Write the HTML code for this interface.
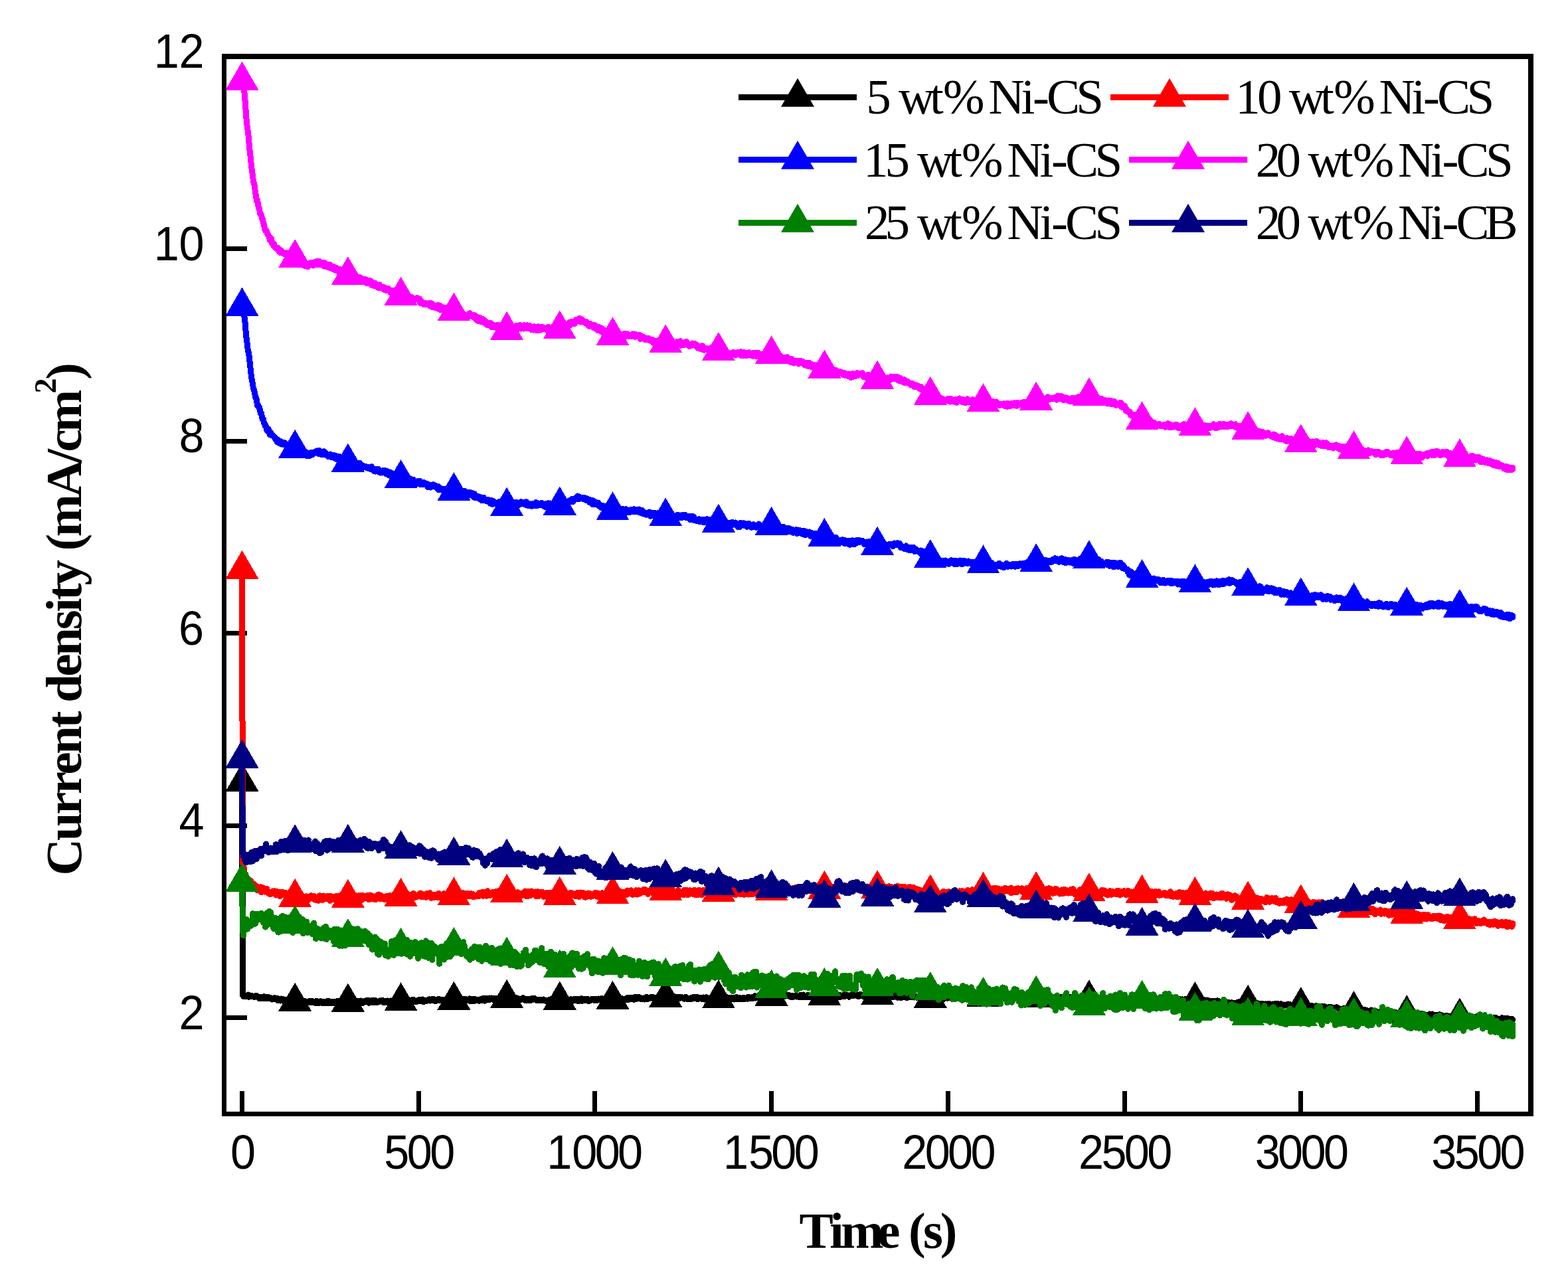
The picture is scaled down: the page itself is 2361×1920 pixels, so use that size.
<!DOCTYPE html>
<html><head><meta charset="utf-8"><title>Current density vs time</title>
<style>
html,body{margin:0;padding:0;background:#fff;overflow:hidden;width:2361px;height:1920px;}
svg{display:block;}
.tl{font-family:'Liberation Sans', Arial, sans-serif;font-size:72px;fill:#000;}
.lg{font-family:'Liberation Serif', 'Times New Roman', serif;font-size:75px;fill:#000;}
.ti{font-family:'Liberation Serif', 'Times New Roman', serif;font-size:77px;font-weight:bold;fill:#000;}
</style></head>
<body>
<svg width="2361" height="1920" viewBox="0 0 2361 1920">
<rect width="2361" height="1920" fill="#fff"/>
<g id="axes" shape-rendering="crispEdges">
<path fill="#000" d="M334 81H2309V1681H334ZM341 89V1674H2301V89Z" fill-rule="evenodd"/>
<path fill="none" stroke="#000" stroke-width="7" d="M364.5 1643V1674M630.2 1643V1674M895.9 1643V1674M1161.6 1643V1674M1427.4 1643V1674M1693.1 1643V1674M1958.8 1643V1674M2224.5 1643V1674M341 1532.5H372M341 1243.0H372M341 953.5H372M341 664.0H372M341 374.5H372"/>
</g>
<g id="data" shape-rendering="crispEdges">
<path fill="none" stroke="#000000" stroke-width="9" stroke-linejoin="round" stroke-linecap="round" d="M364.5 1177.6 365.5 1499 366.5 1500.3 367.5 1500.7 368.5 1500.2 369.5 1500.5 370.5 1499.4 371.5 1499.7 372.5 1499.3 373.5 1498 374.5 1501.3 375.5 1500.3 376.5 1498.9 377.5 1500.3 378.5 1500.3 379.5 1499.9 380.5 1500 381.5 1500.9 382.5 1501.3 383.5 1501.4 384.5 1500.9 385.5 1499.3 386.5 1500.3 387.5 1500.2 388.5 1501.9 389.5 1503.2 390.5 1503 391.5 1503.2 392.5 1503.4 393.5 1501.2 394.5 1503.7 395.5 1503.2 396.5 1500.9 397.5 1500.8 398.5 1500.9 399.5 1504 400.5 1502.1 401.5 1501.7 402.5 1503.8 403.5 1502.8 404.5 1501.9 405.5 1502.4 406.5 1504 407.5 1502.6 408.5 1503.2 409.5 1505.1 410.5 1504.2 411.5 1503.8 412.5 1504.5 413.5 1502.8 414.5 1504.4 415.5 1504.6 416.5 1503.8 417.5 1503.6 418.5 1506.9 419.5 1505.5 420.5 1504.4 421.5 1506.1 422.5 1507.1 423.5 1504 424.5 1504.1 425.5 1504.7 426.5 1507.2 427.5 1505 428.5 1507.3 429.5 1507.4 430.5 1506.9 431.5 1505.8 432.5 1508.9 433.5 1508.3 434.5 1507.3 435.5 1506.2 436.5 1508.1 437.5 1507.2 438.5 1508 439.5 1507.1 440.5 1508.5 441.5 1506.3 442.5 1507.4 443.5 1510.2 444.5 1509.9 445.5 1507.7 446.5 1509.9 447.5 1507.7 448.5 1510.3 449.5 1509.5 450.5 1508.2 451.5 1507.6 452.5 1506.6 453.5 1510.1 454.5 1506.8 455.5 1509.9 456.5 1510.5 457.5 1509 458.5 1507.4 459.5 1510.2 460.5 1510.7 461.5 1509.6 462.5 1508.8 463.5 1508.3 464.5 1508.2 465.5 1507.7 466.5 1509.6 467.5 1508.7 468.5 1507.7 469.5 1507.4 470.5 1509.7 471.5 1508.2 472.5 1509 473.5 1508.3 474.5 1510.5 475.5 1510.6 476.5 1507.1 477.5 1507.8 478.5 1508.3 479.5 1511 480.5 1510.2 481.5 1508.4 482.5 1507.9 483.5 1509.7 484.5 1510.4 485.5 1510.8 486.5 1508.4 487.5 1510.6 488.5 1509.8 489.5 1509 490.5 1511 491.5 1508 492.5 1510 493.5 1507.4 494.5 1507.8 495.5 1510.7 496.5 1507.9 497.5 1510.1 498.5 1509.5 499.5 1510.5 500.5 1508.6 501.5 1508.5 502.5 1508.3 503.5 1510.6 504.5 1509.5 505.5 1510.9 506.5 1510.7 507.5 1507.7 508.5 1509.3 509.5 1507.6 510.5 1507.3 511.5 1507.4 512.5 1510.6 513.5 1510.3 514.5 1510.5 515.5 1508.5 516.5 1509.6 517.5 1510.3 518.5 1508.7 519.5 1509.5 520.5 1508.1 521.5 1507.5 522.5 1508.3 523.5 1510.8 524.5 1509.4 525.5 1510.9 526.5 1509 527.5 1508.2 528.5 1510.2 529.5 1510.3 530.5 1507.1 531.5 1509.7 532.5 1507.3 533.5 1507.4 534.5 1510.4 535.5 1507 536.5 1507.8 537.5 1510.8 538.5 1508.5 539.5 1507.2 540.5 1507.4 541.5 1507.6 542.5 1509.6 543.5 1507 544.5 1510.2 545.5 1508.1 546.5 1510.4 547.5 1510.1 548.5 1507.7 549.5 1507.5 550.5 1508.3 551.5 1506.8 552.5 1509 553.5 1506.5 554.5 1506.3 555.5 1510.2 556.5 1507.4 557.5 1508.6 558.5 1508 559.5 1507.4 560.5 1506.4 561.5 1509.8 562.5 1509.9 563.5 1509.9 564.5 1506.5 565.5 1506.9 566.5 1508.5 567.5 1509.9 568.5 1508.1 569.5 1508.7 570.5 1508.6 571.5 1507 572.5 1508.1 573.5 1507.1 574.5 1506.9 575.5 1506.2 576.5 1507 577.5 1509.8 578.5 1507.7 579.5 1508.5 580.5 1508.4 581.5 1509.6 582.5 1507.4 583.5 1507 584.5 1507.1 585.5 1507.1 586.5 1509.2 587.5 1509.3 588.5 1507 589.5 1507.1 590.5 1507.9 591.5 1508 592.5 1508.1 593.5 1506.7 594.5 1505.8 595.5 1506.7 596.5 1506 597.5 1507.9 598.5 1505.9 599.5 1505.9 600.5 1508.2 601.5 1506.8 602.5 1508.8 603.5 1507.6 604.5 1509 605.5 1506.2 606.5 1507.5 607.5 1508.7 608.5 1505.8 609.5 1509.2 610.5 1506.1 611.5 1508.5 612.5 1509.3 613.5 1508.6 614.5 1506.6 615.5 1505.7 616.5 1507.3 617.5 1508.9 618.5 1506.4 619.5 1508.8 620.5 1505.7 621.5 1508.8 622.5 1505.2 623.5 1506.4 624.5 1508.7 625.5 1508.3 626.5 1508.6 627.5 1508.4 628.5 1507.9 629.5 1507.7 630.5 1505.6 631.5 1506.6 632.5 1505.5 633.5 1507.7 634.5 1507.5 635.5 1505.8 636.5 1505 637.5 1508.6 638.5 1507.9 639.5 1506.9 640.5 1506.8 641.5 1508 642.5 1506.4 643.5 1506.2 644.5 1505.9 645.5 1505.6 646.5 1504.6 647.5 1507.1 648.5 1506.1 649.5 1506.7 650.5 1504.7 651.5 1505.8 652.5 1504.9 653.5 1504.8 654.5 1505.3 655.5 1507.6 656.5 1505.8 657.5 1505.8 658.5 1506.6 659.5 1505.1 660.5 1504.2 661.5 1506.3 662.5 1506.2 663.5 1506.8 664.5 1506 665.5 1507 666.5 1507.2 667.5 1505.2 668.5 1506.2 669.5 1506.2 670.5 1505.1 671.5 1505.9 672.5 1506.5 673.5 1507.9 674.5 1507.9 675.5 1505.4 676.5 1506.9 677.5 1504.5 678.5 1504.6 679.5 1506.3 680.5 1507.8 681.5 1504.9 682.5 1507.4 683.5 1507.8 684.5 1505.5 685.5 1507 686.5 1507.6 687.5 1505.7 688.5 1507 689.5 1507.1 690.5 1506.5 691.5 1507.5 692.5 1507.7 693.5 1507.9 694.5 1506.3 695.5 1504.7 696.5 1505 697.5 1504.9 698.5 1506.2 699.5 1507 700.5 1504.1 701.5 1506.6 702.5 1506.7 703.5 1505.2 704.5 1505.9 705.5 1504.5 706.5 1506.7 707.5 1503.9 708.5 1507.7 709.5 1507 710.5 1506.2 711.5 1504.8 712.5 1507.3 713.5 1507.5 714.5 1504.2 715.5 1506.7 716.5 1506.9 717.5 1506.2 718.5 1506.3 719.5 1505.3 720.5 1507.2 721.5 1507.3 722.5 1505 723.5 1506.6 724.5 1505.1 725.5 1504 726.5 1504.7 727.5 1503.8 728.5 1506.9 729.5 1507.1 730.5 1503.7 731.5 1505.6 732.5 1504.9 733.5 1503.7 734.5 1504.3 735.5 1504.1 736.5 1506 737.5 1503 738.5 1503.7 739.5 1504.6 740.5 1502.9 741.5 1505.2 742.5 1505.1 743.5 1506 744.5 1503.4 745.5 1503.6 746.5 1504.6 747.5 1503.5 748.5 1504.7 749.5 1503.3 750.5 1505 751.5 1505.3 752.5 1505.3 753.5 1505.9 754.5 1504.2 755.5 1503.9 756.5 1505.3 757.5 1504.9 758.5 1504 759.5 1503.2 760.5 1502.8 761.5 1502 762.5 1504.8 763.5 1502 764.5 1504.6 765.5 1503.8 766.5 1505.5 767.5 1504.8 768.5 1505.7 769.5 1502.4 770.5 1503.9 771.5 1504.2 772.5 1503.2 773.5 1504 774.5 1503.5 775.5 1504.2 776.5 1502.1 777.5 1504 778.5 1504 779.5 1503.5 780.5 1503.9 781.5 1505.5 782.5 1505.2 783.5 1504.4 784.5 1505.1 785.5 1504.1 786.5 1503.4 787.5 1502.7 788.5 1503.8 789.5 1505.1 790.5 1506.3 791.5 1506.1 792.5 1504.8 793.5 1506.8 794.5 1504.7 795.5 1506.2 796.5 1504.5 797.5 1505.9 798.5 1506.9 799.5 1504.2 800.5 1503.7 801.5 1505.5 802.5 1505.2 803.5 1504.5 804.5 1503.1 805.5 1504.7 806.5 1504.9 807.5 1504.8 808.5 1506.7 809.5 1505.6 810.5 1506.2 811.5 1506.9 812.5 1506.3 813.5 1505.3 814.5 1506.4 815.5 1506 816.5 1506.1 817.5 1506 818.5 1505.1 819.5 1506.1 820.5 1506.1 821.5 1507.3 822.5 1506.8 823.5 1507 824.5 1506.8 825.5 1507 826.5 1506.2 827.5 1505.2 828.5 1504.9 829.5 1506.7 830.5 1507.3 831.5 1506.1 832.5 1504.5 833.5 1507.3 834.5 1505.9 835.5 1505.9 836.5 1504.2 837.5 1506.1 838.5 1507.1 839.5 1505.8 840.5 1505.6 841.5 1506.8 842.5 1504.3 843.5 1506.2 844.5 1508 845.5 1506.9 846.5 1505.7 847.5 1506.9 848.5 1506.5 849.5 1504.9 850.5 1504.9 851.5 1507.6 852.5 1505.1 853.5 1504.3 854.5 1507.3 855.5 1506.1 856.5 1505.4 857.5 1506 858.5 1506.9 859.5 1504.6 860.5 1506.5 861.5 1506.7 862.5 1507.1 863.5 1504.9 864.5 1506.2 865.5 1504.7 866.5 1506 867.5 1504.4 868.5 1506.9 869.5 1507.2 870.5 1505 871.5 1504.5 872.5 1507.5 873.5 1506.4 874.5 1507 875.5 1503.7 876.5 1507.2 877.5 1506 878.5 1504.8 879.5 1505.2 880.5 1506.5 881.5 1506.6 882.5 1504.3 883.5 1506 884.5 1504.2 885.5 1507.4 886.5 1505.3 887.5 1507.2 888.5 1506.4 889.5 1505.9 890.5 1504.5 891.5 1505.6 892.5 1504.1 893.5 1504.1 894.5 1506.4 895.5 1504.9 896.5 1506.5 897.5 1504.5 898.5 1506.4 899.5 1506.4 900.5 1504.7 901.5 1503.9 902.5 1505.1 903.5 1505.5 904.5 1503.9 905.5 1504.2 906.5 1503.7 907.5 1505.9 908.5 1507.1 909.5 1504.4 910.5 1503.6 911.5 1506.3 912.5 1506.8 913.5 1507.4 914.5 1506 915.5 1504.9 916.5 1506.9 917.5 1504 918.5 1506.3 919.5 1503.9 920.5 1505.1 921.5 1505.5 922.5 1505 923.5 1504.1 924.5 1504.3 925.5 1506.6 926.5 1505.1 927.5 1505.5 928.5 1504 929.5 1506 930.5 1504.4 931.5 1505.4 932.5 1506.6 933.5 1506.9 934.5 1503 935.5 1506 936.5 1506.2 937.5 1503.9 938.5 1504.1 939.5 1504.9 940.5 1506.2 941.5 1504 942.5 1505.9 943.5 1505.4 944.5 1502.9 945.5 1505.9 946.5 1502.2 947.5 1502.7 948.5 1504.7 949.5 1502.2 950.5 1503.5 951.5 1502.4 952.5 1503.7 953.5 1505.1 954.5 1505.3 955.5 1501.8 956.5 1501.9 957.5 1505 958.5 1501.8 959.5 1502.7 960.5 1502 961.5 1501.9 962.5 1501.6 963.5 1504 964.5 1504.4 965.5 1504.1 966.5 1504.7 967.5 1504 968.5 1502.9 969.5 1503.8 970.5 1505.1 971.5 1503.8 972.5 1502.1 973.5 1501.4 974.5 1504.9 975.5 1503.5 976.5 1502.5 977.5 1503.5 978.5 1503.2 979.5 1503.1 980.5 1501.2 981.5 1502.3 982.5 1502.5 983.5 1501.6 984.5 1504.3 985.5 1502.5 986.5 1503.4 987.5 1503.6 988.5 1503.7 989.5 1503.6 990.5 1503.7 991.5 1501.6 992.5 1504.5 993.5 1501.2 994.5 1504.2 995.5 1503.9 996.5 1503.9 997.5 1500.7 998.5 1500.8 999.5 1503.6 1000.5 1502.2 1001.5 1501.8 1002.5 1504.2 1003.5 1500.5 1004.5 1502.5 1005.5 1502.1 1006.5 1500.9 1007.5 1502 1008.5 1503.2 1009.5 1503.9 1010.5 1500.5 1011.5 1502.5 1012.5 1500.8 1013.5 1503.7 1014.5 1500.8 1015.5 1500.6 1016.5 1502 1017.5 1503.5 1018.5 1501.8 1019.5 1501.1 1020.5 1503.7 1021.5 1503.8 1022.5 1504 1023.5 1501.8 1024.5 1502.3 1025.5 1501.6 1026.5 1502.9 1027.5 1502 1028.5 1502 1029.5 1503.8 1030.5 1504.5 1031.5 1503.1 1032.5 1501.2 1033.5 1503.4 1034.5 1502.6 1035.5 1504.8 1036.5 1503.7 1037.5 1504.2 1038.5 1503.7 1039.5 1503.1 1040.5 1504.6 1041.5 1504.3 1042.5 1502.2 1043.5 1501.7 1044.5 1502.5 1045.5 1503.2 1046.5 1501.5 1047.5 1502.5 1048.5 1503.5 1049.5 1501.4 1050.5 1504.5 1051.5 1503.8 1052.5 1502.5 1053.5 1502.5 1054.5 1502.7 1055.5 1502.6 1056.5 1504.4 1057.5 1503.4 1058.5 1503.5 1059.5 1502 1060.5 1505.1 1061.5 1502.8 1062.5 1502.8 1063.5 1501.8 1064.5 1505.5 1065.5 1503.5 1066.5 1505.3 1067.5 1505.4 1068.5 1505.5 1069.5 1505 1070.5 1505.4 1071.5 1505.4 1072.5 1505 1073.5 1502.3 1074.5 1503.9 1075.5 1504.1 1076.5 1505.8 1077.5 1505 1078.5 1504.7 1079.5 1504.9 1080.5 1503.4 1081.5 1505.8 1082.5 1504.6 1083.5 1503.6 1084.5 1503.8 1085.5 1505.9 1086.5 1504.1 1087.5 1502.6 1088.5 1502.5 1089.5 1504.6 1090.5 1504.1 1091.5 1505.5 1092.5 1502.6 1093.5 1503.5 1094.5 1504.7 1095.5 1502 1096.5 1502.2 1097.5 1504 1098.5 1502.8 1099.5 1502.2 1100.5 1502.8 1101.5 1504.3 1102.5 1503.8 1103.5 1502 1104.5 1502 1105.5 1505.1 1106.5 1504.2 1107.5 1502.2 1108.5 1504.9 1109.5 1501.5 1110.5 1502.8 1111.5 1504.7 1112.5 1504.1 1113.5 1502.3 1114.5 1504.7 1115.5 1503.4 1116.5 1504.4 1117.5 1504.5 1118.5 1502.6 1119.5 1503.5 1120.5 1502.9 1121.5 1504.4 1122.5 1503.8 1123.5 1503.4 1124.5 1503.7 1125.5 1504.4 1126.5 1501.4 1127.5 1501.1 1128.5 1503.2 1129.5 1503.3 1130.5 1502.2 1131.5 1502 1132.5 1501.6 1133.5 1503.5 1134.5 1503.1 1135.5 1502.1 1136.5 1499.9 1137.5 1503.1 1138.5 1501.5 1139.5 1500.3 1140.5 1500.7 1141.5 1502.2 1142.5 1499.4 1143.5 1499.8 1144.5 1500.5 1145.5 1502.7 1146.5 1502.1 1147.5 1503 1148.5 1501.2 1149.5 1501.2 1150.5 1501.1 1151.5 1500.9 1152.5 1500.9 1153.5 1502 1154.5 1502.5 1155.5 1500.2 1156.5 1501 1157.5 1499.7 1158.5 1499.6 1159.5 1500.4 1160.5 1500.6 1161.5 1500.4 1162.5 1502.1 1163.5 1498.8 1164.5 1500.7 1165.5 1502.2 1166.5 1501.1 1167.5 1500.4 1168.5 1499.6 1169.5 1499.8 1170.5 1501.9 1171.5 1501.7 1172.5 1500.8 1173.5 1501.7 1174.5 1501.8 1175.5 1501.5 1176.5 1499.7 1177.5 1500 1178.5 1501.3 1179.5 1499.6 1180.5 1501.1 1181.5 1500 1182.5 1499.4 1183.5 1499.9 1184.5 1498.6 1185.5 1499.5 1186.5 1499.7 1187.5 1498.1 1188.5 1498.8 1189.5 1499.1 1190.5 1501.5 1191.5 1500.4 1192.5 1499.2 1193.5 1502 1194.5 1499.1 1195.5 1500.1 1196.5 1501 1197.5 1500.8 1198.5 1499.7 1199.5 1501.1 1200.5 1499.9 1201.5 1500.9 1202.5 1500 1203.5 1501.9 1204.5 1500.8 1205.5 1498.3 1206.5 1498.5 1207.5 1501.8 1208.5 1498.9 1209.5 1498.1 1210.5 1499 1211.5 1499.9 1212.5 1501.8 1213.5 1499.5 1214.5 1500.8 1215.5 1501.3 1216.5 1498.3 1217.5 1500.4 1218.5 1501.9 1219.5 1500.1 1220.5 1500 1221.5 1499.3 1222.5 1501.7 1223.5 1501.8 1224.5 1498.3 1225.5 1500.1 1226.5 1499.6 1227.5 1500.6 1228.5 1498.3 1229.5 1498.9 1230.5 1499 1231.5 1499.8 1232.5 1501 1233.5 1501.3 1234.5 1501 1235.5 1500.5 1236.5 1498.2 1237.5 1499.4 1238.5 1500.5 1239.5 1499 1240.5 1499.8 1241.5 1501.4 1242.5 1498.3 1243.5 1501.2 1244.5 1498.2 1245.5 1499.3 1246.5 1501.4 1247.5 1498.5 1248.5 1499.8 1249.5 1499.4 1250.5 1501.2 1251.5 1501.6 1252.5 1498.8 1253.5 1499.6 1254.5 1501.2 1255.5 1499.8 1256.5 1498.5 1257.5 1500.6 1258.5 1498.9 1259.5 1499.5 1260.5 1497.6 1261.5 1501.5 1262.5 1500.2 1263.5 1501.2 1264.5 1501.4 1265.5 1498.6 1266.5 1499.6 1267.5 1499.2 1268.5 1500.5 1269.5 1500.8 1270.5 1498.3 1271.5 1498.5 1272.5 1500.2 1273.5 1499 1274.5 1497.9 1275.5 1498.2 1276.5 1499.6 1277.5 1499.7 1278.5 1501.2 1279.5 1499.5 1280.5 1499.7 1281.5 1497.9 1282.5 1498.9 1283.5 1498.4 1284.5 1500 1285.5 1498.3 1286.5 1498.1 1287.5 1498.7 1288.5 1499.1 1289.5 1498.6 1290.5 1499.6 1291.5 1497.9 1292.5 1500.7 1293.5 1499.9 1294.5 1499.3 1295.5 1497.4 1296.5 1498.4 1297.5 1499.9 1298.5 1499.7 1299.5 1500.3 1300.5 1500.6 1301.5 1498.3 1302.5 1499 1303.5 1498.3 1304.5 1497.5 1305.5 1497.6 1306.5 1498 1307.5 1497.3 1308.5 1499.1 1309.5 1499.8 1310.5 1499.2 1311.5 1499.7 1312.5 1497.8 1313.5 1497.7 1314.5 1499.2 1315.5 1500.4 1316.5 1498.5 1317.5 1496.9 1318.5 1496.9 1319.5 1498 1320.5 1499.3 1321.5 1497.2 1322.5 1497.8 1323.5 1499.7 1324.5 1500.9 1325.5 1498.4 1326.5 1499.5 1327.5 1499.2 1328.5 1497.3 1329.5 1498.6 1330.5 1497.9 1331.5 1498.4 1332.5 1500.5 1333.5 1500.2 1334.5 1497.7 1335.5 1497.9 1336.5 1500.5 1337.5 1498.1 1338.5 1499 1339.5 1498.9 1340.5 1498.1 1341.5 1498.1 1342.5 1498.5 1343.5 1499.6 1344.5 1501.8 1345.5 1500.7 1346.5 1499.2 1347.5 1501 1348.5 1499.4 1349.5 1500.4 1350.5 1499.7 1351.5 1502.3 1352.5 1499.9 1353.5 1501.8 1354.5 1501.2 1355.5 1502.1 1356.5 1501.2 1357.5 1502.3 1358.5 1500.5 1359.5 1501.6 1360.5 1501.5 1361.5 1501.1 1362.5 1501.3 1363.5 1501.3 1364.5 1500.8 1365.5 1502.8 1366.5 1501.8 1367.5 1501.6 1368.5 1499.6 1369.5 1501.5 1370.5 1500.2 1371.5 1500.4 1372.5 1501.4 1373.5 1501.9 1374.5 1500.7 1375.5 1500.9 1376.5 1502 1377.5 1501.8 1378.5 1501.6 1379.5 1500.4 1380.5 1501.6 1381.5 1502.8 1382.5 1502.4 1383.5 1502.4 1384.5 1503.7 1385.5 1503.2 1386.5 1503.1 1387.5 1500.6 1388.5 1501.8 1389.5 1503.3 1390.5 1501.3 1391.5 1504.3 1392.5 1501.3 1393.5 1504.3 1394.5 1501.7 1395.5 1504.3 1396.5 1504.4 1397.5 1502.4 1398.5 1504.6 1399.5 1501.8 1400.5 1504.6 1401.5 1502.7 1402.5 1502.9 1403.5 1501.6 1404.5 1503.5 1405.5 1502.2 1406.5 1503.8 1407.5 1504.3 1408.5 1503.5 1409.5 1501.1 1410.5 1504.8 1411.5 1504.7 1412.5 1503.6 1413.5 1502.5 1414.5 1503.2 1415.5 1504.5 1416.5 1502.7 1417.5 1504 1418.5 1503.3 1419.5 1502.5 1420.5 1504.6 1421.5 1502.4 1422.5 1503.2 1423.5 1501 1424.5 1502.6 1425.5 1500.9 1426.5 1503.5 1427.5 1500.7 1428.5 1500.8 1429.5 1501.1 1430.5 1501.2 1431.5 1502.7 1432.5 1502 1433.5 1501.7 1434.5 1504.5 1435.5 1504.2 1436.5 1503.1 1437.5 1503.7 1438.5 1503.8 1439.5 1501.5 1440.5 1503.7 1441.5 1501.4 1442.5 1502.7 1443.5 1501.8 1444.5 1501 1445.5 1503.5 1446.5 1504 1447.5 1501.6 1448.5 1503.8 1449.5 1501.7 1450.5 1502.9 1451.5 1504.2 1452.5 1503.3 1453.5 1500.4 1454.5 1501.9 1455.5 1501.7 1456.5 1501.3 1457.5 1503.4 1458.5 1501.9 1459.5 1502.9 1460.5 1502.6 1461.5 1502.1 1462.5 1500.3 1463.5 1502.7 1464.5 1503.6 1465.5 1500.7 1466.5 1502.5 1467.5 1501.9 1468.5 1501.3 1469.5 1502.7 1470.5 1503.8 1471.5 1500 1472.5 1503.4 1473.5 1501.4 1474.5 1503.1 1475.5 1500.5 1476.5 1502.6 1477.5 1500.2 1478.5 1501.1 1479.5 1503.6 1480.5 1502.3 1481.5 1502.8 1482.5 1501.6 1483.5 1501.6 1484.5 1501.7 1485.5 1502.8 1486.5 1502.7 1487.5 1500.5 1488.5 1501.5 1489.5 1502 1490.5 1502.1 1491.5 1503.5 1492.5 1503.2 1493.5 1500.4 1494.5 1501.3 1495.5 1500.3 1496.5 1500 1497.5 1500.2 1498.5 1500.6 1499.5 1503 1500.5 1502.6 1501.5 1503.1 1502.5 1501.1 1503.5 1500.6 1504.5 1503.8 1505.5 1503.3 1506.5 1503.7 1507.5 1500 1508.5 1501.6 1509.5 1502.5 1510.5 1502.9 1511.5 1503.7 1512.5 1502.2 1513.5 1501.6 1514.5 1500.1 1515.5 1503.3 1516.5 1504 1517.5 1503.7 1518.5 1502.7 1519.5 1501.5 1520.5 1501.1 1521.5 1503.2 1522.5 1503.9 1523.5 1504 1524.5 1500.8 1525.5 1502.5 1526.5 1502.2 1527.5 1501.9 1528.5 1503.4 1529.5 1503.9 1530.5 1503.1 1531.5 1503 1532.5 1503 1533.5 1502.8 1534.5 1502.4 1535.5 1501.2 1536.5 1503.4 1537.5 1500.7 1538.5 1502.9 1539.5 1501.8 1540.5 1502.5 1541.5 1502.9 1542.5 1502.2 1543.5 1504.2 1544.5 1501.3 1545.5 1500.4 1546.5 1504.2 1547.5 1501.6 1548.5 1501.5 1549.5 1502.1 1550.5 1502.8 1551.5 1504.4 1552.5 1503.3 1553.5 1501.7 1554.5 1502.6 1555.5 1502.2 1556.5 1502.5 1557.5 1502.1 1558.5 1501.2 1559.5 1502.1 1560.5 1502.1 1561.5 1501.3 1562.5 1503.8 1563.5 1502 1564.5 1501.2 1565.5 1502.9 1566.5 1504 1567.5 1503.8 1568.5 1503.1 1569.5 1503.6 1570.5 1502 1571.5 1501.3 1572.5 1501.8 1573.5 1502.1 1574.5 1501.9 1575.5 1502.7 1576.5 1501.4 1577.5 1501.3 1578.5 1501.9 1579.5 1501.6 1580.5 1504.1 1581.5 1503.1 1582.5 1501.7 1583.5 1502.7 1584.5 1504.4 1585.5 1503.3 1586.5 1503.2 1587.5 1502.6 1588.5 1501.8 1589.5 1503.6 1590.5 1501.4 1591.5 1504.2 1592.5 1501.3 1593.5 1504.1 1594.5 1502.7 1595.5 1503.9 1596.5 1503.5 1597.5 1501.7 1598.5 1503.4 1599.5 1501.5 1600.5 1502.2 1601.5 1502.8 1602.5 1502.4 1603.5 1504 1604.5 1505.3 1605.5 1502.8 1606.5 1504.7 1607.5 1502.3 1608.5 1504.2 1609.5 1502.8 1610.5 1503.6 1611.5 1501.8 1612.5 1504.8 1613.5 1502.3 1614.5 1503.4 1615.5 1502.7 1616.5 1504.8 1617.5 1503.9 1618.5 1504.1 1619.5 1504.6 1620.5 1502.7 1621.5 1501.9 1622.5 1505 1623.5 1503 1624.5 1505 1625.5 1505.6 1626.5 1504.3 1627.5 1502.2 1628.5 1505.2 1629.5 1504.3 1630.5 1502.8 1631.5 1502.7 1632.5 1503.9 1633.5 1502.4 1634.5 1505.5 1635.5 1504.7 1636.5 1505.2 1637.5 1503.5 1638.5 1505.7 1639.5 1502.5 1640.5 1504.9 1641.5 1503 1642.5 1502 1643.5 1502.5 1644.5 1502.9 1645.5 1505.1 1646.5 1503.6 1647.5 1504 1648.5 1504.6 1649.5 1503.2 1650.5 1504.7 1651.5 1504.8 1652.5 1505.8 1653.5 1504.2 1654.5 1505.6 1655.5 1506.1 1656.5 1505.3 1657.5 1503.9 1658.5 1503.3 1659.5 1502.6 1660.5 1505.6 1661.5 1502.8 1662.5 1504.5 1663.5 1504.1 1664.5 1502.5 1665.5 1503.2 1666.5 1505.6 1667.5 1504.5 1668.5 1506.1 1669.5 1506 1670.5 1502.8 1671.5 1505.1 1672.5 1502.6 1673.5 1504.1 1674.5 1504.2 1675.5 1506.3 1676.5 1504.8 1677.5 1503.2 1678.5 1504.5 1679.5 1504.6 1680.5 1503.3 1681.5 1504 1682.5 1506 1683.5 1506.5 1684.5 1505.7 1685.5 1502.8 1686.5 1506.2 1687.5 1504.4 1688.5 1505.9 1689.5 1503.3 1690.5 1503.2 1691.5 1506.3 1692.5 1503.8 1693.5 1502.8 1694.5 1504.7 1695.5 1506.7 1696.5 1506.1 1697.5 1504.3 1698.5 1506.7 1699.5 1505.9 1700.5 1506.1 1701.5 1505.4 1702.5 1504.4 1703.5 1506.4 1704.5 1504.7 1705.5 1506.6 1706.5 1505 1707.5 1506.5 1708.5 1504.8 1709.5 1504.6 1710.5 1505.2 1711.5 1504.2 1712.5 1503.5 1713.5 1505.3 1714.5 1506.3 1715.5 1504.1 1716.5 1506.4 1717.5 1506.1 1718.5 1506.1 1719.5 1504.7 1720.5 1507 1721.5 1506.2 1722.5 1505.4 1723.5 1503.5 1724.5 1505.4 1725.5 1503.2 1726.5 1506.8 1727.5 1504.5 1728.5 1504.7 1729.5 1505.4 1730.5 1505.8 1731.5 1505.6 1732.5 1505.2 1733.5 1505.9 1734.5 1506.7 1735.5 1505.1 1736.5 1505.4 1737.5 1506.6 1738.5 1503.4 1739.5 1504.1 1740.5 1504.8 1741.5 1504.3 1742.5 1507.1 1743.5 1504.1 1744.5 1504 1745.5 1504.9 1746.5 1505.6 1747.5 1506.9 1748.5 1507.6 1749.5 1507.1 1750.5 1506.1 1751.5 1503.9 1752.5 1504 1753.5 1506.3 1754.5 1507.1 1755.5 1504.9 1756.5 1507.7 1757.5 1506.1 1758.5 1506.2 1759.5 1506.4 1760.5 1504.2 1761.5 1504.6 1762.5 1507.7 1763.5 1505.1 1764.5 1504.3 1765.5 1505.2 1766.5 1507 1767.5 1505.1 1768.5 1504.9 1769.5 1505.2 1770.5 1506.1 1771.5 1507.1 1772.5 1505.4 1773.5 1507.7 1774.5 1508.1 1775.5 1507.5 1776.5 1504.6 1777.5 1505.6 1778.5 1508 1779.5 1507.8 1780.5 1504.9 1781.5 1506.2 1782.5 1505.9 1783.5 1507.4 1784.5 1504.6 1785.5 1505.7 1786.5 1507.5 1787.5 1508.1 1788.5 1504.7 1789.5 1506.9 1790.5 1507.3 1791.5 1508.1 1792.5 1506.3 1793.5 1508.6 1794.5 1505.5 1795.5 1505.2 1796.5 1505.3 1797.5 1507.1 1798.5 1505.3 1799.5 1505.9 1800.5 1505.7 1801.5 1505.1 1802.5 1508.8 1803.5 1506.4 1804.5 1509 1805.5 1508.1 1806.5 1506.1 1807.5 1509 1808.5 1505.4 1809.5 1509.3 1810.5 1505.6 1811.5 1506.5 1812.5 1507.8 1813.5 1505.7 1814.5 1508.7 1815.5 1506.1 1816.5 1509.1 1817.5 1506 1818.5 1508 1819.5 1506.8 1820.5 1507.2 1821.5 1508.1 1822.5 1507.6 1823.5 1507.8 1824.5 1508.9 1825.5 1507.1 1826.5 1507.1 1827.5 1509.2 1828.5 1507.7 1829.5 1510.3 1830.5 1508.3 1831.5 1508.6 1832.5 1506.8 1833.5 1506.9 1834.5 1507.3 1835.5 1509.4 1836.5 1509.6 1837.5 1510.9 1838.5 1508.8 1839.5 1510 1840.5 1508.6 1841.5 1507.6 1842.5 1509 1843.5 1510.2 1844.5 1510.7 1845.5 1511.3 1846.5 1510.9 1847.5 1509.9 1848.5 1509.9 1849.5 1509.8 1850.5 1509.7 1851.5 1510.6 1852.5 1510.2 1853.5 1511.4 1854.5 1509.8 1855.5 1510 1856.5 1511.5 1857.5 1510.9 1858.5 1510.4 1859.5 1510.6 1860.5 1511.6 1861.5 1510.9 1862.5 1509.6 1863.5 1509.8 1864.5 1511.1 1865.5 1508.9 1866.5 1510.6 1867.5 1512.4 1868.5 1509.8 1869.5 1510.7 1870.5 1511.8 1871.5 1512.8 1872.5 1511.9 1873.5 1511.7 1874.5 1510.8 1875.5 1511 1876.5 1511.9 1877.5 1510.8 1878.5 1512.6 1879.5 1509.5 1880.5 1512.6 1881.5 1512.6 1882.5 1510.9 1883.5 1509.7 1884.5 1511.1 1885.5 1512.1 1886.5 1512.9 1887.5 1513.3 1888.5 1510.7 1889.5 1510.2 1890.5 1510.4 1891.5 1514 1892.5 1512.6 1893.5 1510.6 1894.5 1512.9 1895.5 1514 1896.5 1512.6 1897.5 1511.2 1898.5 1514.1 1899.5 1513.1 1900.5 1511.1 1901.5 1513.5 1902.5 1512.5 1903.5 1512.8 1904.5 1512 1905.5 1511.7 1906.5 1512.3 1907.5 1512.7 1908.5 1512.5 1909.5 1514.2 1910.5 1511.1 1911.5 1511.6 1912.5 1514.6 1913.5 1513.3 1914.5 1513.4 1915.5 1513.5 1916.5 1512 1917.5 1512.6 1918.5 1511.9 1919.5 1511.7 1920.5 1515.1 1921.5 1514.2 1922.5 1514.8 1923.5 1511.3 1924.5 1514.1 1925.5 1512.6 1926.5 1513.4 1927.5 1514.1 1928.5 1511.6 1929.5 1513 1930.5 1513.8 1931.5 1515.1 1932.5 1513.7 1933.5 1513 1934.5 1514.1 1935.5 1514.1 1936.5 1513 1937.5 1514 1938.5 1513 1939.5 1512 1940.5 1513.2 1941.5 1512.4 1942.5 1514 1943.5 1514.1 1944.5 1515.6 1945.5 1515.2 1946.5 1515.2 1947.5 1516.2 1948.5 1513.3 1949.5 1513.8 1950.5 1513.3 1951.5 1512.8 1952.5 1514.5 1953.5 1514.5 1954.5 1513 1955.5 1516.3 1956.5 1516.5 1957.5 1512.9 1958.5 1512.7 1959.5 1513 1960.5 1515.8 1961.5 1516.3 1962.5 1513.2 1963.5 1513.1 1964.5 1515.3 1965.5 1514.5 1966.5 1513.4 1967.5 1513.4 1968.5 1514.3 1969.5 1514.3 1970.5 1514.8 1971.5 1515.9 1972.5 1514.7 1973.5 1514.7 1974.5 1514.7 1975.5 1517.5 1976.5 1515 1977.5 1516.3 1978.5 1516 1979.5 1515.6 1980.5 1516 1981.5 1514.5 1982.5 1515.2 1983.5 1517.1 1984.5 1517.7 1985.5 1515.6 1986.5 1515.5 1987.5 1518.5 1988.5 1515.3 1989.5 1518.2 1990.5 1518.6 1991.5 1515.7 1992.5 1518.6 1993.5 1515.9 1994.5 1515.6 1995.5 1516.6 1996.5 1516.9 1997.5 1518 1998.5 1517.5 1999.5 1518.9 2000.5 1518.5 2001.5 1516.4 2002.5 1516.8 2003.5 1519 2004.5 1516.6 2005.5 1520 2006.5 1519.5 2007.5 1517.2 2008.5 1517.6 2009.5 1517.5 2010.5 1518.3 2011.5 1517.7 2012.5 1516.9 2013.5 1517.8 2014.5 1517.7 2015.5 1518.4 2016.5 1518.9 2017.5 1520.6 2018.5 1519.8 2019.5 1519.7 2020.5 1520.8 2021.5 1519 2022.5 1519.2 2023.5 1518.5 2024.5 1521 2025.5 1521.2 2026.5 1521.4 2027.5 1520.3 2028.5 1518.4 2029.5 1518.3 2030.5 1521.3 2031.5 1521.7 2032.5 1520.4 2033.5 1522 2034.5 1522.1 2035.5 1521.5 2036.5 1520 2037.5 1520.5 2038.5 1520.1 2039.5 1520.4 2040.5 1520.7 2041.5 1519 2042.5 1519.5 2043.5 1519.8 2044.5 1521.4 2045.5 1522.7 2046.5 1522.2 2047.5 1520 2048.5 1521.3 2049.5 1522.1 2050.5 1520.2 2051.5 1520 2052.5 1522.2 2053.5 1520.8 2054.5 1522.5 2055.5 1520.7 2056.5 1523.5 2057.5 1521.4 2058.5 1522 2059.5 1522.5 2060.5 1524 2061.5 1524.2 2062.5 1523.9 2063.5 1523.4 2064.5 1521 2065.5 1521.5 2066.5 1523 2067.5 1524.9 2068.5 1523.9 2069.5 1521.9 2070.5 1522.6 2071.5 1525.1 2072.5 1523.4 2073.5 1524.9 2074.5 1524.9 2075.5 1524.7 2076.5 1524.2 2077.5 1524.4 2078.5 1523.2 2079.5 1522.4 2080.5 1525.8 2081.5 1522.2 2082.5 1523.2 2083.5 1524.7 2084.5 1526.1 2085.5 1523.2 2086.5 1523.4 2087.5 1525.9 2088.5 1523.9 2089.5 1524.3 2090.5 1524.2 2091.5 1523 2092.5 1526.7 2093.5 1525.8 2094.5 1523.1 2095.5 1523.5 2096.5 1523.8 2097.5 1524.8 2098.5 1526.9 2099.5 1524 2100.5 1524.4 2101.5 1524.8 2102.5 1525.7 2103.5 1527.4 2104.5 1526 2105.5 1527.5 2106.5 1526.2 2107.5 1525.8 2108.5 1527.6 2109.5 1526.5 2110.5 1526.2 2111.5 1526.4 2112.5 1525.9 2113.5 1526.3 2114.5 1524.9 2115.5 1525.5 2116.5 1527.8 2117.5 1525.4 2118.5 1525.7 2119.5 1525.6 2120.5 1526.5 2121.5 1525.3 2122.5 1526.6 2123.5 1527.6 2124.5 1528 2125.5 1528.8 2126.5 1525.7 2127.5 1528 2128.5 1526.2 2129.5 1526.9 2130.5 1527.9 2131.5 1529 2132.5 1528.4 2133.5 1529.7 2134.5 1525.9 2135.5 1527.1 2136.5 1527.8 2137.5 1526.1 2138.5 1526.2 2139.5 1527.5 2140.5 1528.3 2141.5 1526.7 2142.5 1526.5 2143.5 1527.5 2144.5 1529.3 2145.5 1528.6 2146.5 1530.4 2147.5 1528.9 2148.5 1530.1 2149.5 1528.9 2150.5 1528.6 2151.5 1528.4 2152.5 1527 2153.5 1527.1 2154.5 1529.5 2155.5 1530.3 2156.5 1527 2157.5 1527.7 2158.5 1528.4 2159.5 1528.4 2160.5 1530.5 2161.5 1528.2 2162.5 1528.5 2163.5 1529.3 2164.5 1531.2 2165.5 1528.6 2166.5 1530 2167.5 1527.8 2168.5 1529.3 2169.5 1531.4 2170.5 1528.6 2171.5 1529.2 2172.5 1530.4 2173.5 1530.1 2174.5 1530.2 2175.5 1530.4 2176.5 1530.7 2177.5 1529.4 2178.5 1529.6 2179.5 1529.8 2180.5 1530.4 2181.5 1530.6 2182.5 1531.9 2183.5 1530 2184.5 1530.3 2185.5 1531.9 2186.5 1532.5 2187.5 1529.6 2188.5 1531.6 2189.5 1529.7 2190.5 1531.8 2191.5 1529 2192.5 1530.9 2193.5 1531.2 2194.5 1531.8 2195.5 1532.7 2196.5 1532.3 2197.5 1531.4 2198.5 1531.2 2199.5 1529.3 2200.5 1531.6 2201.5 1531.6 2202.5 1532.4 2203.5 1530.2 2204.5 1531.9 2205.5 1529.8 2206.5 1532.6 2207.5 1533 2208.5 1531.5 2209.5 1532.6 2210.5 1532.5 2211.5 1531.1 2212.5 1530.3 2213.5 1533.1 2214.5 1531.5 2215.5 1530.8 2216.5 1532 2217.5 1533.6 2218.5 1534.1 2219.5 1532.6 2220.5 1534.3 2221.5 1531.2 2222.5 1532.5 2223.5 1530.6 2224.5 1531.6 2225.5 1534.2 2226.5 1531 2227.5 1533.4 2228.5 1532.9 2229.5 1534.9 2230.5 1534.9 2231.5 1531.5 2232.5 1532.1 2233.5 1535.1 2234.5 1532.5 2235.5 1532 2236.5 1534.9 2237.5 1533.8 2238.5 1532.6 2239.5 1533.7 2240.5 1533.2 2241.5 1533.4 2242.5 1533.8 2243.5 1532.3 2244.5 1534.2 2245.5 1535.6 2246.5 1534.2 2247.5 1535 2248.5 1533.1 2249.5 1532.6 2250.5 1532.1 2251.5 1536 2252.5 1532.6 2253.5 1533.7 2254.5 1534.9 2255.5 1535.2 2256.5 1534.8 2257.5 1534.2 2258.5 1535.7 2259.5 1534.3 2260.5 1535.9 2261.5 1532.8 2262.5 1535.6 2263.5 1533.1 2264.5 1534.3 2265.5 1534.6 2266.5 1533.6 2267.5 1534.8 2268.5 1536.4 2269.5 1533.2 2270.5 1533.9 2271.5 1537.1 2272.5 1535 2273.5 1534.8 2274.5 1537 2275.5 1536.5 2276.5 1534.1 2277.5 1535.9 2277.6 1535.5"/>
<path fill="#000000" d="M364.5 1148.9L389.5 1191.9L339.5 1191.9ZM444.2 1479.7L469.2 1522.7L419.2 1522.7ZM523.9 1480.5L548.9 1523.5L498.9 1523.5ZM603.6 1479.3L628.6 1522.3L578.6 1522.3ZM683.4 1477.6L708.4 1520.6L658.4 1520.6ZM763.1 1474.8L788.1 1517.8L738.1 1517.8ZM842.8 1477.5L867.8 1520.5L817.8 1520.5ZM922.5 1476.8L947.5 1519.8L897.5 1519.8ZM1002.2 1473.6L1027.2 1516.6L977.2 1516.6ZM1081.9 1475.3L1106.9 1518.3L1056.9 1518.3ZM1161.6 1471.5L1186.6 1514.5L1136.6 1514.5ZM1241.4 1471.1L1266.4 1514.1L1216.4 1514.1ZM1321.1 1470.1L1346.1 1513.1L1296.1 1513.1ZM1400.8 1474.5L1425.8 1517.5L1375.8 1517.5ZM1480.5 1473.0L1505.5 1516.0L1455.5 1516.0ZM1560.2 1473.8L1585.2 1516.8L1535.2 1516.8ZM1639.9 1475.3L1664.9 1518.3L1614.9 1518.3ZM1719.6 1476.3L1744.6 1519.3L1694.6 1519.3ZM1799.4 1478.1L1824.4 1521.1L1774.4 1521.1ZM1879.1 1482.8L1904.1 1525.8L1854.1 1525.8ZM1958.8 1486.0L1983.8 1529.0L1933.8 1529.0ZM2038.5 1492.0L2063.5 1535.0L2013.5 1535.0ZM2118.2 1498.2L2143.2 1541.2L2093.2 1541.2ZM2197.9 1502.5L2222.9 1545.5L2172.9 1545.5Z"/>
<path fill="none" stroke="#ff0000" stroke-width="9" stroke-linejoin="round" stroke-linecap="round" d="M364.5 857.5 365.5 1300 366.5 1303.1 367.5 1307.6 368.5 1317.7 369.5 1316.4 370.5 1322.7 371.5 1326.4 372.5 1322.6 373.5 1323.4 374.5 1329.8 375.5 1327.2 376.5 1330.6 377.5 1326.2 378.5 1329.9 379.5 1329.4 380.5 1334.5 381.5 1330.7 382.5 1338.7 383.5 1332.2 384.5 1338.8 385.5 1333.8 386.5 1335.9 387.5 1340.7 388.5 1335.7 389.5 1336.2 390.5 1340.5 391.5 1338.3 392.5 1335.9 393.5 1343.7 394.5 1337.3 395.5 1336.6 396.5 1339.3 397.5 1341.8 398.5 1343.1 399.5 1338.3 400.5 1340.3 401.5 1338.2 402.5 1341.8 403.5 1344.6 404.5 1344.6 405.5 1346.2 406.5 1345.3 407.5 1346.4 408.5 1345.4 409.5 1343.7 410.5 1341.9 411.5 1345.6 412.5 1343.1 413.5 1341.5 414.5 1344.5 415.5 1348.1 416.5 1342.3 417.5 1346.2 418.5 1344.9 419.5 1346 420.5 1343.3 421.5 1350 422.5 1344.6 423.5 1347.6 424.5 1346.3 425.5 1343.3 426.5 1347.8 427.5 1344.6 428.5 1344.2 429.5 1344.2 430.5 1345.4 431.5 1345.2 432.5 1349.7 433.5 1348.9 434.5 1353 435.5 1352.8 436.5 1353.6 437.5 1347.7 438.5 1349.7 439.5 1348.4 440.5 1351.3 441.5 1351.8 442.5 1353.5 443.5 1353 444.5 1349.6 445.5 1350.9 446.5 1351.8 447.5 1347.6 448.5 1347.9 449.5 1350.9 450.5 1348.6 451.5 1353.5 452.5 1349.7 453.5 1348.6 454.5 1349.2 455.5 1349.7 456.5 1349.6 457.5 1352 458.5 1351.6 459.5 1350.4 460.5 1353.1 461.5 1349.7 462.5 1355.3 463.5 1355.8 464.5 1353.9 465.5 1351.6 466.5 1352.2 467.5 1352.8 468.5 1348.6 469.5 1351.6 470.5 1352.5 471.5 1349.7 472.5 1349.1 473.5 1354.8 474.5 1351.3 475.5 1352.5 476.5 1355.8 477.5 1353.3 478.5 1350.8 479.5 1356.4 480.5 1351.5 481.5 1348.7 482.5 1354.1 483.5 1349.4 484.5 1351.1 485.5 1355.4 486.5 1354.1 487.5 1348.9 488.5 1352.4 489.5 1352.1 490.5 1352.7 491.5 1350.5 492.5 1353.5 493.5 1349.4 494.5 1351 495.5 1351.7 496.5 1356.2 497.5 1349.3 498.5 1354.8 499.5 1350.3 500.5 1353.3 501.5 1351.8 502.5 1352.4 503.5 1354.7 504.5 1351.8 505.5 1349.6 506.5 1349.6 507.5 1349.3 508.5 1355.4 509.5 1353.8 510.5 1356.3 511.5 1354.2 512.5 1348.8 513.5 1353.9 514.5 1354.8 515.5 1354.4 516.5 1352.5 517.5 1351.4 518.5 1352.2 519.5 1354.9 520.5 1350.7 521.5 1352.7 522.5 1352.3 523.5 1356.1 524.5 1354.9 525.5 1355.9 526.5 1355.1 527.5 1350.7 528.5 1350.2 529.5 1352.2 530.5 1350.3 531.5 1351.6 532.5 1353.6 533.5 1355.4 534.5 1352.7 535.5 1354.6 536.5 1348.7 537.5 1350.8 538.5 1355.9 539.5 1349 540.5 1351.1 541.5 1348.3 542.5 1348.4 543.5 1354.8 544.5 1355.5 545.5 1352.8 546.5 1348.6 547.5 1349.9 548.5 1349.3 549.5 1352.8 550.5 1352.8 551.5 1350.9 552.5 1351.5 553.5 1348.2 554.5 1351.5 555.5 1354.8 556.5 1353.2 557.5 1347.9 558.5 1351.2 559.5 1352.7 560.5 1349 561.5 1354.1 562.5 1350.6 563.5 1352.5 564.5 1350 565.5 1354.8 566.5 1353 567.5 1351.4 568.5 1347.9 569.5 1350.3 570.5 1347 571.5 1351.5 572.5 1353.8 573.5 1348.2 574.5 1350.8 575.5 1350.6 576.5 1349.9 577.5 1352.4 578.5 1354.2 579.5 1352.3 580.5 1350.5 581.5 1354.4 582.5 1349.3 583.5 1352.6 584.5 1351.9 585.5 1352.7 586.5 1353.4 587.5 1348.4 588.5 1351.6 589.5 1349.8 590.5 1351.9 591.5 1354.4 592.5 1351.7 593.5 1346.7 594.5 1350.3 595.5 1352.3 596.5 1353.6 597.5 1351.7 598.5 1353.1 599.5 1346.7 600.5 1354.1 601.5 1352.4 602.5 1351.4 603.5 1353.7 604.5 1353.5 605.5 1347.2 606.5 1352.8 607.5 1352.4 608.5 1347.8 609.5 1352.1 610.5 1350.8 611.5 1347.5 612.5 1352.4 613.5 1347 614.5 1350.7 615.5 1349.2 616.5 1347.7 617.5 1350.2 618.5 1349.3 619.5 1347.2 620.5 1353.2 621.5 1346 622.5 1345.4 623.5 1349.2 624.5 1351.9 625.5 1350.4 626.5 1351.1 627.5 1348.9 628.5 1350.4 629.5 1347.6 630.5 1347 631.5 1348.8 632.5 1344.9 633.5 1345.3 634.5 1350.6 635.5 1345.9 636.5 1350.5 637.5 1350.7 638.5 1347.6 639.5 1349.8 640.5 1350.7 641.5 1351.4 642.5 1345.5 643.5 1345.8 644.5 1347.5 645.5 1348.2 646.5 1346.9 647.5 1344.6 648.5 1349 649.5 1352.3 650.5 1347.5 651.5 1348.9 652.5 1347.7 653.5 1348.2 654.5 1351.6 655.5 1347.1 656.5 1349.8 657.5 1348.5 658.5 1349 659.5 1352 660.5 1345.3 661.5 1351.3 662.5 1347.2 663.5 1349.9 664.5 1351.1 665.5 1350 666.5 1347.9 667.5 1351.5 668.5 1345.5 669.5 1349.9 670.5 1348 671.5 1349.1 672.5 1351.7 673.5 1351.3 674.5 1349.9 675.5 1347.4 676.5 1346.8 677.5 1348.6 678.5 1346.8 679.5 1347.2 680.5 1352.6 681.5 1345.9 682.5 1351.5 683.5 1348 684.5 1347.8 685.5 1347.4 686.5 1345.4 687.5 1348.3 688.5 1345.9 689.5 1348.1 690.5 1346.8 691.5 1351.5 692.5 1351.7 693.5 1347.8 694.5 1349.3 695.5 1351.5 696.5 1346.6 697.5 1344.7 698.5 1345.8 699.5 1345.3 700.5 1349.1 701.5 1346.6 702.5 1346.4 703.5 1349.8 704.5 1345.3 705.5 1349.8 706.5 1348.3 707.5 1346.4 708.5 1349.7 709.5 1345.8 710.5 1350 711.5 1350.3 712.5 1346.8 713.5 1348.2 714.5 1350.2 715.5 1348.5 716.5 1348.5 717.5 1349.4 718.5 1349.8 719.5 1348.3 720.5 1350 721.5 1344.5 722.5 1347.1 723.5 1347.4 724.5 1344.9 725.5 1345.1 726.5 1343.3 727.5 1349.5 728.5 1344.7 729.5 1345.6 730.5 1348.9 731.5 1343.2 732.5 1349.4 733.5 1342.7 734.5 1341.8 735.5 1344.4 736.5 1344.4 737.5 1348.8 738.5 1348.5 739.5 1347.5 740.5 1344.9 741.5 1345.7 742.5 1343.2 743.5 1347.9 744.5 1344.3 745.5 1343.5 746.5 1346.2 747.5 1342.3 748.5 1343.6 749.5 1348.4 750.5 1341.7 751.5 1342.1 752.5 1342.5 753.5 1342.9 754.5 1344.2 755.5 1342.8 756.5 1343.5 757.5 1342.7 758.5 1342.6 759.5 1345.5 760.5 1343.3 761.5 1343.5 762.5 1346.7 763.5 1341 764.5 1341.7 765.5 1347.4 766.5 1344.1 767.5 1346.9 768.5 1341.8 769.5 1344.9 770.5 1347.5 771.5 1343.5 772.5 1347 773.5 1345.8 774.5 1344.1 775.5 1348.9 776.5 1344.1 777.5 1344.8 778.5 1346 779.5 1343.6 780.5 1347.8 781.5 1346 782.5 1345.9 783.5 1345.6 784.5 1349.2 785.5 1349.2 786.5 1348.1 787.5 1345 788.5 1344.7 789.5 1345.7 790.5 1341.9 791.5 1342.4 792.5 1349.6 793.5 1342.7 794.5 1349.2 795.5 1347.1 796.5 1349.1 797.5 1342.4 798.5 1344.3 799.5 1348.2 800.5 1342 801.5 1342.8 802.5 1344.8 803.5 1343.4 804.5 1343.2 805.5 1347.4 806.5 1342.9 807.5 1350 808.5 1347.5 809.5 1342.7 810.5 1349.6 811.5 1344.4 812.5 1346.4 813.5 1347.1 814.5 1343.8 815.5 1346.7 816.5 1343.3 817.5 1344.4 818.5 1350.3 819.5 1349.6 820.5 1347.2 821.5 1348.6 822.5 1350.2 823.5 1344.4 824.5 1347.2 825.5 1344.4 826.5 1344.4 827.5 1344.4 828.5 1345.3 829.5 1344.1 830.5 1345.4 831.5 1346.8 832.5 1348.8 833.5 1350.8 834.5 1351.2 835.5 1349.8 836.5 1348.1 837.5 1351.5 838.5 1345.5 839.5 1345.1 840.5 1350.9 841.5 1349.4 842.5 1346.2 843.5 1347.5 844.5 1346.8 845.5 1347.9 846.5 1347.8 847.5 1347.5 848.5 1350.7 849.5 1350.8 850.5 1348.8 851.5 1348 852.5 1346.5 853.5 1350.3 854.5 1352.1 855.5 1346 856.5 1349.7 857.5 1349.7 858.5 1349.3 859.5 1344.3 860.5 1348.4 861.5 1345.6 862.5 1345.5 863.5 1348.5 864.5 1349 865.5 1348.8 866.5 1349.8 867.5 1349.4 868.5 1347.6 869.5 1344.1 870.5 1349.9 871.5 1350.3 872.5 1350.3 873.5 1348.4 874.5 1343.9 875.5 1345.1 876.5 1344.4 877.5 1348.6 878.5 1347.8 879.5 1344.9 880.5 1351.1 881.5 1351.2 882.5 1350.6 883.5 1347.1 884.5 1345.7 885.5 1345 886.5 1349.9 887.5 1348.9 888.5 1345.5 889.5 1350.5 890.5 1347.9 891.5 1346.6 892.5 1346.6 893.5 1349 894.5 1346.9 895.5 1348.5 896.5 1344.2 897.5 1348.9 898.5 1345.4 899.5 1350.5 900.5 1344.9 901.5 1345.9 902.5 1347.5 903.5 1346.3 904.5 1347.4 905.5 1350.6 906.5 1344.8 907.5 1349.3 908.5 1348.7 909.5 1349.4 910.5 1346.7 911.5 1346.7 912.5 1345.9 913.5 1346.9 914.5 1345.1 915.5 1344.6 916.5 1346.9 917.5 1344.6 918.5 1346.8 919.5 1347.6 920.5 1345.5 921.5 1344.4 922.5 1347.8 923.5 1349.8 924.5 1344.6 925.5 1347.6 926.5 1347.9 927.5 1349.6 928.5 1347.9 929.5 1344.8 930.5 1343.9 931.5 1348.8 932.5 1344.4 933.5 1342 934.5 1348.8 935.5 1343.3 936.5 1344.1 937.5 1344.1 938.5 1343.5 939.5 1347.1 940.5 1344 941.5 1344.7 942.5 1344.4 943.5 1347.6 944.5 1341 945.5 1345.4 946.5 1341.7 947.5 1341.8 948.5 1345.3 949.5 1343.4 950.5 1340.8 951.5 1344.9 952.5 1347.4 953.5 1345.1 954.5 1343.8 955.5 1346.2 956.5 1347 957.5 1340.8 958.5 1341.9 959.5 1347.1 960.5 1346.7 961.5 1340.8 962.5 1344.7 963.5 1346 964.5 1343.6 965.5 1344.4 966.5 1343 967.5 1340.6 968.5 1340.4 969.5 1339.2 970.5 1344 971.5 1339.8 972.5 1343.6 973.5 1341.8 974.5 1342.1 975.5 1346.3 976.5 1341.7 977.5 1342.3 978.5 1341.6 979.5 1340.2 980.5 1340.3 981.5 1342.7 982.5 1345 983.5 1339.1 984.5 1345.9 985.5 1343.8 986.5 1338.8 987.5 1344 988.5 1341.5 989.5 1342.4 990.5 1339.1 991.5 1342.3 992.5 1342.4 993.5 1344.4 994.5 1342.8 995.5 1343.8 996.5 1344 997.5 1339.9 998.5 1338.3 999.5 1341.9 1000.5 1339.1 1001.5 1339.1 1002.5 1340.6 1003.5 1342.4 1004.5 1343.1 1005.5 1343.4 1006.5 1345.9 1007.5 1339.2 1008.5 1343 1009.5 1339.3 1010.5 1344 1011.5 1342.2 1012.5 1339.9 1013.5 1341.4 1014.5 1344.2 1015.5 1342.8 1016.5 1346.7 1017.5 1342 1018.5 1342 1019.5 1346.7 1020.5 1344.3 1021.5 1340.4 1022.5 1345.8 1023.5 1342.6 1024.5 1347.3 1025.5 1344.9 1026.5 1346.3 1027.5 1347.1 1028.5 1344.1 1029.5 1347.7 1030.5 1340.2 1031.5 1342.7 1032.5 1346.7 1033.5 1340.1 1034.5 1345.4 1035.5 1348 1036.5 1345.7 1037.5 1346.9 1038.5 1340.6 1039.5 1344.3 1040.5 1344.9 1041.5 1343.5 1042.5 1343.4 1043.5 1346.3 1044.5 1341.3 1045.5 1340.4 1046.5 1344.7 1047.5 1347.7 1048.5 1346.6 1049.5 1345.4 1050.5 1342.4 1051.5 1347.2 1052.5 1340.3 1053.5 1342 1054.5 1346.3 1055.5 1347.2 1056.5 1343.2 1057.5 1347.2 1058.5 1340.8 1059.5 1344.7 1060.5 1340.4 1061.5 1341.7 1062.5 1341.3 1063.5 1339.8 1064.5 1343 1065.5 1343.7 1066.5 1341.9 1067.5 1344.9 1068.5 1340 1069.5 1343.7 1070.5 1343.8 1071.5 1342.7 1072.5 1346.8 1073.5 1340.5 1074.5 1342.8 1075.5 1343.1 1076.5 1342.3 1077.5 1347.1 1078.5 1343.9 1079.5 1343.4 1080.5 1342.8 1081.5 1342.7 1082.5 1346.8 1083.5 1345.6 1084.5 1344.4 1085.5 1340.6 1086.5 1344.1 1087.5 1340.4 1088.5 1342.2 1089.5 1339.6 1090.5 1345.1 1091.5 1347.3 1092.5 1344.6 1093.5 1344.1 1094.5 1341.5 1095.5 1343.1 1096.5 1343.3 1097.5 1343 1098.5 1341.8 1099.5 1341.4 1100.5 1345.7 1101.5 1347.3 1102.5 1346.3 1103.5 1344.7 1104.5 1340 1105.5 1342.2 1106.5 1346.6 1107.5 1347.7 1108.5 1344.3 1109.5 1344.5 1110.5 1345.4 1111.5 1342 1112.5 1345.7 1113.5 1342.9 1114.5 1346.7 1115.5 1343.6 1116.5 1345.1 1117.5 1344.2 1118.5 1344 1119.5 1343.4 1120.5 1347.3 1121.5 1345.7 1122.5 1342.9 1123.5 1343.6 1124.5 1346.7 1125.5 1345.4 1126.5 1344.7 1127.5 1347.1 1128.5 1340.3 1129.5 1344.1 1130.5 1344.3 1131.5 1342.9 1132.5 1346.9 1133.5 1346.9 1134.5 1342.2 1135.5 1344 1136.5 1345.1 1137.5 1344.5 1138.5 1341.8 1139.5 1345.3 1140.5 1341.6 1141.5 1340 1142.5 1344.1 1143.5 1343.9 1144.5 1342 1145.5 1342.6 1146.5 1346.5 1147.5 1345 1148.5 1341.8 1149.5 1345.8 1150.5 1343 1151.5 1341.6 1152.5 1343.5 1153.5 1344.6 1154.5 1345.5 1155.5 1343.6 1156.5 1343.5 1157.5 1341.4 1158.5 1338.4 1159.5 1341.7 1160.5 1339 1161.5 1345.5 1162.5 1340.8 1163.5 1342.7 1164.5 1343.6 1165.5 1339.1 1166.5 1344.2 1167.5 1340.1 1168.5 1338 1169.5 1342.1 1170.5 1340.4 1171.5 1344.5 1172.5 1340.6 1173.5 1337.7 1174.5 1337 1175.5 1337 1176.5 1340.6 1177.5 1342.3 1178.5 1336.9 1179.5 1339 1180.5 1340.1 1181.5 1343.4 1182.5 1343.9 1183.5 1343 1184.5 1341 1185.5 1340.4 1186.5 1337.5 1187.5 1340.6 1188.5 1336.9 1189.5 1337.9 1190.5 1342 1191.5 1339.9 1192.5 1341 1193.5 1338.8 1194.5 1337.3 1195.5 1339 1196.5 1339.4 1197.5 1336.7 1198.5 1341.4 1199.5 1342.4 1200.5 1335.9 1201.5 1336.3 1202.5 1340.8 1203.5 1340 1204.5 1335.9 1205.5 1338.7 1206.5 1335.9 1207.5 1341 1208.5 1338.8 1209.5 1338.2 1210.5 1335.5 1211.5 1337.5 1212.5 1338 1213.5 1337.2 1214.5 1335.8 1215.5 1336 1216.5 1340 1217.5 1341.9 1218.5 1341.2 1219.5 1339.5 1220.5 1340.9 1221.5 1335.7 1222.5 1336.3 1223.5 1340.3 1224.5 1334.7 1225.5 1335.4 1226.5 1341 1227.5 1336.4 1228.5 1336.4 1229.5 1338.1 1230.5 1341.7 1231.5 1335.1 1232.5 1342.1 1233.5 1337.5 1234.5 1339.7 1235.5 1338.9 1236.5 1336.2 1237.5 1342.9 1238.5 1336.7 1239.5 1341.8 1240.5 1342.4 1241.5 1339 1242.5 1343 1243.5 1335.7 1244.5 1336.3 1245.5 1338.9 1246.5 1335.6 1247.5 1341.4 1248.5 1339 1249.5 1341.1 1250.5 1337 1251.5 1334.8 1252.5 1341.6 1253.5 1336.1 1254.5 1337.7 1255.5 1335.3 1256.5 1338.9 1257.5 1337.8 1258.5 1335.6 1259.5 1334.3 1260.5 1336.6 1261.5 1340 1262.5 1334.9 1263.5 1335.4 1264.5 1338.5 1265.5 1338.5 1266.5 1339.8 1267.5 1338.5 1268.5 1340 1269.5 1334.4 1270.5 1340.4 1271.5 1333.2 1272.5 1333.8 1273.5 1333.6 1274.5 1338.9 1275.5 1336.7 1276.5 1339.9 1277.5 1340.3 1278.5 1340 1279.5 1337.2 1280.5 1335.1 1281.5 1339.9 1282.5 1338.2 1283.5 1333.9 1284.5 1336.9 1285.5 1332.7 1286.5 1332.7 1287.5 1337.7 1288.5 1338.4 1289.5 1339.6 1290.5 1338.8 1291.5 1334 1292.5 1338.8 1293.5 1340.9 1294.5 1338.5 1295.5 1337 1296.5 1335.6 1297.5 1333.8 1298.5 1338.3 1299.5 1341.1 1300.5 1334.4 1301.5 1340.1 1302.5 1340.8 1303.5 1336.5 1304.5 1340.5 1305.5 1335 1306.5 1336.3 1307.5 1338.4 1308.5 1341 1309.5 1338.3 1310.5 1334.8 1311.5 1341.6 1312.5 1338.8 1313.5 1340.5 1314.5 1336.2 1315.5 1337.1 1316.5 1335.2 1317.5 1336.1 1318.5 1338.1 1319.5 1338 1320.5 1340 1321.5 1341.4 1322.5 1337.4 1323.5 1342.1 1324.5 1339.9 1325.5 1337.3 1326.5 1336 1327.5 1342.1 1328.5 1339.7 1329.5 1334.7 1330.5 1339.8 1331.5 1337.3 1332.5 1337.6 1333.5 1340.3 1334.5 1335.9 1335.5 1336.2 1336.5 1338.4 1337.5 1341.2 1338.5 1334.6 1339.5 1340.6 1340.5 1339.6 1341.5 1335.2 1342.5 1339.1 1343.5 1338.7 1344.5 1339.3 1345.5 1337.9 1346.5 1336.1 1347.5 1337.5 1348.5 1335.4 1349.5 1337.1 1350.5 1336.6 1351.5 1334.2 1352.5 1335.1 1353.5 1336 1354.5 1336.3 1355.5 1337.6 1356.5 1339.2 1357.5 1335.4 1358.5 1338 1359.5 1336.4 1360.5 1335.7 1361.5 1335.1 1362.5 1341.9 1363.5 1341.8 1364.5 1341.2 1365.5 1336.1 1366.5 1336.1 1367.5 1335.9 1368.5 1337.6 1369.5 1338.8 1370.5 1335.6 1371.5 1339.1 1372.5 1341.4 1373.5 1342.7 1374.5 1337.7 1375.5 1336.4 1376.5 1342.9 1377.5 1339.8 1378.5 1339.4 1379.5 1338.3 1380.5 1339.4 1381.5 1339.5 1382.5 1339.6 1383.5 1339.6 1384.5 1342 1385.5 1344.6 1386.5 1340.7 1387.5 1341.8 1388.5 1342.5 1389.5 1345.6 1390.5 1345.2 1391.5 1347.1 1392.5 1340.8 1393.5 1346.1 1394.5 1342.2 1395.5 1344.6 1396.5 1344.4 1397.5 1345 1398.5 1343.1 1399.5 1341.3 1400.5 1341 1401.5 1348.5 1402.5 1348.2 1403.5 1344.8 1404.5 1341.9 1405.5 1347.9 1406.5 1345.3 1407.5 1345.1 1408.5 1346.5 1409.5 1342.6 1410.5 1343.2 1411.5 1348 1412.5 1347.4 1413.5 1349.4 1414.5 1345.1 1415.5 1349.4 1416.5 1348.8 1417.5 1345.8 1418.5 1348.9 1419.5 1343.1 1420.5 1342.4 1421.5 1348.4 1422.5 1343.1 1423.5 1346.1 1424.5 1347.9 1425.5 1347.5 1426.5 1343.9 1427.5 1348.5 1428.5 1342.6 1429.5 1346.8 1430.5 1349.5 1431.5 1346.7 1432.5 1344.8 1433.5 1350.4 1434.5 1348.3 1435.5 1348.9 1436.5 1349.8 1437.5 1350 1438.5 1347 1439.5 1348.9 1440.5 1346.2 1441.5 1344.1 1442.5 1344.1 1443.5 1343.9 1444.5 1341.9 1445.5 1346.5 1446.5 1344.6 1447.5 1348.6 1448.5 1341.6 1449.5 1347.4 1450.5 1342.5 1451.5 1343.4 1452.5 1343.1 1453.5 1348.3 1454.5 1345.7 1455.5 1344.1 1456.5 1341.7 1457.5 1340.5 1458.5 1343 1459.5 1347.7 1460.5 1343.3 1461.5 1345.1 1462.5 1346.6 1463.5 1339.8 1464.5 1341.9 1465.5 1342.5 1466.5 1340.9 1467.5 1342 1468.5 1344.3 1469.5 1339.8 1470.5 1344.1 1471.5 1340.8 1472.5 1343.6 1473.5 1339.6 1474.5 1344.4 1475.5 1341.3 1476.5 1344.5 1477.5 1345.5 1478.5 1342.3 1479.5 1337.7 1480.5 1340.3 1481.5 1345.2 1482.5 1342.6 1483.5 1343.4 1484.5 1341.2 1485.5 1344.9 1486.5 1344.6 1487.5 1342.2 1488.5 1342 1489.5 1338.1 1490.5 1337.3 1491.5 1338.9 1492.5 1343 1493.5 1344 1494.5 1343.4 1495.5 1344.3 1496.5 1337.4 1497.5 1337.4 1498.5 1339.2 1499.5 1337.3 1500.5 1341.8 1501.5 1344.6 1502.5 1344.3 1503.5 1338 1504.5 1342.4 1505.5 1342.4 1506.5 1342.3 1507.5 1340.3 1508.5 1338.9 1509.5 1344.1 1510.5 1344.2 1511.5 1342.7 1512.5 1341.3 1513.5 1337.3 1514.5 1339.2 1515.5 1338.9 1516.5 1338.9 1517.5 1338.7 1518.5 1342.3 1519.5 1342.4 1520.5 1338.4 1521.5 1344.2 1522.5 1336.9 1523.5 1344.6 1524.5 1341.6 1525.5 1342.1 1526.5 1339.2 1527.5 1342.4 1528.5 1343.9 1529.5 1338.5 1530.5 1337.9 1531.5 1343.2 1532.5 1338.9 1533.5 1337.7 1534.5 1340.8 1535.5 1338.3 1536.5 1338.6 1537.5 1339.1 1538.5 1337.5 1539.5 1343.4 1540.5 1341.3 1541.5 1342 1542.5 1339.1 1543.5 1343 1544.5 1344.5 1545.5 1344.8 1546.5 1337.1 1547.5 1339.3 1548.5 1337.5 1549.5 1340.6 1550.5 1342 1551.5 1341.6 1552.5 1339.6 1553.5 1344.5 1554.5 1341.7 1555.5 1344.7 1556.5 1340.1 1557.5 1341.9 1558.5 1337.5 1559.5 1341 1560.5 1341.9 1561.5 1338.6 1562.5 1341.8 1563.5 1337.9 1564.5 1340.6 1565.5 1341.8 1566.5 1340.9 1567.5 1338.3 1568.5 1338.6 1569.5 1340.2 1570.5 1342.4 1571.5 1340.7 1572.5 1338.9 1573.5 1340.1 1574.5 1339.9 1575.5 1338.6 1576.5 1342.2 1577.5 1341.3 1578.5 1340.2 1579.5 1337.7 1580.5 1345 1581.5 1338.1 1582.5 1338.7 1583.5 1340.2 1584.5 1344.2 1585.5 1345.5 1586.5 1344.1 1587.5 1339.7 1588.5 1344.8 1589.5 1338.4 1590.5 1339.1 1591.5 1339.2 1592.5 1342.8 1593.5 1343.1 1594.5 1343.4 1595.5 1346.1 1596.5 1344.5 1597.5 1344.5 1598.5 1339.9 1599.5 1345.8 1600.5 1345.9 1601.5 1345.2 1602.5 1339.2 1603.5 1344.3 1604.5 1342.8 1605.5 1342.9 1606.5 1340.8 1607.5 1344.8 1608.5 1345.1 1609.5 1344.8 1610.5 1341.1 1611.5 1344.6 1612.5 1339.4 1613.5 1344.2 1614.5 1339 1615.5 1338.8 1616.5 1339.6 1617.5 1344 1618.5 1346.7 1619.5 1342.6 1620.5 1344 1621.5 1343.5 1622.5 1345.6 1623.5 1346.6 1624.5 1345.4 1625.5 1341.6 1626.5 1339.5 1627.5 1346.1 1628.5 1341.2 1629.5 1345 1630.5 1345.9 1631.5 1340.3 1632.5 1340.6 1633.5 1342.4 1634.5 1345.8 1635.5 1345.9 1636.5 1347 1637.5 1341.3 1638.5 1344.1 1639.5 1346.1 1640.5 1342.1 1641.5 1343.9 1642.5 1341 1643.5 1346.1 1644.5 1342.8 1645.5 1343.2 1646.5 1344.6 1647.5 1342 1648.5 1345.9 1649.5 1343.2 1650.5 1343 1651.5 1345.4 1652.5 1344.9 1653.5 1345.3 1654.5 1346.7 1655.5 1346.2 1656.5 1343 1657.5 1344.9 1658.5 1346.7 1659.5 1340.3 1660.5 1345.2 1661.5 1344.2 1662.5 1343.2 1663.5 1341 1664.5 1342.4 1665.5 1346.1 1666.5 1347.2 1667.5 1348.1 1668.5 1346.3 1669.5 1347.3 1670.5 1346.9 1671.5 1341.7 1672.5 1345.9 1673.5 1347.4 1674.5 1346.5 1675.5 1342.7 1676.5 1346.1 1677.5 1343.7 1678.5 1344.1 1679.5 1346.5 1680.5 1346.1 1681.5 1341.8 1682.5 1345.9 1683.5 1341.2 1684.5 1342.4 1685.5 1347.4 1686.5 1348.1 1687.5 1342.9 1688.5 1347 1689.5 1342.3 1690.5 1344.9 1691.5 1343.7 1692.5 1341.6 1693.5 1344.4 1694.5 1345.4 1695.5 1347.8 1696.5 1341.9 1697.5 1343.3 1698.5 1341.1 1699.5 1342.8 1700.5 1343.2 1701.5 1347.7 1702.5 1348.7 1703.5 1342.9 1704.5 1345.1 1705.5 1345.4 1706.5 1345.2 1707.5 1348.9 1708.5 1348.9 1709.5 1341.6 1710.5 1344.6 1711.5 1345.6 1712.5 1346.6 1713.5 1345.6 1714.5 1348 1715.5 1342.2 1716.5 1345.1 1717.5 1348.1 1718.5 1342.8 1719.5 1342.9 1720.5 1346.5 1721.5 1342.7 1722.5 1345.9 1723.5 1342.6 1724.5 1343.1 1725.5 1344.3 1726.5 1348 1727.5 1346.6 1728.5 1346.6 1729.5 1346.8 1730.5 1345 1731.5 1349.7 1732.5 1346.6 1733.5 1346.9 1734.5 1342.5 1735.5 1344 1736.5 1346.7 1737.5 1349.7 1738.5 1347.7 1739.5 1342.5 1740.5 1348.6 1741.5 1343.8 1742.5 1346.9 1743.5 1343.7 1744.5 1342.7 1745.5 1348.4 1746.5 1346.2 1747.5 1347.1 1748.5 1348 1749.5 1347.1 1750.5 1345.7 1751.5 1345 1752.5 1346.7 1753.5 1344.4 1754.5 1344.6 1755.5 1349 1756.5 1345.3 1757.5 1348.4 1758.5 1348.1 1759.5 1346.4 1760.5 1349 1761.5 1345.4 1762.5 1342.8 1763.5 1349.6 1764.5 1348.8 1765.5 1348.7 1766.5 1350.3 1767.5 1346.2 1768.5 1346.4 1769.5 1348 1770.5 1350.1 1771.5 1345.4 1772.5 1349.3 1773.5 1350.9 1774.5 1345.3 1775.5 1343.5 1776.5 1344.7 1777.5 1348.6 1778.5 1345.2 1779.5 1351.2 1780.5 1344.4 1781.5 1350.8 1782.5 1346.6 1783.5 1351.1 1784.5 1346.5 1785.5 1344.8 1786.5 1349.3 1787.5 1346.4 1788.5 1351.6 1789.5 1350.7 1790.5 1346.2 1791.5 1348.1 1792.5 1348.6 1793.5 1350.5 1794.5 1346.5 1795.5 1348.9 1796.5 1348.6 1797.5 1349.2 1798.5 1349 1799.5 1348.1 1800.5 1347.7 1801.5 1347.8 1802.5 1352.6 1803.5 1348.8 1804.5 1345.5 1805.5 1347.8 1806.5 1350.8 1807.5 1350.2 1808.5 1345.4 1809.5 1348.1 1810.5 1348.4 1811.5 1351.5 1812.5 1346.9 1813.5 1352.1 1814.5 1351.3 1815.5 1345 1816.5 1348.8 1817.5 1349.1 1818.5 1349.9 1819.5 1352 1820.5 1346.5 1821.5 1351.5 1822.5 1345 1823.5 1351.6 1824.5 1347.1 1825.5 1345.2 1826.5 1351.5 1827.5 1352.8 1828.5 1350.3 1829.5 1351.3 1830.5 1348.2 1831.5 1347 1832.5 1350.4 1833.5 1351.6 1834.5 1347.3 1835.5 1348.1 1836.5 1347.3 1837.5 1347.3 1838.5 1352.1 1839.5 1345.2 1840.5 1345.4 1841.5 1346.8 1842.5 1351.7 1843.5 1350.2 1844.5 1351.8 1845.5 1351.5 1846.5 1353.2 1847.5 1350.9 1848.5 1346.6 1849.5 1347.4 1850.5 1350 1851.5 1347.8 1852.5 1349.5 1853.5 1349.4 1854.5 1355.2 1855.5 1355.2 1856.5 1353.1 1857.5 1351.2 1858.5 1351.3 1859.5 1348.7 1860.5 1352 1861.5 1349.6 1862.5 1352.9 1863.5 1355.3 1864.5 1352.2 1865.5 1354.8 1866.5 1355.8 1867.5 1356.8 1868.5 1353 1869.5 1351.7 1870.5 1357 1871.5 1354.1 1872.5 1352.4 1873.5 1355.9 1874.5 1357.5 1875.5 1358.6 1876.5 1353.9 1877.5 1353.2 1878.5 1353.2 1879.5 1353.7 1880.5 1353 1881.5 1358.7 1882.5 1356.4 1883.5 1351.7 1884.5 1352.1 1885.5 1352.8 1886.5 1359 1887.5 1354 1888.5 1357.8 1889.5 1353.1 1890.5 1352.9 1891.5 1358.8 1892.5 1351.9 1893.5 1355.3 1894.5 1355.5 1895.5 1354 1896.5 1357.3 1897.5 1358.1 1898.5 1353.1 1899.5 1353.7 1900.5 1355.2 1901.5 1355.1 1902.5 1356.4 1903.5 1357.5 1904.5 1354 1905.5 1358.8 1906.5 1355 1907.5 1351.5 1908.5 1354.7 1909.5 1355.5 1910.5 1352.8 1911.5 1358.3 1912.5 1356.1 1913.5 1355.5 1914.5 1353.6 1915.5 1352.5 1916.5 1353.8 1917.5 1356.8 1918.5 1357.3 1919.5 1357.4 1920.5 1352.3 1921.5 1358.3 1922.5 1357.8 1923.5 1357.8 1924.5 1356.6 1925.5 1359.4 1926.5 1360.4 1927.5 1357.4 1928.5 1356.3 1929.5 1357.3 1930.5 1359.5 1931.5 1358.6 1932.5 1359.5 1933.5 1355.9 1934.5 1358.4 1935.5 1355.5 1936.5 1358.4 1937.5 1354 1938.5 1358.2 1939.5 1359.9 1940.5 1361.5 1941.5 1358.2 1942.5 1361.4 1943.5 1356.1 1944.5 1354.7 1945.5 1359.2 1946.5 1357.6 1947.5 1358.1 1948.5 1359.9 1949.5 1361.2 1950.5 1362.2 1951.5 1358 1952.5 1360.2 1953.5 1360.7 1954.5 1361.2 1955.5 1360.5 1956.5 1359.7 1957.5 1362.5 1958.5 1356.3 1959.5 1362.5 1960.5 1357.6 1961.5 1357.8 1962.5 1361.7 1963.5 1360 1964.5 1359.2 1965.5 1357.1 1966.5 1356.9 1967.5 1358.7 1968.5 1357.4 1969.5 1362.2 1970.5 1358.3 1971.5 1359.8 1972.5 1360.2 1973.5 1362.5 1974.5 1363.4 1975.5 1362 1976.5 1358.7 1977.5 1358.1 1978.5 1361.5 1979.5 1360 1980.5 1362.9 1981.5 1358.9 1982.5 1362.7 1983.5 1360.1 1984.5 1359.5 1985.5 1358.8 1986.5 1363.4 1987.5 1361.5 1988.5 1361.9 1989.5 1364.4 1990.5 1358.1 1991.5 1362.3 1992.5 1360.7 1993.5 1360.2 1994.5 1365 1995.5 1360.4 1996.5 1361.9 1997.5 1362.2 1998.5 1359.9 1999.5 1361.4 2000.5 1359.1 2001.5 1363.2 2002.5 1364.4 2003.5 1367.4 2004.5 1367.2 2005.5 1362.4 2006.5 1367.5 2007.5 1360.8 2008.5 1361.3 2009.5 1364.4 2010.5 1365.8 2011.5 1365.2 2012.5 1360.9 2013.5 1364 2014.5 1364.8 2015.5 1364 2016.5 1367.2 2017.5 1367.1 2018.5 1362 2019.5 1365.2 2020.5 1367.1 2021.5 1368 2022.5 1367.1 2023.5 1369.8 2024.5 1368 2025.5 1365.3 2026.5 1369 2027.5 1367.3 2028.5 1367.3 2029.5 1367.4 2030.5 1368.8 2031.5 1368.6 2032.5 1366.7 2033.5 1369.5 2034.5 1366.7 2035.5 1369.4 2036.5 1370.9 2037.5 1367.9 2038.5 1365 2039.5 1371.2 2040.5 1365.8 2041.5 1366 2042.5 1364.8 2043.5 1367.9 2044.5 1367.9 2045.5 1371.4 2046.5 1366.4 2047.5 1368.2 2048.5 1371.5 2049.5 1365.7 2050.5 1369 2051.5 1367 2052.5 1372.2 2053.5 1368.5 2054.5 1367.4 2055.5 1367.4 2056.5 1368.3 2057.5 1372.4 2058.5 1367.9 2059.5 1367.4 2060.5 1369.2 2061.5 1367.7 2062.5 1373.4 2063.5 1373.8 2064.5 1372.1 2065.5 1370.7 2066.5 1368.5 2067.5 1374.1 2068.5 1370.4 2069.5 1373.1 2070.5 1376.7 2071.5 1370.9 2072.5 1374.6 2073.5 1372.7 2074.5 1373.5 2075.5 1372.6 2076.5 1375.1 2077.5 1373.7 2078.5 1369.9 2079.5 1376.2 2080.5 1371.7 2081.5 1372.6 2082.5 1373.8 2083.5 1374.8 2084.5 1376.1 2085.5 1371.1 2086.5 1373.3 2087.5 1375.3 2088.5 1374.2 2089.5 1372.4 2090.5 1376.9 2091.5 1378.4 2092.5 1375.9 2093.5 1375.1 2094.5 1372.1 2095.5 1374.8 2096.5 1377.3 2097.5 1373.7 2098.5 1374.7 2099.5 1374.9 2100.5 1373.8 2101.5 1376.4 2102.5 1373.9 2103.5 1379 2104.5 1378.4 2105.5 1374.2 2106.5 1372.4 2107.5 1372.1 2108.5 1378.5 2109.5 1375.5 2110.5 1373.1 2111.5 1372.6 2112.5 1378.6 2113.5 1374.1 2114.5 1379.9 2115.5 1375.4 2116.5 1377.7 2117.5 1375.5 2118.5 1378.1 2119.5 1374.1 2120.5 1375.2 2121.5 1374.2 2122.5 1373.9 2123.5 1378 2124.5 1381.6 2125.5 1373.8 2126.5 1380.9 2127.5 1376.4 2128.5 1375.5 2129.5 1374.6 2130.5 1377.3 2131.5 1375.3 2132.5 1378.7 2133.5 1378.5 2134.5 1376.3 2135.5 1382.2 2136.5 1379.9 2137.5 1381.5 2138.5 1377.5 2139.5 1381.4 2140.5 1381.4 2141.5 1382.1 2142.5 1377.6 2143.5 1383.8 2144.5 1380 2145.5 1377.1 2146.5 1384 2147.5 1379.2 2148.5 1384.1 2149.5 1378.7 2150.5 1377.7 2151.5 1381.4 2152.5 1381.8 2153.5 1383 2154.5 1382.8 2155.5 1380.7 2156.5 1384 2157.5 1382.2 2158.5 1379.3 2159.5 1382.9 2160.5 1381.1 2161.5 1382.7 2162.5 1379.7 2163.5 1380.5 2164.5 1380.7 2165.5 1384 2166.5 1378.9 2167.5 1382.1 2168.5 1382.1 2169.5 1385.9 2170.5 1380 2171.5 1383.2 2172.5 1385.6 2173.5 1382.5 2174.5 1386.9 2175.5 1381.4 2176.5 1383.4 2177.5 1381.9 2178.5 1381.8 2179.5 1380.2 2180.5 1385.9 2181.5 1385 2182.5 1386.5 2183.5 1383.7 2184.5 1381.4 2185.5 1385.3 2186.5 1387.6 2187.5 1384.6 2188.5 1382.4 2189.5 1384.5 2190.5 1387.2 2191.5 1387 2192.5 1385.5 2193.5 1386.5 2194.5 1380.9 2195.5 1381.8 2196.5 1380.9 2197.5 1384.5 2198.5 1384.9 2199.5 1381.2 2200.5 1387.7 2201.5 1385.6 2202.5 1387.2 2203.5 1389.2 2204.5 1387.7 2205.5 1387.6 2206.5 1386.9 2207.5 1386.1 2208.5 1388.1 2209.5 1388.3 2210.5 1384.6 2211.5 1388.7 2212.5 1383.6 2213.5 1386.7 2214.5 1389.9 2215.5 1384.4 2216.5 1389.9 2217.5 1386.7 2218.5 1388.8 2219.5 1384.3 2220.5 1383.6 2221.5 1385.3 2222.5 1388.1 2223.5 1390.6 2224.5 1388.1 2225.5 1387.9 2226.5 1386.8 2227.5 1387.9 2228.5 1389.7 2229.5 1391 2230.5 1386.9 2231.5 1389.7 2232.5 1387.1 2233.5 1386.5 2234.5 1385 2235.5 1387.9 2236.5 1389.7 2237.5 1389 2238.5 1388.6 2239.5 1391.2 2240.5 1388.8 2241.5 1390.8 2242.5 1389.8 2243.5 1393.1 2244.5 1388.2 2245.5 1389.2 2246.5 1391.9 2247.5 1388.2 2248.5 1392.3 2249.5 1388.6 2250.5 1387.3 2251.5 1390.5 2252.5 1390.8 2253.5 1388.8 2254.5 1388.6 2255.5 1394.5 2256.5 1390.7 2257.5 1392.4 2258.5 1390.2 2259.5 1391.3 2260.5 1389.3 2261.5 1388.4 2262.5 1393.8 2263.5 1392.7 2264.5 1389.8 2265.5 1390.7 2266.5 1392 2267.5 1388.1 2268.5 1392.6 2269.5 1395.7 2270.5 1393.3 2271.5 1391.7 2272.5 1389 2273.5 1392.4 2274.5 1392.9 2275.5 1393.9 2276.5 1395.5 2277.5 1390.6 2277.6 1392.5"/>
<path fill="#ff0000" d="M364.5 828.8L389.5 871.8L339.5 871.8ZM444.2 1322.8L469.2 1365.8L419.2 1365.8ZM523.9 1323.8L548.9 1366.8L498.9 1366.8ZM603.6 1321.8L628.6 1364.8L578.6 1364.8ZM683.4 1320.3L708.4 1363.3L658.4 1363.3ZM763.1 1315.8L788.1 1358.8L738.1 1358.8ZM842.8 1319.8L867.8 1362.8L817.8 1362.8ZM922.5 1318.3L947.5 1361.3L897.5 1361.3ZM1002.2 1313.3L1027.2 1356.3L977.2 1356.3ZM1081.9 1314.5L1106.9 1357.5L1056.9 1357.5ZM1161.6 1313.3L1186.6 1356.3L1136.6 1356.3ZM1241.4 1310.7L1266.4 1353.7L1216.4 1353.7ZM1321.1 1310.1L1346.1 1353.1L1296.1 1353.1ZM1400.8 1316.3L1425.8 1359.3L1375.8 1359.3ZM1480.5 1312.7L1505.5 1355.7L1455.5 1355.7ZM1560.2 1312.0L1585.2 1355.0L1535.2 1355.0ZM1639.9 1314.4L1664.9 1357.4L1614.9 1357.4ZM1719.6 1316.8L1744.6 1359.8L1694.6 1359.8ZM1799.4 1319.9L1824.4 1362.9L1774.4 1362.9ZM1879.1 1326.6L1904.1 1369.6L1854.1 1369.6ZM1958.8 1331.5L1983.8 1374.5L1933.8 1374.5ZM2038.5 1339.1L2063.5 1382.1L2013.5 1382.1ZM2118.2 1348.1L2143.2 1391.1L2093.2 1391.1ZM2197.9 1356.2L2222.9 1399.2L2172.9 1399.2Z"/>
<path fill="none" stroke="#0000ff" stroke-width="9" stroke-linejoin="round" stroke-linecap="round" d="M364.5 461.4 366.5 466.8 367.5 474.2 368.5 480.5 369.5 490.1 370.5 506 371.5 510.4 372.5 521.6 373.5 528.2 374.5 531.7 375.5 539.6 376.5 549 377.5 558.7 378.5 567.4 379.5 573.2 380.5 578.3 381.5 585.2 382.5 587.1 383.5 591.3 384.5 598 385.5 599.4 386.5 602.8 387.5 610.3 388.5 610.3 389.5 613.5 390.5 613 391.5 618.6 392.5 622.7 393.5 622.1 394.5 629 395.5 632.1 396.5 630.8 397.5 636.8 398.5 638 399.5 641.7 400.5 641.8 401.5 646.4 402.5 648.9 403.5 645.5 404.5 646.8 405.5 652 406.5 655 407.5 651.4 408.5 653.9 409.5 655.9 410.5 655.2 411.5 656.5 412.5 657.3 413.5 658.8 414.5 661.4 415.5 660.5 416.5 662.1 417.5 665.8 418.5 662 419.5 665.9 420.5 667.4 421.5 665 422.5 664.8 423.5 669.1 424.5 665.8 425.5 665.8 426.5 667.9 427.5 670 428.5 666.5 429.5 668.3 430.5 668.8 431.5 672.5 432.5 670.3 433.5 673.4 434.5 669.3 435.5 670.8 436.5 673.3 437.5 675.2 438.5 672.8 439.5 671.7 440.5 671.4 441.5 674.5 442.5 672.6 443.5 677.1 444.5 677.7 445.5 673.9 446.5 675.1 447.5 679.1 448.5 678.5 449.5 680.1 450.5 677.5 451.5 676.6 452.5 678.2 453.5 682 454.5 679.1 455.5 680.1 456.5 681.1 457.5 681.6 458.5 682 459.5 685.9 460.5 681.4 461.5 680.9 462.5 686.9 463.5 686.3 464.5 686.9 465.5 683.1 466.5 686.3 467.5 686 468.5 681.2 469.5 684.5 470.5 684.9 471.5 683.6 472.5 682.5 473.5 680.8 474.5 681 475.5 680.1 476.5 678.9 477.5 682.2 478.5 680 479.5 683.3 480.5 678.1 481.5 683.8 482.5 682.7 483.5 684.5 484.5 684.6 485.5 684.9 486.5 683.1 487.5 679.6 488.5 684.7 489.5 681.2 490.5 682.4 491.5 685 492.5 684.4 493.5 683.9 494.5 687.7 495.5 685.8 496.5 684.3 497.5 684 498.5 688.3 499.5 686 500.5 688.3 501.5 685.9 502.5 685.3 503.5 687.9 504.5 690.2 505.5 686.3 506.5 690.9 507.5 692.1 508.5 691.8 509.5 692.3 510.5 687.3 511.5 691.9 512.5 693.8 513.5 688.9 514.5 690.7 515.5 691.1 516.5 693.3 517.5 693 518.5 693.7 519.5 696.2 520.5 691.5 521.5 692.2 522.5 693.1 523.5 693.5 524.5 693.5 525.5 699.7 526.5 699.1 527.5 694.3 528.5 697.3 529.5 696.3 530.5 696.5 531.5 697 532.5 699.2 533.5 699 534.5 697.7 535.5 696.8 536.5 698 537.5 696.9 538.5 700 539.5 701.3 540.5 699.3 541.5 697.5 542.5 698.5 543.5 700 544.5 701.9 545.5 703.3 546.5 701 547.5 704.1 548.5 703.2 549.5 702.2 550.5 702.1 551.5 703.2 552.5 704.9 553.5 703.3 554.5 705.4 555.5 704.2 556.5 703.1 557.5 705.3 558.5 706.6 559.5 702.8 560.5 705.5 561.5 705.8 562.5 709.1 563.5 709.7 564.5 706.3 565.5 710.1 566.5 709.7 567.5 706.5 568.5 708.1 569.5 706.1 570.5 711 571.5 710.3 572.5 712.1 573.5 711.8 574.5 711.2 575.5 712 576.5 711.2 577.5 708.4 578.5 711.9 579.5 708.4 580.5 709.6 581.5 714 582.5 709.5 583.5 710.1 584.5 710.5 585.5 715.9 586.5 711.6 587.5 710.9 588.5 716.7 589.5 712.3 590.5 717.5 591.5 716.8 592.5 718.3 593.5 719.5 594.5 717.4 595.5 719.3 596.5 714.7 597.5 719.9 598.5 718.7 599.5 720.4 600.5 716.8 601.5 721.5 602.5 723.1 603.5 717.8 604.5 719.7 605.5 721.5 606.5 723.5 607.5 719.8 608.5 719.6 609.5 720.2 610.5 722.9 611.5 724 612.5 721.8 613.5 721.8 614.5 722.2 615.5 722.1 616.5 722.8 617.5 720.7 618.5 723.7 619.5 727 620.5 723.5 621.5 725.9 622.5 722.3 623.5 726 624.5 726.6 625.5 726.2 626.5 725.4 627.5 725.4 628.5 726.7 629.5 728.7 630.5 724 631.5 724 632.5 728.6 633.5 730 634.5 727.7 635.5 727.5 636.5 729.6 637.5 726.4 638.5 727.2 639.5 727.1 640.5 729.9 641.5 728.5 642.5 728.2 643.5 731.6 644.5 733.6 645.5 729.5 646.5 732.6 647.5 730.9 648.5 734.1 649.5 732.7 650.5 730.9 651.5 730.8 652.5 729.7 653.5 733 654.5 732.6 655.5 731.4 656.5 732.8 657.5 732.8 658.5 736 659.5 732.1 660.5 737.9 661.5 734.7 662.5 735.7 663.5 735.1 664.5 737.7 665.5 737.9 666.5 736.3 667.5 736.1 668.5 737.9 669.5 739 670.5 736.2 671.5 738.6 672.5 740.3 673.5 737.3 674.5 735.9 675.5 736.2 676.5 739.6 677.5 739.5 678.5 741.6 679.5 741.2 680.5 737.3 681.5 737.2 682.5 737.9 683.5 737.6 684.5 741.2 685.5 742.4 686.5 742.9 687.5 738.8 688.5 743 689.5 739.5 690.5 740.4 691.5 742.6 692.5 738.5 693.5 738.7 694.5 743.8 695.5 740.4 696.5 741 697.5 742.7 698.5 743.5 699.5 739.2 700.5 741.6 701.5 742.4 702.5 742.9 703.5 741.3 704.5 743.9 705.5 746.5 706.5 743 707.5 744.2 708.5 741.5 709.5 742.9 710.5 745.9 711.5 742.6 712.5 748.2 713.5 748.7 714.5 743.7 715.5 749.7 716.5 746.4 717.5 749.4 718.5 749.7 719.5 747.1 720.5 750 721.5 750.2 722.5 751.6 723.5 748.5 724.5 752.1 725.5 753.8 726.5 752.3 727.5 751.8 728.5 749.4 729.5 752.4 730.5 751.8 731.5 754.6 732.5 754.8 733.5 754.4 734.5 752.3 735.5 755.8 736.5 756.1 737.5 753.5 738.5 758.4 739.5 757.1 740.5 753.8 741.5 759.3 742.5 754.3 743.5 755.8 744.5 758.6 745.5 758 746.5 757.9 747.5 758.8 748.5 757.7 749.5 757 750.5 756.3 751.5 755.8 752.5 760.3 753.5 760.8 754.5 759.6 755.5 761.1 756.5 758.8 757.5 758.4 758.5 759.4 759.5 762.9 760.5 757.6 761.5 760.9 762.5 759.4 763.5 762.9 764.5 760 765.5 759.7 766.5 760 767.5 760.8 768.5 762.1 769.5 759.2 770.5 762.3 771.5 757.3 772.5 758.2 773.5 756.9 774.5 756.8 775.5 761 776.5 760.5 777.5 756.8 778.5 756.7 779.5 758 780.5 760 781.5 760.3 782.5 759.7 783.5 758.5 784.5 755.7 785.5 757.4 786.5 756.1 787.5 758.4 788.5 758.8 789.5 756.4 790.5 756.8 791.5 760.4 792.5 755.5 793.5 760.7 794.5 761.4 795.5 761.8 796.5 758.2 797.5 759.4 798.5 759.6 799.5 760 800.5 762.4 801.5 760.6 802.5 758.1 803.5 761.9 804.5 759.4 805.5 760.3 806.5 761.2 807.5 756.5 808.5 761.6 809.5 761 810.5 760 811.5 760.3 812.5 759.9 813.5 758.2 814.5 760.4 815.5 757.2 816.5 760.3 817.5 761.3 818.5 760 819.5 760.8 820.5 763.5 821.5 763.1 822.5 758.1 823.5 762.5 824.5 761.4 825.5 757.6 826.5 759.7 827.5 758.9 828.5 757.9 829.5 761 830.5 763.6 831.5 759.6 832.5 763.3 833.5 762.2 834.5 758.5 835.5 763.3 836.5 761.7 837.5 763.8 838.5 762.5 839.5 762.7 840.5 760.1 841.5 763.2 842.5 764 843.5 763.3 844.5 760.1 845.5 761.8 846.5 759.6 847.5 756.7 848.5 755.8 849.5 755.6 850.5 756 851.5 755.4 852.5 757.2 853.5 758.1 854.5 756.6 855.5 755.4 856.5 756.5 857.5 753.8 858.5 754.5 859.5 756 860.5 753.2 861.5 751.3 862.5 755.7 863.5 754.1 864.5 751.3 865.5 750.9 866.5 751.6 867.5 751.6 868.5 748.7 869.5 746.9 870.5 747.8 871.5 751.8 872.5 747.9 873.5 750.3 874.5 748.9 875.5 749.3 876.5 749.4 877.5 751.3 878.5 750 879.5 749.4 880.5 750.3 881.5 751 882.5 753.4 883.5 750.9 884.5 751 885.5 754.1 886.5 754.2 887.5 756.5 888.5 752.5 889.5 755.1 890.5 755.4 891.5 753.3 892.5 759.8 893.5 755.2 894.5 754.8 895.5 757.7 896.5 756.1 897.5 759.5 898.5 758.1 899.5 757.1 900.5 757 901.5 761.9 902.5 759.3 903.5 763.1 904.5 761.4 905.5 764.9 906.5 761.1 907.5 761.2 908.5 761.7 909.5 765.8 910.5 764.9 911.5 763.5 912.5 762.2 913.5 766.5 914.5 768.8 915.5 766.8 916.5 763.3 917.5 763.9 918.5 764.7 919.5 765.6 920.5 765.2 921.5 765.7 922.5 770.1 923.5 771.7 924.5 767.1 925.5 772.2 926.5 768.9 927.5 771 928.5 771.8 929.5 771.9 930.5 765.9 931.5 767.7 932.5 769.7 933.5 771.9 934.5 766.3 935.5 767.6 936.5 771.3 937.5 766.4 938.5 768.2 939.5 767.9 940.5 770.1 941.5 771.8 942.5 766.8 943.5 770.5 944.5 770.5 945.5 771.2 946.5 769.3 947.5 771.7 948.5 768 949.5 768.4 950.5 767.1 951.5 770.8 952.5 768.8 953.5 767.4 954.5 766.7 955.5 770.3 956.5 769.6 957.5 770.3 958.5 768.3 959.5 769.2 960.5 767.2 961.5 771.2 962.5 766.9 963.5 770 964.5 772.2 965.5 771.9 966.5 768.4 967.5 769.5 968.5 773.8 969.5 772.7 970.5 774.5 971.5 774.7 972.5 772.2 973.5 775.4 974.5 774.6 975.5 772.2 976.5 772.7 977.5 771 978.5 773.4 979.5 777.3 980.5 771.9 981.5 775.2 982.5 772.3 983.5 772.3 984.5 776.2 985.5 773.6 986.5 772.5 987.5 773.4 988.5 776.8 989.5 776.5 990.5 772.9 991.5 774.5 992.5 779.5 993.5 774.8 994.5 777.2 995.5 776.4 996.5 778.9 997.5 777.9 998.5 779.3 999.5 777.8 1000.5 775.7 1001.5 775.8 1002.5 775.2 1003.5 780.1 1004.5 775.4 1005.5 774.8 1006.5 781.1 1007.5 776 1008.5 780.6 1009.5 775.2 1010.5 777.7 1011.5 776.1 1012.5 780.1 1013.5 778.7 1014.5 778.9 1015.5 779.7 1016.5 780.4 1017.5 776.9 1018.5 778.6 1019.5 777.6 1020.5 775.4 1021.5 780.2 1022.5 778.6 1023.5 780 1024.5 776 1025.5 778.2 1026.5 777.7 1027.5 779.4 1028.5 775.1 1029.5 776.9 1030.5 777.8 1031.5 775.2 1032.5 778.6 1033.5 780 1034.5 778.1 1035.5 779.8 1036.5 779.7 1037.5 777.3 1038.5 778.4 1039.5 782.8 1040.5 778.7 1041.5 779.5 1042.5 777.4 1043.5 778.5 1044.5 778.3 1045.5 783.6 1046.5 782.4 1047.5 783.6 1048.5 784.5 1049.5 782.3 1050.5 784.6 1051.5 782.1 1052.5 781.6 1053.5 785.3 1054.5 785.1 1055.5 785.6 1056.5 782.7 1057.5 784.8 1058.5 782.6 1059.5 786.6 1060.5 786.3 1061.5 782.3 1062.5 786.8 1063.5 782 1064.5 781.6 1065.5 785.9 1066.5 783.2 1067.5 784.9 1068.5 785.9 1069.5 782.1 1070.5 786.9 1071.5 784 1072.5 785.2 1073.5 784.8 1074.5 787.6 1075.5 787.8 1076.5 784.9 1077.5 783.9 1078.5 785.4 1079.5 786.3 1080.5 784.2 1081.5 784.9 1082.5 789.1 1083.5 788.8 1084.5 790.7 1085.5 790.8 1086.5 790.3 1087.5 787 1088.5 785.7 1089.5 786.8 1090.5 788 1091.5 788.5 1092.5 788.7 1093.5 787.6 1094.5 790.9 1095.5 787.3 1096.5 788.6 1097.5 791.5 1098.5 791.1 1099.5 787.8 1100.5 787.6 1101.5 791.4 1102.5 786.2 1103.5 787.1 1104.5 789.9 1105.5 790 1106.5 787.7 1107.5 787 1108.5 788.2 1109.5 792 1110.5 790.1 1111.5 793.5 1112.5 792.3 1113.5 793.7 1114.5 787.5 1115.5 788.6 1116.5 787.5 1117.5 790.3 1118.5 789.8 1119.5 787.9 1120.5 791.3 1121.5 788.4 1122.5 789.9 1123.5 789.5 1124.5 793.2 1125.5 790.8 1126.5 789.8 1127.5 788.4 1128.5 791 1129.5 792.4 1130.5 792.8 1131.5 794.4 1132.5 793.8 1133.5 790.2 1134.5 789.5 1135.5 793.7 1136.5 793.9 1137.5 792.1 1138.5 794.3 1139.5 792.5 1140.5 790.7 1141.5 789.9 1142.5 788.9 1143.5 793 1144.5 794.6 1145.5 794.7 1146.5 791.8 1147.5 793 1148.5 794.7 1149.5 794 1150.5 792.5 1151.5 791.3 1152.5 791.9 1153.5 789.6 1154.5 789.7 1155.5 793 1156.5 795 1157.5 792 1158.5 791.1 1159.5 790.7 1160.5 791.3 1161.5 793.6 1162.5 791.5 1163.5 795.1 1164.5 790 1165.5 791.3 1166.5 792.9 1167.5 792.4 1168.5 795.5 1169.5 795.6 1170.5 796.5 1171.5 794.6 1172.5 791 1173.5 794.9 1174.5 794.9 1175.5 794.7 1176.5 793.6 1177.5 796.7 1178.5 798.2 1179.5 793.1 1180.5 797.1 1181.5 795.4 1182.5 796.6 1183.5 799.3 1184.5 800 1185.5 798.1 1186.5 795.4 1187.5 800.4 1188.5 795.7 1189.5 797.3 1190.5 800.5 1191.5 797.3 1192.5 797.3 1193.5 802 1194.5 802.2 1195.5 798.3 1196.5 798.9 1197.5 798.4 1198.5 797.6 1199.5 798.6 1200.5 803.6 1201.5 797.9 1202.5 799.1 1203.5 799.1 1204.5 798.5 1205.5 801.6 1206.5 803.2 1207.5 804.1 1208.5 802.9 1209.5 804.3 1210.5 799.2 1211.5 801.2 1212.5 805.9 1213.5 800.2 1214.5 801.7 1215.5 803.3 1216.5 802.1 1217.5 804.1 1218.5 801 1219.5 802.5 1220.5 807.4 1221.5 802.2 1222.5 807.5 1223.5 802.9 1224.5 808.4 1225.5 806.5 1226.5 806.6 1227.5 803.4 1228.5 803.1 1229.5 807.9 1230.5 804.3 1231.5 804.5 1232.5 808.9 1233.5 809.5 1234.5 804.2 1235.5 810.4 1236.5 807.8 1237.5 807 1238.5 805.4 1239.5 807.5 1240.5 811.6 1241.5 807.1 1242.5 806.4 1243.5 806.7 1244.5 806.8 1245.5 808.5 1246.5 812.5 1247.5 807.2 1248.5 808.2 1249.5 813.3 1250.5 813.9 1251.5 814.1 1252.5 809.5 1253.5 810.4 1254.5 814.6 1255.5 811.7 1256.5 813.4 1257.5 811.1 1258.5 809.4 1259.5 811.7 1260.5 814.6 1261.5 815.1 1262.5 813.9 1263.5 813.4 1264.5 814.2 1265.5 813.8 1266.5 814.6 1267.5 816.8 1268.5 812.8 1269.5 815.7 1270.5 818.1 1271.5 817.8 1272.5 813.6 1273.5 819 1274.5 818.5 1275.5 814.3 1276.5 815.1 1277.5 814.9 1278.5 814.2 1279.5 820.5 1280.5 816.7 1281.5 819.7 1282.5 814.5 1283.5 813.7 1284.5 819.3 1285.5 818.6 1286.5 819.8 1287.5 817.6 1288.5 816.5 1289.5 817.9 1290.5 813.3 1291.5 816.2 1292.5 815.4 1293.5 813.3 1294.5 816.2 1295.5 814.2 1296.5 815.3 1297.5 814.6 1298.5 814.5 1299.5 815 1300.5 816.8 1301.5 819.6 1302.5 819.6 1303.5 819.3 1304.5 819.4 1305.5 816 1306.5 820.9 1307.5 816.4 1308.5 815.7 1309.5 818.5 1310.5 820.3 1311.5 817.9 1312.5 820.2 1313.5 818.1 1314.5 822.8 1315.5 819.7 1316.5 820.1 1317.5 820.7 1318.5 823.2 1319.5 824.2 1320.5 821.5 1321.5 821 1322.5 822.2 1323.5 818.5 1324.5 820.8 1325.5 823.5 1326.5 823 1327.5 818.3 1328.5 823.5 1329.5 820.3 1330.5 824.2 1331.5 820.1 1332.5 819.1 1333.5 821.2 1334.5 823.4 1335.5 820.4 1336.5 823.2 1337.5 822.1 1338.5 819.8 1339.5 819.3 1340.5 820.6 1341.5 819.9 1342.5 819.7 1343.5 821.5 1344.5 822.9 1345.5 820.9 1346.5 818 1347.5 818.4 1348.5 819.4 1349.5 821 1350.5 817.8 1351.5 817.7 1352.5 819.6 1353.5 819.7 1354.5 818.3 1355.5 822 1356.5 824.8 1357.5 822.5 1358.5 824.2 1359.5 825.1 1360.5 825.5 1361.5 826.3 1362.5 823.4 1363.5 825.3 1364.5 821.9 1365.5 827.3 1366.5 824.2 1367.5 825.2 1368.5 828.2 1369.5 824.6 1370.5 824.2 1371.5 828.7 1372.5 827.5 1373.5 824.4 1374.5 824.4 1375.5 826.8 1376.5 824.8 1377.5 830.6 1378.5 826.6 1379.5 827.6 1380.5 828.7 1381.5 829.9 1382.5 829.7 1383.5 831.4 1384.5 832 1385.5 830.9 1386.5 829 1387.5 835.2 1388.5 833.7 1389.5 830 1390.5 832.7 1391.5 835.2 1392.5 837.1 1393.5 831.4 1394.5 831.4 1395.5 835.1 1396.5 835.7 1397.5 839.8 1398.5 840.3 1399.5 838 1400.5 839.5 1401.5 841.6 1402.5 844.5 1403.5 841 1404.5 843.2 1405.5 841.7 1406.5 845.5 1407.5 841.6 1408.5 847.7 1409.5 845.1 1410.5 845.6 1411.5 842.5 1412.5 843.6 1413.5 845.3 1414.5 848 1415.5 846 1416.5 844.5 1417.5 849.2 1418.5 847.2 1419.5 846.5 1420.5 844.4 1421.5 845 1422.5 849 1423.5 844 1424.5 846.7 1425.5 847.3 1426.5 845.5 1427.5 848.3 1428.5 849.3 1429.5 848.9 1430.5 848.2 1431.5 844.7 1432.5 843.8 1433.5 846.2 1434.5 845.5 1435.5 844.7 1436.5 849.2 1437.5 844.9 1438.5 849 1439.5 849.7 1440.5 844.4 1441.5 849.6 1442.5 846.3 1443.5 845.1 1444.5 844.9 1445.5 844 1446.5 847 1447.5 846.3 1448.5 849.4 1449.5 849.3 1450.5 844.2 1451.5 846.5 1452.5 846.5 1453.5 845.1 1454.5 845.7 1455.5 845.8 1456.5 848.7 1457.5 846.5 1458.5 845 1459.5 845.8 1460.5 847.4 1461.5 848.2 1462.5 846.2 1463.5 849.3 1464.5 846.1 1465.5 849.2 1466.5 848.9 1467.5 846.1 1468.5 850 1469.5 847.7 1470.5 848.7 1471.5 849.1 1472.5 849.4 1473.5 848.3 1474.5 845.8 1475.5 850.7 1476.5 851.2 1477.5 848.8 1478.5 849.5 1479.5 847.5 1480.5 851.8 1481.5 850.4 1482.5 847.4 1483.5 851.5 1484.5 852.6 1485.5 848.5 1486.5 852.9 1487.5 849.6 1488.5 847.6 1489.5 851.3 1490.5 848.8 1491.5 851.5 1492.5 850.6 1493.5 847.6 1494.5 850.4 1495.5 852.6 1496.5 850.2 1497.5 850.7 1498.5 852.9 1499.5 850.3 1500.5 850.6 1501.5 851.3 1502.5 853 1503.5 849 1504.5 848.3 1505.5 852.8 1506.5 851.5 1507.5 849.9 1508.5 853.9 1509.5 853.9 1510.5 851.8 1511.5 854.8 1512.5 853.8 1513.5 853.3 1514.5 850.3 1515.5 848.4 1516.5 852.8 1517.5 853.2 1518.5 850.7 1519.5 851.6 1520.5 852.2 1521.5 850.1 1522.5 853.1 1523.5 852.2 1524.5 851 1525.5 849.2 1526.5 852.2 1527.5 850.6 1528.5 853.3 1529.5 849.7 1530.5 851.2 1531.5 849.9 1532.5 851.3 1533.5 852.4 1534.5 849.2 1535.5 848.7 1536.5 851.3 1537.5 849.3 1538.5 851.1 1539.5 848.7 1540.5 848.1 1541.5 850.8 1542.5 853.1 1543.5 852.6 1544.5 850.1 1545.5 849.1 1546.5 846.7 1547.5 847.9 1548.5 848 1549.5 851.9 1550.5 846.3 1551.5 851.6 1552.5 848.3 1553.5 847.9 1554.5 846.5 1555.5 851 1556.5 845.7 1557.5 848 1558.5 847.4 1559.5 845.2 1560.5 845.2 1561.5 850.1 1562.5 848.7 1563.5 848.2 1564.5 849.2 1565.5 843.8 1566.5 847.7 1567.5 847.9 1568.5 844.3 1569.5 845.7 1570.5 849 1571.5 844.6 1572.5 847.4 1573.5 843.4 1574.5 846.6 1575.5 843.8 1576.5 845.3 1577.5 844.3 1578.5 847.5 1579.5 846.5 1580.5 844.8 1581.5 845.9 1582.5 844.1 1583.5 846.5 1584.5 842.8 1585.5 844.5 1586.5 844.7 1587.5 843.3 1588.5 840.9 1589.5 841.6 1590.5 844.6 1591.5 841.7 1592.5 845.2 1593.5 843.4 1594.5 846.2 1595.5 845.4 1596.5 844.8 1597.5 842.6 1598.5 840.6 1599.5 844.2 1600.5 845.6 1601.5 847 1602.5 842.4 1603.5 842.3 1604.5 847.9 1605.5 846.5 1606.5 845 1607.5 846.9 1608.5 843.2 1609.5 846 1610.5 847 1611.5 846.7 1612.5 844 1613.5 843.8 1614.5 846.9 1615.5 848.5 1616.5 843.4 1617.5 842.4 1618.5 842.7 1619.5 847.2 1620.5 844.4 1621.5 844.7 1622.5 848.1 1623.5 845.4 1624.5 842.9 1625.5 845.7 1626.5 840.9 1627.5 842.6 1628.5 845.2 1629.5 841.5 1630.5 840.5 1631.5 843.5 1632.5 842.1 1633.5 846.2 1634.5 840.3 1635.5 844.8 1636.5 841.9 1637.5 844.5 1638.5 841.9 1639.5 843.2 1640.5 841.1 1641.5 840.7 1642.5 842.5 1643.5 845 1644.5 842.3 1645.5 841.8 1646.5 843.3 1647.5 841.4 1648.5 843.1 1649.5 845.1 1650.5 845.2 1651.5 845.8 1652.5 844 1653.5 842.5 1654.5 842.8 1655.5 845.1 1656.5 844.5 1657.5 847.2 1658.5 845.4 1659.5 849 1660.5 848.2 1661.5 848.8 1662.5 849.6 1663.5 848.4 1664.5 848.1 1665.5 847.6 1666.5 846.1 1667.5 851 1668.5 849.2 1669.5 846.6 1670.5 852.2 1671.5 850 1672.5 850.4 1673.5 849.3 1674.5 847.3 1675.5 853.2 1676.5 847.8 1677.5 849.2 1678.5 853.4 1679.5 847.7 1680.5 850.3 1681.5 850.3 1682.5 848.9 1683.5 853.4 1684.5 850.1 1685.5 847.6 1686.5 850.7 1687.5 847.7 1688.5 852.9 1689.5 854.9 1690.5 856 1691.5 851.3 1692.5 856.4 1693.5 854.8 1694.5 856.9 1695.5 856.6 1696.5 857.6 1697.5 857.4 1698.5 861.6 1699.5 858.9 1700.5 865.6 1701.5 860.2 1702.5 866.7 1703.5 862 1704.5 861.8 1705.5 866.5 1706.5 865.5 1707.5 867.5 1708.5 866.2 1709.5 867.4 1710.5 864.2 1711.5 868.6 1712.5 867.9 1713.5 871.3 1714.5 865.4 1715.5 866.2 1716.5 870.7 1717.5 872.7 1718.5 869.8 1719.5 872.2 1720.5 871.4 1721.5 870.4 1722.5 871.1 1723.5 872.1 1724.5 868.5 1725.5 870.5 1726.5 873.5 1727.5 870.5 1728.5 872.1 1729.5 870.9 1730.5 871.7 1731.5 873.8 1732.5 874.6 1733.5 876.1 1734.5 873.1 1735.5 871.5 1736.5 872.6 1737.5 870.9 1738.5 872.2 1739.5 874.7 1740.5 875 1741.5 872.8 1742.5 872.5 1743.5 872.1 1744.5 872.8 1745.5 875.1 1746.5 873.7 1747.5 878 1748.5 876.1 1749.5 874.8 1750.5 875.5 1751.5 873.1 1752.5 877.8 1753.5 878.1 1754.5 875.7 1755.5 878.1 1756.5 875.2 1757.5 874.8 1758.5 874.9 1759.5 874.8 1760.5 877.5 1761.5 877.8 1762.5 878.4 1763.5 874.3 1764.5 878.7 1765.5 876.9 1766.5 876.3 1767.5 877.1 1768.5 876.7 1769.5 875.2 1770.5 876.5 1771.5 878.2 1772.5 878.7 1773.5 880.1 1774.5 875.4 1775.5 880 1776.5 879.4 1777.5 878.9 1778.5 880.7 1779.5 875.1 1780.5 879.4 1781.5 880.2 1782.5 875.1 1783.5 878.2 1784.5 880.6 1785.5 876.3 1786.5 880 1787.5 880.4 1788.5 877.3 1789.5 875.4 1790.5 875.9 1791.5 880 1792.5 877.3 1793.5 876.6 1794.5 877.5 1795.5 880.7 1796.5 876.3 1797.5 874.8 1798.5 880.9 1799.5 876.8 1800.5 877.2 1801.5 881.1 1802.5 876.6 1803.5 875.3 1804.5 880.6 1805.5 876.3 1806.5 876.2 1807.5 880.9 1808.5 876.2 1809.5 880.6 1810.5 876.9 1811.5 876.7 1812.5 876.1 1813.5 878.3 1814.5 878.4 1815.5 877.3 1816.5 878 1817.5 876.7 1818.5 880.2 1819.5 880.9 1820.5 879.7 1821.5 880.1 1822.5 875.2 1823.5 876.4 1824.5 876 1825.5 875.7 1826.5 881.1 1827.5 880.7 1828.5 880.7 1829.5 878.4 1830.5 875.5 1831.5 877.5 1832.5 874.9 1833.5 880.4 1834.5 876.1 1835.5 876.1 1836.5 880.4 1837.5 875.3 1838.5 880 1839.5 875.9 1840.5 878.1 1841.5 874.3 1842.5 879.4 1843.5 876 1844.5 875.6 1845.5 877.5 1846.5 877 1847.5 874.6 1848.5 873.7 1849.5 876.6 1850.5 872.8 1851.5 878.3 1852.5 874.7 1853.5 873.5 1854.5 874.6 1855.5 873.5 1856.5 875.1 1857.5 876.9 1858.5 876.3 1859.5 876.1 1860.5 876.1 1861.5 877.7 1862.5 879.9 1863.5 877.9 1864.5 880.4 1865.5 878.8 1866.5 876.7 1867.5 877.3 1868.5 882.1 1869.5 879.9 1870.5 879.6 1871.5 880.7 1872.5 883.2 1873.5 880.4 1874.5 880.6 1875.5 880.9 1876.5 878.8 1877.5 882.6 1878.5 882.5 1879.5 882.8 1880.5 882.7 1881.5 883 1882.5 884.8 1883.5 881.5 1884.5 886.9 1885.5 881.3 1886.5 886.5 1887.5 882.1 1888.5 886.3 1889.5 883 1890.5 881.9 1891.5 885.2 1892.5 887.3 1893.5 887.5 1894.5 887.9 1895.5 888.7 1896.5 882.8 1897.5 885.1 1898.5 883.5 1899.5 887.9 1900.5 886.1 1901.5 888.2 1902.5 888.7 1903.5 890.2 1904.5 888.3 1905.5 889.7 1906.5 887.8 1907.5 884.8 1908.5 890.4 1909.5 885.2 1910.5 885.4 1911.5 890.5 1912.5 887 1913.5 889.7 1914.5 885.7 1915.5 887.2 1916.5 890.7 1917.5 886.4 1918.5 889.8 1919.5 892.8 1920.5 888.3 1921.5 891.7 1922.5 892.2 1923.5 891.6 1924.5 892.8 1925.5 892.6 1926.5 888.3 1927.5 889.7 1928.5 892.2 1929.5 895.3 1930.5 890.5 1931.5 893.2 1932.5 890.4 1933.5 895.3 1934.5 892.9 1935.5 893.6 1936.5 894.8 1937.5 891.5 1938.5 895.6 1939.5 896.2 1940.5 896.8 1941.5 893.2 1942.5 893.1 1943.5 892.8 1944.5 897.9 1945.5 895 1946.5 894.9 1947.5 895.9 1948.5 897.3 1949.5 895 1950.5 895.3 1951.5 898.3 1952.5 898.6 1953.5 895.6 1954.5 894.4 1955.5 900.2 1956.5 899.1 1957.5 898.4 1958.5 897.3 1959.5 901 1960.5 897.6 1961.5 896.2 1962.5 895.4 1963.5 897.1 1964.5 898.7 1965.5 897.2 1966.5 901 1967.5 899.1 1968.5 897.8 1969.5 899.2 1970.5 898.8 1971.5 898.9 1972.5 898.1 1973.5 898.3 1974.5 898.1 1975.5 900.4 1976.5 896.2 1977.5 900.1 1978.5 896.9 1979.5 900.6 1980.5 895.5 1981.5 898.2 1982.5 897.9 1983.5 899.7 1984.5 896.4 1985.5 897 1986.5 896.3 1987.5 899.3 1988.5 899.5 1989.5 895.9 1990.5 897.2 1991.5 897.5 1992.5 902.6 1993.5 899.5 1994.5 900.4 1995.5 898.7 1996.5 901.3 1997.5 902.5 1998.5 901.7 1999.5 897.4 2000.5 900.5 2001.5 900.9 2002.5 898.2 2003.5 903.2 2004.5 900.3 2005.5 900.3 2006.5 902.6 2007.5 902.5 2008.5 902.1 2009.5 904.6 2010.5 902.5 2011.5 901.5 2012.5 899.8 2013.5 903.1 2014.5 902 2015.5 903.3 2016.5 902.2 2017.5 900 2018.5 900.4 2019.5 901.3 2020.5 901 2021.5 906.1 2022.5 904.5 2023.5 902.3 2024.5 905.6 2025.5 905.2 2026.5 901.6 2027.5 906.2 2028.5 902.9 2029.5 908.1 2030.5 902.6 2031.5 903.7 2032.5 903.6 2033.5 907.7 2034.5 907.6 2035.5 906.1 2036.5 903.4 2037.5 905.4 2038.5 907.3 2039.5 903.2 2040.5 909.1 2041.5 908.7 2042.5 909.4 2043.5 908 2044.5 907.6 2045.5 910.1 2046.5 905.6 2047.5 906 2048.5 904.9 2049.5 905.4 2050.5 909.6 2051.5 905.1 2052.5 909.6 2053.5 907.4 2054.5 910.7 2055.5 910.1 2056.5 909.7 2057.5 910.9 2058.5 905.8 2059.5 907.4 2060.5 908.2 2061.5 908.7 2062.5 910.4 2063.5 912 2064.5 911.2 2065.5 912.6 2066.5 911.2 2067.5 909.1 2068.5 910.2 2069.5 911.9 2070.5 912.5 2071.5 909.7 2072.5 909.7 2073.5 911.5 2074.5 908.9 2075.5 913.3 2076.5 907.5 2077.5 911.8 2078.5 910.8 2079.5 908.9 2080.5 911.4 2081.5 910.8 2082.5 914.1 2083.5 913.6 2084.5 911.7 2085.5 913.6 2086.5 913.8 2087.5 909.1 2088.5 913.5 2089.5 913.5 2090.5 914.6 2091.5 913.1 2092.5 910.7 2093.5 909.6 2094.5 912.5 2095.5 909.7 2096.5 913.3 2097.5 912.1 2098.5 913.8 2099.5 910.8 2100.5 910.5 2101.5 914.5 2102.5 912.9 2103.5 911.1 2104.5 912.3 2105.5 911.5 2106.5 912.9 2107.5 912.1 2108.5 910.6 2109.5 915.2 2110.5 914.7 2111.5 913.9 2112.5 910.7 2113.5 910.2 2114.5 913.8 2115.5 914.4 2116.5 913.3 2117.5 910.5 2118.5 913.9 2119.5 912.6 2120.5 911.7 2121.5 913.2 2122.5 912.3 2123.5 913.7 2124.5 914.4 2125.5 916 2126.5 910.3 2127.5 913.4 2128.5 915.9 2129.5 914.1 2130.5 913.7 2131.5 915.5 2132.5 910.2 2133.5 915.2 2134.5 914.2 2135.5 914 2136.5 912.2 2137.5 914.3 2138.5 911.1 2139.5 913.8 2140.5 912.1 2141.5 916.6 2142.5 915.8 2143.5 913.5 2144.5 915.1 2145.5 912.5 2146.5 913.2 2147.5 910.6 2148.5 915 2149.5 914.2 2150.5 914 2151.5 909.3 2152.5 913.9 2153.5 908.4 2154.5 911.9 2155.5 911.1 2156.5 908.1 2157.5 910.3 2158.5 913.2 2159.5 911.2 2160.5 909.1 2161.5 912.5 2162.5 909.5 2163.5 913.1 2164.5 909.9 2165.5 907.8 2166.5 913.8 2167.5 907.9 2168.5 909.1 2169.5 912.6 2170.5 908.3 2171.5 911.2 2172.5 913.3 2173.5 911.6 2174.5 910 2175.5 912.8 2176.5 913.3 2177.5 911.7 2178.5 912.2 2179.5 910.4 2180.5 911.2 2181.5 915.3 2182.5 915.3 2183.5 909.2 2184.5 910.7 2185.5 911.1 2186.5 915 2187.5 911.3 2188.5 911.4 2189.5 915.5 2190.5 911.8 2191.5 917.3 2192.5 914.1 2193.5 917.3 2194.5 917 2195.5 913.1 2196.5 917.2 2197.5 915 2198.5 913.8 2199.5 912.7 2200.5 917 2201.5 916.1 2202.5 914.5 2203.5 918 2204.5 913.8 2205.5 915.5 2206.5 913.2 2207.5 914.9 2208.5 918.5 2209.5 916 2210.5 913.7 2211.5 914.3 2212.5 917 2213.5 914.7 2214.5 918.7 2215.5 913.3 2216.5 918.7 2217.5 917.1 2218.5 918.4 2219.5 915.4 2220.5 913.5 2221.5 914.2 2222.5 917.4 2223.5 913.7 2224.5 914.5 2225.5 919.1 2226.5 920 2227.5 920.1 2228.5 920.2 2229.5 918.6 2230.5 920.9 2231.5 920 2232.5 919.3 2233.5 918.7 2234.5 916.3 2235.5 917 2236.5 918.2 2237.5 919.9 2238.5 917.9 2239.5 923.7 2240.5 921.4 2241.5 922.7 2242.5 923.9 2243.5 919.8 2244.5 924.4 2245.5 925.1 2246.5 920.7 2247.5 920 2248.5 924.7 2249.5 925.6 2250.5 925.2 2251.5 922.9 2252.5 924.4 2253.5 921.5 2254.5 922.5 2255.5 924 2256.5 926.4 2257.5 922.3 2258.5 928.1 2259.5 922.4 2260.5 928.8 2261.5 924.3 2262.5 928.3 2263.5 928.6 2264.5 929.7 2265.5 926.8 2266.5 928.6 2267.5 926.1 2268.5 929.9 2269.5 925.4 2270.5 930.8 2271.5 929.1 2272.5 925.8 2273.5 931.9 2274.5 928 2275.5 926.6 2276.5 928.1 2277.5 926.9 2277.6 930.0"/>
<path fill="#0000ff" d="M364.5 432.7L389.5 475.7L339.5 475.7ZM444.2 646.7L469.2 689.7L419.2 689.7ZM523.9 667.5L548.9 710.5L498.9 710.5ZM603.6 692.0L628.6 735.0L578.6 735.0ZM683.4 711.0L708.4 754.0L658.4 754.0ZM763.1 733.7L788.1 776.7L738.1 776.7ZM842.8 732.5L867.8 775.5L817.8 775.5ZM922.5 740.3L947.5 783.3L897.5 783.3ZM1002.2 749.3L1027.2 792.3L977.2 792.3ZM1081.9 758.6L1106.9 801.6L1056.9 801.6ZM1161.6 762.9L1186.6 805.9L1136.6 805.9ZM1241.4 779.9L1266.4 822.9L1216.4 822.9ZM1321.1 792.7L1346.1 835.7L1296.1 835.7ZM1400.8 812.1L1425.8 855.1L1375.8 855.1ZM1480.5 820.4L1505.5 863.4L1455.5 863.4ZM1560.2 818.3L1585.2 861.3L1535.2 861.3ZM1639.9 813.4L1664.9 856.4L1614.9 856.4ZM1719.6 842.1L1744.6 885.1L1694.6 885.1ZM1799.4 849.3L1824.4 892.3L1774.4 892.3ZM1879.1 854.1L1904.1 897.1L1854.1 897.1ZM1958.8 869.3L1983.8 912.3L1933.8 912.3ZM2038.5 877.3L2063.5 920.3L2013.5 920.3ZM2118.2 883.7L2143.2 926.7L2093.2 926.7ZM2197.9 886.9L2222.9 929.9L2172.9 929.9Z"/>
<path fill="none" stroke="#ff00ff" stroke-width="9" stroke-linejoin="round" stroke-linecap="round" d="M364.5 121.3 366.5 128 367.5 135.2 368.5 144.7 369.5 158 370.5 171.8 371.5 185.9 372.5 191.8 373.5 200 374.5 207.5 375.5 222.5 376.5 230 377.5 239.8 378.5 250 379.5 257.5 380.5 264.2 381.5 273.5 382.5 276 383.5 281.2 384.5 290.1 385.5 294.2 386.5 302.9 387.5 300.9 388.5 307.4 389.5 312.8 390.5 314.1 391.5 321.7 392.5 322.1 393.5 324.3 394.5 329.2 395.5 330.5 396.5 336.2 397.5 337.8 398.5 344.9 399.5 347.3 400.5 348 401.5 347.7 402.5 352 403.5 353.6 404.5 354.7 405.5 356.3 406.5 361.9 407.5 358.4 408.5 359.2 409.5 366.4 410.5 365.4 411.5 369.5 412.5 367 413.5 371.7 414.5 371.5 415.5 373.7 416.5 374.8 417.5 374.5 418.5 373.2 419.5 374.4 420.5 379.3 421.5 380 422.5 380.7 423.5 377.3 424.5 379.9 425.5 381.3 426.5 380.8 427.5 382.4 428.5 381 429.5 382.4 430.5 383.1 431.5 380.8 432.5 385.6 433.5 386.4 434.5 381 435.5 387.5 436.5 387.9 437.5 386.5 438.5 382.8 439.5 389 440.5 384.4 441.5 390.4 442.5 389 443.5 385.4 444.5 386.7 445.5 390.4 446.5 390.6 447.5 392.4 448.5 394.3 449.5 390.2 450.5 389.4 451.5 396.1 452.5 390.8 453.5 397.1 454.5 392.7 455.5 397.9 456.5 398.4 457.5 399.7 458.5 398.1 459.5 400.9 460.5 397.1 461.5 400.8 462.5 398.4 463.5 401.9 464.5 400.9 465.5 398.7 466.5 398.9 467.5 395.4 468.5 395.2 469.5 398.7 470.5 397.8 471.5 400.1 472.5 398.2 473.5 394.9 474.5 396.2 475.5 398.7 476.5 396.9 477.5 393.3 478.5 398.5 479.5 398.3 480.5 393.2 481.5 396.3 482.5 395.5 483.5 398.6 484.5 395.8 485.5 395.6 486.5 397.6 487.5 401.1 488.5 395.7 489.5 396.2 490.5 399.9 491.5 402 492.5 399.9 493.5 399.7 494.5 402.8 495.5 402.7 496.5 398.3 497.5 404 498.5 399.9 499.5 400.9 500.5 404.8 501.5 402.6 502.5 405.6 503.5 401.9 504.5 407.1 505.5 403 506.5 403.3 507.5 406.1 508.5 405.6 509.5 407.5 510.5 410.4 511.5 409.6 512.5 405.5 513.5 408.1 514.5 410.1 515.5 410.2 516.5 412.3 517.5 411.3 518.5 409.1 519.5 410.7 520.5 415.2 521.5 412.5 522.5 415.7 523.5 417.7 524.5 415.7 525.5 416.3 526.5 416.2 527.5 414.5 528.5 418.8 529.5 416.1 530.5 419.4 531.5 415.7 532.5 419.7 533.5 419.4 534.5 418.6 535.5 417.7 536.5 416 537.5 420.5 538.5 418.1 539.5 420.4 540.5 417.2 541.5 417.1 542.5 417.9 543.5 422.6 544.5 418.9 545.5 424 546.5 420.9 547.5 422.6 548.5 421.5 549.5 423.6 550.5 420.5 551.5 422.9 552.5 426.8 553.5 422.2 554.5 425.7 555.5 423.9 556.5 424.1 557.5 422.7 558.5 423 559.5 429.5 560.5 429.1 561.5 429.3 562.5 429.7 563.5 431 564.5 426.2 565.5 429.4 566.5 429.1 567.5 430 568.5 432.8 569.5 432 570.5 433.8 571.5 428.5 572.5 432.4 573.5 432.9 574.5 433.8 575.5 433.3 576.5 435.1 577.5 432 578.5 436.5 579.5 433.4 580.5 435.1 581.5 437.4 582.5 436.5 583.5 434.3 584.5 434.1 585.5 435.1 586.5 437.5 587.5 440.3 588.5 440.2 589.5 437.4 590.5 437.9 591.5 441.2 592.5 438.2 593.5 439.5 594.5 437.4 595.5 439.1 596.5 442 597.5 443.5 598.5 443.5 599.5 442.4 600.5 446.8 601.5 445.1 602.5 442.6 603.5 442.5 604.5 448.8 605.5 449.1 606.5 448.9 607.5 447.1 608.5 445.4 609.5 444.2 610.5 445.5 611.5 445.5 612.5 450.5 613.5 450.5 614.5 450 615.5 446.1 616.5 446.9 617.5 447.5 618.5 452.1 619.5 447.2 620.5 451.5 621.5 451.1 622.5 450.4 623.5 453.4 624.5 449.1 625.5 451 626.5 448.9 627.5 448.7 628.5 448.6 629.5 450.9 630.5 449.9 631.5 449.9 632.5 456.5 633.5 452.2 634.5 456.5 635.5 455.7 636.5 456.2 637.5 456.1 638.5 458.5 639.5 458.3 640.5 457.7 641.5 457 642.5 458.3 643.5 458.8 644.5 458.1 645.5 458.1 646.5 456.2 647.5 461.1 648.5 459.2 649.5 456.8 650.5 457.8 651.5 462.8 652.5 459 653.5 460.2 654.5 462.4 655.5 463.8 656.5 460.6 657.5 461.2 658.5 461.8 659.5 459.4 660.5 465.3 661.5 459.9 662.5 466.4 663.5 461.3 664.5 461.6 665.5 466.5 666.5 466.6 667.5 463 668.5 465.4 669.5 465.1 670.5 467 671.5 463.8 672.5 468.3 673.5 469.7 674.5 468 675.5 469.7 676.5 470.1 677.5 466.7 678.5 470 679.5 470.2 680.5 468.9 681.5 466 682.5 469.6 683.5 471.8 684.5 468.1 685.5 470.5 686.5 472.4 687.5 470.7 688.5 467.2 689.5 471.3 690.5 469 691.5 473.2 692.5 472.1 693.5 470 694.5 474.1 695.5 472.6 696.5 470.9 697.5 474.4 698.5 475 699.5 475.2 700.5 475.3 701.5 474.1 702.5 474.6 703.5 474.2 704.5 473.9 705.5 477.1 706.5 473.2 707.5 471.6 708.5 476 709.5 475 710.5 475.8 711.5 476.6 712.5 474.8 713.5 475 714.5 474.7 715.5 479.9 716.5 481.2 717.5 480.3 718.5 477 719.5 483.2 720.5 482.7 721.5 481.1 722.5 478.2 723.5 484.3 724.5 483.3 725.5 483.8 726.5 480.3 727.5 485.5 728.5 481.4 729.5 484.9 730.5 483.2 731.5 485.1 732.5 489.1 733.5 488.6 734.5 489.6 735.5 486.7 736.5 487.8 737.5 489.7 738.5 486.2 739.5 489 740.5 493 741.5 491.8 742.5 492.8 743.5 489.3 744.5 492.2 745.5 493.1 746.5 492.8 747.5 491.3 748.5 489.9 749.5 489.1 750.5 495.1 751.5 495.7 752.5 491.6 753.5 495.1 754.5 493 755.5 494.8 756.5 496.5 757.5 493.3 758.5 495.5 759.5 493.4 760.5 495.4 761.5 492.5 762.5 494.3 763.5 494.5 764.5 498.5 765.5 493.1 766.5 497 767.5 492.4 768.5 498.1 769.5 492.5 770.5 491.8 771.5 492.4 772.5 497 773.5 495 774.5 496.3 775.5 493.5 776.5 490.8 777.5 492.1 778.5 492.6 779.5 495.9 780.5 490.3 781.5 490.6 782.5 494.4 783.5 489.4 784.5 495.1 785.5 490.8 786.5 492.6 787.5 493.3 788.5 495.1 789.5 489.7 790.5 494.9 791.5 490.6 792.5 494.2 793.5 489.8 794.5 494.7 795.5 491 796.5 491.2 797.5 490.2 798.5 492.2 799.5 492.3 800.5 496.7 801.5 494.4 802.5 492.9 803.5 497.1 804.5 491.8 805.5 492.2 806.5 497.1 807.5 497.2 808.5 495.5 809.5 497.6 810.5 491.6 811.5 497.3 812.5 496.1 813.5 495.9 814.5 497.1 815.5 492.2 816.5 492.9 817.5 492.5 818.5 494.8 819.5 495.3 820.5 495.3 821.5 494.2 822.5 496.7 823.5 497.4 824.5 496.9 825.5 492.2 826.5 493 827.5 493.5 828.5 493.7 829.5 495.9 830.5 493.5 831.5 496.3 832.5 494.5 833.5 494.7 834.5 497 835.5 498.6 836.5 493.7 837.5 494.8 838.5 499 839.5 494 840.5 492.8 841.5 493.9 842.5 498.1 843.5 497.2 844.5 498 845.5 494.6 846.5 491.1 847.5 492.3 848.5 494.5 849.5 491.8 850.5 489.6 851.5 490.7 852.5 490.7 853.5 489.5 854.5 489.6 855.5 487 856.5 485.8 857.5 490.3 858.5 489.4 859.5 486.8 860.5 484.3 861.5 485 862.5 486.2 863.5 487.9 864.5 484.6 865.5 487.4 866.5 483.9 867.5 481.1 868.5 483.4 869.5 482.8 870.5 482.3 871.5 483.4 872.5 479.2 873.5 482.3 874.5 485.1 875.5 481.2 876.5 481 877.5 482.3 878.5 483.4 879.5 484.7 880.5 484.4 881.5 486.9 882.5 484.2 883.5 485.8 884.5 488.3 885.5 487.9 886.5 491 887.5 491.3 888.5 487.2 889.5 488.1 890.5 489.8 891.5 490.3 892.5 489.5 893.5 493.3 894.5 489.4 895.5 491.7 896.5 489.9 897.5 495.4 898.5 494.1 899.5 497.2 900.5 492.1 901.5 496.4 902.5 496.1 903.5 493 904.5 498.6 905.5 499.5 906.5 494.8 907.5 501 908.5 500.5 909.5 499.8 910.5 499.9 911.5 498.6 912.5 497.7 913.5 501 914.5 504.1 915.5 500.3 916.5 502.5 917.5 501.8 918.5 505 919.5 507.3 920.5 507.3 921.5 503.9 922.5 505.3 923.5 502.5 924.5 506 925.5 508.1 926.5 508.1 927.5 502.9 928.5 505.3 929.5 503 930.5 505.3 931.5 508.5 932.5 504.3 933.5 508 934.5 508.7 935.5 507.8 936.5 503.8 937.5 508.5 938.5 508.5 939.5 509 940.5 502.5 941.5 502.4 942.5 504.3 943.5 505.8 944.5 505.2 945.5 503 946.5 506.6 947.5 506.8 948.5 506.5 949.5 505.7 950.5 506 951.5 506.9 952.5 502.8 953.5 505.2 954.5 503.2 955.5 503 956.5 507.3 957.5 504.4 958.5 504.7 959.5 504.6 960.5 507 961.5 504.2 962.5 507.9 963.5 504.5 964.5 510.6 965.5 505.7 966.5 510 967.5 508.9 968.5 508.4 969.5 507.9 970.5 508.6 971.5 511.5 972.5 510.3 973.5 510.7 974.5 509.1 975.5 511.9 976.5 509.2 977.5 511.6 978.5 513 979.5 512.6 980.5 513.2 981.5 513.3 982.5 511.1 983.5 516.3 984.5 514.7 985.5 515.2 986.5 516.9 987.5 513.8 988.5 513.2 989.5 513.2 990.5 513.5 991.5 513.6 992.5 513.9 993.5 513.3 994.5 515.4 995.5 514.3 996.5 515 997.5 517.1 998.5 515 999.5 518.9 1000.5 518.6 1001.5 515.7 1002.5 519.2 1003.5 514.9 1004.5 514.3 1005.5 520.3 1006.5 513.9 1007.5 513.7 1008.5 519.4 1009.5 513.7 1010.5 518 1011.5 517.3 1012.5 515.1 1013.5 515.3 1014.5 520 1015.5 516.3 1016.5 515.2 1017.5 516.6 1018.5 518.5 1019.5 515.6 1020.5 514.2 1021.5 518.9 1022.5 514.3 1023.5 514 1024.5 513.7 1025.5 520.2 1026.5 516.5 1027.5 518.5 1028.5 517.3 1029.5 520 1030.5 515.9 1031.5 516 1032.5 518.5 1033.5 514.2 1034.5 516.9 1035.5 519.7 1036.5 518.7 1037.5 518.4 1038.5 521.6 1039.5 518.5 1040.5 520.7 1041.5 518.7 1042.5 517 1043.5 519.2 1044.5 518.3 1045.5 517.3 1046.5 519.3 1047.5 518.5 1048.5 520.9 1049.5 523 1050.5 523.4 1051.5 524.4 1052.5 520.9 1053.5 523.5 1054.5 525.2 1055.5 522.1 1056.5 525.8 1057.5 520.6 1058.5 526.3 1059.5 526.2 1060.5 527.1 1061.5 526.3 1062.5 525.7 1063.5 524.1 1064.5 526.2 1065.5 527.5 1066.5 525.7 1067.5 526.3 1068.5 528.5 1069.5 524.5 1070.5 525 1071.5 523.3 1072.5 529 1073.5 527.6 1074.5 528.1 1075.5 525.5 1076.5 525.3 1077.5 527.5 1078.5 530.3 1079.5 527.1 1080.5 527.8 1081.5 528 1082.5 531 1083.5 526.3 1084.5 531.4 1085.5 525.9 1086.5 530.5 1087.5 531.1 1088.5 529.3 1089.5 531.2 1090.5 528.3 1091.5 527.5 1092.5 529.1 1093.5 528.6 1094.5 531.7 1095.5 530.8 1096.5 531.6 1097.5 533.8 1098.5 532.6 1099.5 532.9 1100.5 534.2 1101.5 534 1102.5 532.9 1103.5 530.5 1104.5 531.7 1105.5 533.4 1106.5 533.8 1107.5 534.6 1108.5 533.7 1109.5 533.4 1110.5 530.8 1111.5 533.3 1112.5 530.5 1113.5 533.6 1114.5 530.6 1115.5 529.6 1116.5 535.9 1117.5 535.4 1118.5 531.8 1119.5 530.1 1120.5 535.3 1121.5 535.1 1122.5 531.1 1123.5 535.6 1124.5 535.8 1125.5 534.1 1126.5 532.2 1127.5 530.9 1128.5 531 1129.5 533.6 1130.5 535.5 1131.5 535 1132.5 532.4 1133.5 536.2 1134.5 531.5 1135.5 535.2 1136.5 532.4 1137.5 531.3 1138.5 532.7 1139.5 536.6 1140.5 532.8 1141.5 531.4 1142.5 534.5 1143.5 533.6 1144.5 535 1145.5 535 1146.5 535.8 1147.5 537.2 1148.5 533.3 1149.5 535.3 1150.5 531.8 1151.5 532.7 1152.5 531.6 1153.5 536.6 1154.5 533.1 1155.5 535.6 1156.5 536.6 1157.5 533.4 1158.5 532.2 1159.5 532.4 1160.5 534 1161.5 533.3 1162.5 531.4 1163.5 536.9 1164.5 535.8 1165.5 537.6 1166.5 537.7 1167.5 537.2 1168.5 538.1 1169.5 537.6 1170.5 536.1 1171.5 539 1172.5 539.9 1173.5 534.9 1174.5 535.4 1175.5 535.9 1176.5 538 1177.5 541 1178.5 539.1 1179.5 541.5 1180.5 538.6 1181.5 540.2 1182.5 538.4 1183.5 541.3 1184.5 539.1 1185.5 537.7 1186.5 540.6 1187.5 541.9 1188.5 544.3 1189.5 540.7 1190.5 545.2 1191.5 544.7 1192.5 540.7 1193.5 545.1 1194.5 546.4 1195.5 546.9 1196.5 545.3 1197.5 543.6 1198.5 544.9 1199.5 545.8 1200.5 545.8 1201.5 543.3 1202.5 548.1 1203.5 546.1 1204.5 543.2 1205.5 545 1206.5 543.8 1207.5 546.5 1208.5 544.4 1209.5 547.5 1210.5 546.1 1211.5 549.9 1212.5 549.8 1213.5 546.2 1214.5 550.6 1215.5 549.3 1216.5 547.5 1217.5 552 1218.5 546.2 1219.5 549.1 1220.5 550.6 1221.5 548 1222.5 550.4 1223.5 553.3 1224.5 550 1225.5 552.6 1226.5 549.4 1227.5 554.9 1228.5 555.1 1229.5 550 1230.5 554.2 1231.5 551.6 1232.5 549.9 1233.5 551.3 1234.5 555 1235.5 553.5 1236.5 554.2 1237.5 551.8 1238.5 552.3 1239.5 553.8 1240.5 555.1 1241.5 557.3 1242.5 555.2 1243.5 554.7 1244.5 558.8 1245.5 557.6 1246.5 558.4 1247.5 559 1248.5 557.2 1249.5 556 1250.5 555.3 1251.5 559.2 1252.5 560 1253.5 561.4 1254.5 561.8 1255.5 559.3 1256.5 559.5 1257.5 562.9 1258.5 557.4 1259.5 559.6 1260.5 561 1261.5 561.7 1262.5 562 1263.5 559.3 1264.5 561.9 1265.5 560 1266.5 561.7 1267.5 560.6 1268.5 561.8 1269.5 564.2 1270.5 562.9 1271.5 561.7 1272.5 564 1273.5 565.6 1274.5 563.5 1275.5 563.6 1276.5 564.9 1277.5 566.9 1278.5 562.9 1279.5 567.4 1280.5 563.2 1281.5 568.6 1282.5 563.8 1283.5 567.8 1284.5 562.4 1285.5 565.3 1286.5 563.6 1287.5 566.8 1288.5 566.6 1289.5 562.2 1290.5 561.6 1291.5 565.9 1292.5 563.7 1293.5 563.2 1294.5 562.9 1295.5 562.8 1296.5 564 1297.5 563 1298.5 561.6 1299.5 564.2 1300.5 567.9 1301.5 566.8 1302.5 566.8 1303.5 568.5 1304.5 565.6 1305.5 565.4 1306.5 568.6 1307.5 564.3 1308.5 569 1309.5 565.3 1310.5 568.7 1311.5 568.3 1312.5 570.3 1313.5 566 1314.5 570.3 1315.5 571.7 1316.5 566.8 1317.5 571.4 1318.5 569 1319.5 572.4 1320.5 574.3 1321.5 568 1322.5 570.6 1323.5 571.2 1324.5 574.3 1325.5 573.9 1326.5 567.9 1327.5 568.6 1328.5 570.3 1329.5 572.8 1330.5 572.7 1331.5 571.1 1332.5 573.5 1333.5 572.7 1334.5 573.1 1335.5 571.4 1336.5 568.9 1337.5 572 1338.5 571.8 1339.5 573.1 1340.5 568.1 1341.5 567 1342.5 569.1 1343.5 568.5 1344.5 569.3 1345.5 567.1 1346.5 570.6 1347.5 569.4 1348.5 568.3 1349.5 567.1 1350.5 570.2 1351.5 567.5 1352.5 572.9 1353.5 569.4 1354.5 573.9 1355.5 569.2 1356.5 571.3 1357.5 574.2 1358.5 572.9 1359.5 572.8 1360.5 576 1361.5 571.7 1362.5 576.6 1363.5 574.8 1364.5 573.6 1365.5 574.4 1366.5 574.3 1367.5 577.1 1368.5 576.2 1369.5 577.1 1370.5 578.3 1371.5 580.1 1372.5 579.4 1373.5 577.1 1374.5 579.9 1375.5 580.5 1376.5 582.3 1377.5 579.2 1378.5 580.6 1379.5 582.5 1380.5 580.2 1381.5 580.6 1382.5 583 1383.5 581.8 1384.5 585.4 1385.5 582.6 1386.5 582.2 1387.5 585.2 1388.5 585.6 1389.5 588.7 1390.5 588.8 1391.5 585.9 1392.5 586.5 1393.5 588.3 1394.5 587.8 1395.5 589.2 1396.5 589.1 1397.5 593.4 1398.5 594.8 1399.5 595.3 1400.5 596.2 1401.5 598.4 1402.5 595.4 1403.5 601.1 1404.5 597.4 1405.5 597.5 1406.5 600.2 1407.5 598.2 1408.5 599 1409.5 601.4 1410.5 598.6 1411.5 600.4 1412.5 600.4 1413.5 604.3 1414.5 598.8 1415.5 601.8 1416.5 601.7 1417.5 599.8 1418.5 601.2 1419.5 601.5 1420.5 601.5 1421.5 602.8 1422.5 602.9 1423.5 602.3 1424.5 602.2 1425.5 603.3 1426.5 602.5 1427.5 600.2 1428.5 603.7 1429.5 602.1 1430.5 605.1 1431.5 600.4 1432.5 603.1 1433.5 601.5 1434.5 603.8 1435.5 605 1436.5 604 1437.5 603.5 1438.5 605.9 1439.5 601.3 1440.5 606.4 1441.5 602.7 1442.5 604 1443.5 600.8 1444.5 600.1 1445.5 601 1446.5 603.6 1447.5 601.6 1448.5 605.3 1449.5 601.1 1450.5 604.5 1451.5 606.1 1452.5 604.8 1453.5 606.4 1454.5 605.8 1455.5 606.1 1456.5 600.8 1457.5 604 1458.5 602.7 1459.5 603.7 1460.5 605.7 1461.5 605.8 1462.5 602.4 1463.5 602.3 1464.5 601.7 1465.5 606.2 1466.5 606.8 1467.5 602.1 1468.5 602.5 1469.5 602.6 1470.5 608.3 1471.5 602.3 1472.5 605.7 1473.5 607.8 1474.5 603.2 1475.5 606.7 1476.5 604.5 1477.5 606.6 1478.5 605.5 1479.5 603.5 1480.5 608.5 1481.5 606 1482.5 609.3 1483.5 606.8 1484.5 609.3 1485.5 607.4 1486.5 603.6 1487.5 603.3 1488.5 609.9 1489.5 607.9 1490.5 608.8 1491.5 609.2 1492.5 606.2 1493.5 608.5 1494.5 608.3 1495.5 604.5 1496.5 607.7 1497.5 610.4 1498.5 608 1499.5 609.7 1500.5 605 1501.5 607.4 1502.5 608.1 1503.5 608.5 1504.5 610.5 1505.5 608.3 1506.5 608.9 1507.5 608.7 1508.5 609.8 1509.5 609.3 1510.5 608.2 1511.5 607.5 1512.5 611.4 1513.5 608.1 1514.5 610.5 1515.5 607.6 1516.5 612.3 1517.5 607.2 1518.5 608.6 1519.5 608.3 1520.5 611.6 1521.5 610.7 1522.5 607.6 1523.5 607.5 1524.5 610.8 1525.5 608.9 1526.5 607.2 1527.5 606.7 1528.5 610.8 1529.5 610.4 1530.5 611.4 1531.5 606.6 1532.5 609.2 1533.5 607 1534.5 609.7 1535.5 607.3 1536.5 607 1537.5 609 1538.5 606.1 1539.5 610.1 1540.5 605.7 1541.5 606.1 1542.5 609.1 1543.5 605.6 1544.5 605.6 1545.5 608.6 1546.5 606.9 1547.5 608.3 1548.5 608.5 1549.5 608.8 1550.5 602.8 1551.5 604.6 1552.5 604.8 1553.5 603.5 1554.5 607.1 1555.5 603.7 1556.5 607 1557.5 601.1 1558.5 603.3 1559.5 604.3 1560.5 605.1 1561.5 603 1562.5 605.6 1563.5 601.5 1564.5 601.8 1565.5 600.5 1566.5 600.4 1567.5 602.2 1568.5 603.7 1569.5 600 1570.5 601.8 1571.5 601.3 1572.5 604.8 1573.5 601.4 1574.5 603.4 1575.5 599.4 1576.5 603.7 1577.5 597.8 1578.5 598.5 1579.5 601.5 1580.5 600.7 1581.5 600.5 1582.5 601 1583.5 599.1 1584.5 601 1585.5 599.1 1586.5 600.2 1587.5 600.9 1588.5 598.1 1589.5 601 1590.5 601.3 1591.5 602.2 1592.5 596 1593.5 598.2 1594.5 596.3 1595.5 596.2 1596.5 598.4 1597.5 600.7 1598.5 596.6 1599.5 601.2 1600.5 601.8 1601.5 602.8 1602.5 601.7 1603.5 598.3 1604.5 601.9 1605.5 601.2 1606.5 599.4 1607.5 603.1 1608.5 600.2 1609.5 603.8 1610.5 604.3 1611.5 601.4 1612.5 599.9 1613.5 604.4 1614.5 599.8 1615.5 599.4 1616.5 604.2 1617.5 599.8 1618.5 599.7 1619.5 600.4 1620.5 602.4 1621.5 598.7 1622.5 599.3 1623.5 597.5 1624.5 598.5 1625.5 601.6 1626.5 600.7 1627.5 600.2 1628.5 602 1629.5 596.1 1630.5 597.5 1631.5 599.6 1632.5 597.6 1633.5 601.5 1634.5 596.3 1635.5 601 1636.5 599.3 1637.5 598.7 1638.5 600.3 1639.5 596.7 1640.5 596.2 1641.5 597.2 1642.5 599.5 1643.5 600.4 1644.5 599.5 1645.5 600.9 1646.5 600.4 1647.5 601.4 1648.5 597.5 1649.5 602.4 1650.5 600.8 1651.5 599.8 1652.5 598.8 1653.5 602.3 1654.5 600.1 1655.5 601.3 1656.5 602.9 1657.5 601 1658.5 601.5 1659.5 600.8 1660.5 602.9 1661.5 606.4 1662.5 602.9 1663.5 603.3 1664.5 602.8 1665.5 606.2 1666.5 607.3 1667.5 603.8 1668.5 608.1 1669.5 602.9 1670.5 603.7 1671.5 603.7 1672.5 608.4 1673.5 603.8 1674.5 608.2 1675.5 604.9 1676.5 605.6 1677.5 604.4 1678.5 609.2 1679.5 606.4 1680.5 610.3 1681.5 608.8 1682.5 608.1 1683.5 607.5 1684.5 608.3 1685.5 608.5 1686.5 611.2 1687.5 606.4 1688.5 606.8 1689.5 613.3 1690.5 612.4 1691.5 613.2 1692.5 613.3 1693.5 611.4 1694.5 614 1695.5 618.9 1696.5 616.6 1697.5 620 1698.5 620.3 1699.5 619.4 1700.5 619.8 1701.5 620.7 1702.5 625.5 1703.5 622.9 1704.5 625.2 1705.5 626.2 1706.5 627.9 1707.5 624.4 1708.5 626.7 1709.5 629.4 1710.5 629.3 1711.5 628.6 1712.5 630.2 1713.5 631.7 1714.5 632.8 1715.5 631.1 1716.5 628.8 1717.5 629.5 1718.5 633.5 1719.5 634.1 1720.5 632.8 1721.5 634.7 1722.5 631.7 1723.5 633.1 1724.5 633.2 1725.5 635.9 1726.5 637.5 1727.5 633.2 1728.5 632.2 1729.5 634.2 1730.5 637.7 1731.5 638.8 1732.5 632.8 1733.5 634.8 1734.5 636 1735.5 638.9 1736.5 637 1737.5 636.3 1738.5 640.1 1739.5 638.7 1740.5 640 1741.5 639.6 1742.5 641 1743.5 639.2 1744.5 640.1 1745.5 638.4 1746.5 639.8 1747.5 641.7 1748.5 642 1749.5 641.9 1750.5 640.6 1751.5 639.6 1752.5 639.3 1753.5 639.4 1754.5 643.2 1755.5 641.4 1756.5 642.3 1757.5 641.5 1758.5 637.8 1759.5 640.1 1760.5 639.5 1761.5 643.7 1762.5 641.9 1763.5 639.8 1764.5 640.8 1765.5 643.4 1766.5 641 1767.5 642.2 1768.5 640 1769.5 640.5 1770.5 642.8 1771.5 639.1 1772.5 642.3 1773.5 643.4 1774.5 644.5 1775.5 641.5 1776.5 642.1 1777.5 644.6 1778.5 643.3 1779.5 643.8 1780.5 641.6 1781.5 639 1782.5 643.7 1783.5 638.8 1784.5 643 1785.5 640.2 1786.5 643.6 1787.5 642.6 1788.5 641.7 1789.5 641.6 1790.5 640.4 1791.5 645.1 1792.5 642.2 1793.5 644.9 1794.5 639.3 1795.5 638.7 1796.5 639.8 1797.5 640.8 1798.5 645.2 1799.5 639.5 1800.5 642.1 1801.5 644.4 1802.5 640.7 1803.5 640.6 1804.5 640.1 1805.5 639.1 1806.5 642.5 1807.5 642.4 1808.5 640.1 1809.5 642.4 1810.5 642 1811.5 643.3 1812.5 640.3 1813.5 640.2 1814.5 644.5 1815.5 643.2 1816.5 643.7 1817.5 641 1818.5 642.5 1819.5 641.2 1820.5 643.2 1821.5 645 1822.5 641.9 1823.5 641.7 1824.5 643.3 1825.5 642 1826.5 641.1 1827.5 638.8 1828.5 644.1 1829.5 642.1 1830.5 644.3 1831.5 640.9 1832.5 644.3 1833.5 643.7 1834.5 639.8 1835.5 643.3 1836.5 638.3 1837.5 642.1 1838.5 642.9 1839.5 642.4 1840.5 639.4 1841.5 639.7 1842.5 638.4 1843.5 643 1844.5 640.8 1845.5 642 1846.5 639.9 1847.5 639.4 1848.5 642.6 1849.5 642.5 1850.5 641.1 1851.5 640.3 1852.5 641.8 1853.5 637.9 1854.5 638 1855.5 641.4 1856.5 641 1857.5 642 1858.5 642 1859.5 640.3 1860.5 638.8 1861.5 643.5 1862.5 644.5 1863.5 642.6 1864.5 641.6 1865.5 645.4 1866.5 641.4 1867.5 641.8 1868.5 644.7 1869.5 644.4 1870.5 646.6 1871.5 642.1 1872.5 648.5 1873.5 644.5 1874.5 646.3 1875.5 643.6 1876.5 646.2 1877.5 647.5 1878.5 650.7 1879.5 646 1880.5 645.8 1881.5 650.9 1882.5 651.5 1883.5 648.9 1884.5 649.3 1885.5 651.9 1886.5 649.3 1887.5 649.5 1888.5 649.5 1889.5 648.5 1890.5 648.9 1891.5 649.7 1892.5 648 1893.5 650.8 1894.5 653.1 1895.5 653.9 1896.5 649.2 1897.5 651 1898.5 654.5 1899.5 655.3 1900.5 651.3 1901.5 650.6 1902.5 655.2 1903.5 651.8 1904.5 654.4 1905.5 656.4 1906.5 652.2 1907.5 652.7 1908.5 654.7 1909.5 651.7 1910.5 654.7 1911.5 655.4 1912.5 654.6 1913.5 656.9 1914.5 656.6 1915.5 656.4 1916.5 658.2 1917.5 654 1918.5 654.5 1919.5 655.5 1920.5 655.1 1921.5 660.1 1922.5 660.1 1923.5 660.6 1924.5 657.6 1925.5 660.9 1926.5 661.7 1927.5 660.9 1928.5 661.7 1929.5 660.9 1930.5 656.7 1931.5 659.1 1932.5 658.9 1933.5 661 1934.5 661.5 1935.5 664.1 1936.5 660 1937.5 665 1938.5 659.8 1939.5 664.2 1940.5 661.4 1941.5 663.2 1942.5 663.8 1943.5 660.3 1944.5 664.1 1945.5 664.8 1946.5 662.4 1947.5 661.6 1948.5 665.2 1949.5 663.2 1950.5 662.9 1951.5 663.5 1952.5 665.9 1953.5 665.5 1954.5 665.2 1955.5 663.7 1956.5 664.6 1957.5 667.4 1958.5 666.3 1959.5 664.9 1960.5 669.1 1961.5 667.4 1962.5 666 1963.5 670.2 1964.5 667.3 1965.5 664.8 1966.5 667 1967.5 665.6 1968.5 669.4 1969.5 669 1970.5 664.4 1971.5 664.8 1972.5 668.4 1973.5 667.3 1974.5 666 1975.5 667.2 1976.5 664.9 1977.5 667.1 1978.5 667.8 1979.5 670.2 1980.5 668.1 1981.5 667.9 1982.5 664.3 1983.5 667.4 1984.5 667.9 1985.5 668.8 1986.5 666.6 1987.5 671 1988.5 669.6 1989.5 669.9 1990.5 671.8 1991.5 671.9 1992.5 666.6 1993.5 671.9 1994.5 669.6 1995.5 670.3 1996.5 666.6 1997.5 667.1 1998.5 672.1 1999.5 669.5 2000.5 673.8 2001.5 673.7 2002.5 671.2 2003.5 671.7 2004.5 672 2005.5 671.8 2006.5 673.8 2007.5 675.1 2008.5 671 2009.5 671.8 2010.5 671.8 2011.5 669.9 2012.5 670.6 2013.5 670.9 2014.5 674.8 2015.5 671.2 2016.5 674.1 2017.5 676.8 2018.5 673.2 2019.5 677.2 2020.5 672.5 2021.5 673.3 2022.5 672.1 2023.5 672.3 2024.5 674.1 2025.5 676.7 2026.5 676.1 2027.5 673.4 2028.5 672.5 2029.5 672.8 2030.5 674.6 2031.5 676.2 2032.5 672.7 2033.5 673.6 2034.5 677.5 2035.5 674.8 2036.5 673.7 2037.5 678.9 2038.5 674.2 2039.5 678.8 2040.5 674.4 2041.5 679.9 2042.5 677.5 2043.5 676.8 2044.5 676.1 2045.5 680.3 2046.5 677.8 2047.5 678.9 2048.5 677.5 2049.5 676.8 2050.5 677.8 2051.5 677.6 2052.5 681 2053.5 681.7 2054.5 681.6 2055.5 678.6 2056.5 679 2057.5 683.2 2058.5 680.2 2059.5 681.2 2060.5 677.9 2061.5 682.8 2062.5 680.8 2063.5 679.5 2064.5 681.3 2065.5 679.7 2066.5 680.9 2067.5 681.1 2068.5 681.8 2069.5 681.3 2070.5 680.4 2071.5 684.9 2072.5 683 2073.5 682.1 2074.5 683.8 2075.5 680.3 2076.5 681.7 2077.5 682.1 2078.5 683 2079.5 685.6 2080.5 682.9 2081.5 682.7 2082.5 684 2083.5 685.2 2084.5 682.2 2085.5 684.7 2086.5 682.6 2087.5 680.4 2088.5 680.8 2089.5 680.7 2090.5 683 2091.5 681.9 2092.5 684.2 2093.5 685.4 2094.5 683.6 2095.5 685.5 2096.5 682.7 2097.5 682 2098.5 686.2 2099.5 684.5 2100.5 682.3 2101.5 683.3 2102.5 686.8 2103.5 681.4 2104.5 686.7 2105.5 681.9 2106.5 687 2107.5 684.7 2108.5 682.1 2109.5 683.1 2110.5 683.9 2111.5 685.4 2112.5 686.7 2113.5 687.1 2114.5 683 2115.5 685.4 2116.5 686.7 2117.5 682.9 2118.5 687.1 2119.5 683.4 2120.5 685.8 2121.5 685.2 2122.5 685.5 2123.5 687.7 2124.5 683.1 2125.5 684 2126.5 688.7 2127.5 686.5 2128.5 688.4 2129.5 684 2130.5 684.7 2131.5 686.5 2132.5 687.9 2133.5 686.2 2134.5 683.4 2135.5 685.9 2136.5 688.1 2137.5 688.9 2138.5 683.8 2139.5 685.9 2140.5 689.4 2141.5 688.3 2142.5 687.6 2143.5 684.4 2144.5 686.3 2145.5 685.5 2146.5 685.8 2147.5 685.5 2148.5 682.6 2149.5 687.1 2150.5 684.4 2151.5 682.5 2152.5 685.1 2153.5 682.9 2154.5 681.3 2155.5 684.1 2156.5 680.1 2157.5 685.8 2158.5 683.2 2159.5 681 2160.5 685.3 2161.5 683 2162.5 679.3 2163.5 684.1 2164.5 679.7 2165.5 681.3 2166.5 683.3 2167.5 683.9 2168.5 685.9 2169.5 685.1 2170.5 680.9 2171.5 683.4 2172.5 680.5 2173.5 684.6 2174.5 682.8 2175.5 684.4 2176.5 680.6 2177.5 683.4 2178.5 683.3 2179.5 680.9 2180.5 685.3 2181.5 687.7 2182.5 686.4 2183.5 688.1 2184.5 682.7 2185.5 686.5 2186.5 686.4 2187.5 685.8 2188.5 688.4 2189.5 686.1 2190.5 684.3 2191.5 688.1 2192.5 689.8 2193.5 686.9 2194.5 688.9 2195.5 686 2196.5 691.8 2197.5 692 2198.5 685.8 2199.5 690 2200.5 691.9 2201.5 689.2 2202.5 686.4 2203.5 690.7 2204.5 689.3 2205.5 688.3 2206.5 686.4 2207.5 687.6 2208.5 691.5 2209.5 689.3 2210.5 689.7 2211.5 690.5 2212.5 688.8 2213.5 691.4 2214.5 691.2 2215.5 686.6 2216.5 690.7 2217.5 686.7 2218.5 689.9 2219.5 692.7 2220.5 692.1 2221.5 688.7 2222.5 693.1 2223.5 688.4 2224.5 692.1 2225.5 692.8 2226.5 688.4 2227.5 690.1 2228.5 692.2 2229.5 695.6 2230.5 690.4 2231.5 692.6 2232.5 695.8 2233.5 691.3 2234.5 696 2235.5 695.7 2236.5 696.3 2237.5 693.6 2238.5 695.7 2239.5 692.9 2240.5 694.1 2241.5 697.9 2242.5 693.6 2243.5 696.7 2244.5 694 2245.5 699.1 2246.5 698.3 2247.5 695.2 2248.5 700.5 2249.5 699.3 2250.5 699.5 2251.5 696.1 2252.5 701.4 2253.5 700.8 2254.5 699.1 2255.5 697.3 2256.5 702.2 2257.5 698.9 2258.5 703 2259.5 701.9 2260.5 700.8 2261.5 701.7 2262.5 700.9 2263.5 702.7 2264.5 705.5 2265.5 703.7 2266.5 702.8 2267.5 705.1 2268.5 707.3 2269.5 702.4 2270.5 705.2 2271.5 707.7 2272.5 705.8 2273.5 704 2274.5 704 2275.5 707.7 2276.5 707.1 2277.5 704.2 2277.6 707.0"/>
<path fill="#ff00ff" d="M364.5 92.6L389.5 135.6L339.5 135.6ZM444.2 360.0L469.2 403.0L419.2 403.0ZM523.9 386.0L548.9 429.0L498.9 429.0ZM603.6 416.7L628.6 459.7L578.6 459.7ZM683.4 440.4L708.4 483.4L658.4 483.4ZM763.1 468.8L788.1 511.8L738.1 511.8ZM842.8 467.3L867.8 510.3L817.8 510.3ZM922.5 477.1L947.5 520.1L897.5 520.1ZM1002.2 488.3L1027.2 531.3L977.2 531.3ZM1081.9 499.9L1106.9 542.9L1056.9 542.9ZM1161.6 505.3L1186.6 548.3L1136.6 548.3ZM1241.4 526.5L1266.4 569.5L1216.4 569.5ZM1321.1 542.6L1346.1 585.6L1296.1 585.6ZM1400.8 566.8L1425.8 609.8L1375.8 609.8ZM1480.5 577.2L1505.5 620.2L1455.5 620.2ZM1560.2 574.6L1585.2 617.6L1535.2 617.6ZM1639.9 568.4L1664.9 611.4L1614.9 611.4ZM1719.6 604.3L1744.6 647.3L1694.6 647.3ZM1799.4 613.3L1824.4 656.3L1774.4 656.3ZM1879.1 619.3L1904.1 662.3L1854.1 662.3ZM1958.8 638.3L1983.8 681.3L1933.8 681.3ZM2038.5 648.3L2063.5 691.3L2013.5 691.3ZM2118.2 656.3L2143.2 699.3L2093.2 699.3ZM2197.9 660.3L2222.9 703.3L2172.9 703.3Z"/>
<path fill="none" stroke="#008000" stroke-width="9" stroke-linejoin="round" stroke-linecap="round" d="M364.5 1328.5 365.5 1400 366.5 1408.5 367.5 1396.1 368.5 1400.5 369.5 1400.3 370.5 1399.6 371.5 1384.8 372.5 1399.1 373.5 1393.2 374.5 1394.5 375.5 1387.5 376.5 1391.7 377.5 1394.6 378.5 1391.1 379.5 1393.1 380.5 1375.8 381.5 1379 382.5 1386 383.5 1391.2 384.5 1391 385.5 1376.2 386.5 1386.9 387.5 1380.7 388.5 1376.3 389.5 1378.2 390.5 1382.7 391.5 1379.1 392.5 1379.3 393.5 1375.2 394.5 1385.9 395.5 1383.6 396.5 1389.3 397.5 1388.6 398.5 1379.6 399.5 1396.1 400.5 1378.9 401.5 1382 402.5 1374.5 403.5 1392.3 404.5 1380.7 405.5 1372.1 406.5 1386.7 407.5 1373.9 408.5 1385.4 409.5 1380.5 410.5 1386.7 411.5 1396.4 412.5 1398.7 413.5 1394.6 414.5 1388 415.5 1382.6 416.5 1394.1 417.5 1393.5 418.5 1403.6 419.5 1404.1 420.5 1395.3 421.5 1389.1 422.5 1402.9 423.5 1380.7 424.5 1391.2 425.5 1379.3 426.5 1391.4 427.5 1397.9 428.5 1384.9 429.5 1386.2 430.5 1380.9 431.5 1382.4 432.5 1399.2 433.5 1384.3 434.5 1398.6 435.5 1397.3 436.5 1389.2 437.5 1380.6 438.5 1390.5 439.5 1387.9 440.5 1404.4 441.5 1392 442.5 1386.8 443.5 1391.5 444.5 1382.6 445.5 1395.2 446.5 1390.9 447.5 1387.3 448.5 1399.7 449.5 1401 450.5 1381 451.5 1401.3 452.5 1398 453.5 1385.1 454.5 1386.2 455.5 1384.1 456.5 1405.6 457.5 1388.9 458.5 1397.5 459.5 1394.9 460.5 1399.9 461.5 1387.9 462.5 1404.5 463.5 1393.6 464.5 1400 465.5 1395.5 466.5 1394.8 467.5 1400.9 468.5 1399.5 469.5 1397.1 470.5 1406.9 471.5 1403.4 472.5 1390 473.5 1395.9 474.5 1401.5 475.5 1413.5 476.5 1413.2 477.5 1405.2 478.5 1398.6 479.5 1402.7 480.5 1406.5 481.5 1405.1 482.5 1401.8 483.5 1413.1 484.5 1400.4 485.5 1401 486.5 1413 487.5 1397.1 488.5 1400.1 489.5 1414 490.5 1395.1 491.5 1414.5 492.5 1411 493.5 1404.5 494.5 1400.7 495.5 1402.3 496.5 1410.4 497.5 1412 498.5 1410.4 499.5 1406.1 500.5 1401.5 501.5 1412.3 502.5 1418 503.5 1399.5 504.5 1403.7 505.5 1418.6 506.5 1418.1 507.5 1415.1 508.5 1399.3 509.5 1417 510.5 1423.6 511.5 1424.3 512.5 1417 513.5 1400.9 514.5 1416.5 515.5 1424.3 516.5 1418.5 517.5 1404.2 518.5 1408.3 519.5 1424.1 520.5 1404.9 521.5 1416.5 522.5 1411.6 523.5 1397.5 524.5 1399.1 525.5 1405.8 526.5 1398 527.5 1397.5 528.5 1410.3 529.5 1414.4 530.5 1417.7 531.5 1399 532.5 1406.3 533.5 1403.3 534.5 1410.4 535.5 1407.6 536.5 1418.8 537.5 1404.8 538.5 1398.6 539.5 1410.7 540.5 1407.7 541.5 1418 542.5 1409.4 543.5 1411.3 544.5 1402.7 545.5 1410.3 546.5 1403.3 547.5 1416.3 548.5 1411 549.5 1402 550.5 1405 551.5 1408.9 552.5 1418.5 553.5 1405 554.5 1407.6 555.5 1422.6 556.5 1408.6 557.5 1409.9 558.5 1422.1 559.5 1413.7 560.5 1430.1 561.5 1420.7 562.5 1417.3 563.5 1429.7 564.5 1411 565.5 1429 566.5 1412.8 567.5 1415.8 568.5 1436.4 569.5 1415.8 570.5 1437.8 571.5 1430.6 572.5 1435.1 573.5 1418.6 574.5 1431.2 575.5 1425 576.5 1422.5 577.5 1425.4 578.5 1426.7 579.5 1420.9 580.5 1438.7 581.5 1434.6 582.5 1438.9 583.5 1430 584.5 1440.3 585.5 1431.8 586.5 1433.5 587.5 1432.9 588.5 1436.9 589.5 1417.6 590.5 1421.7 591.5 1417.4 592.5 1438.5 593.5 1428.2 594.5 1435 595.5 1415.8 596.5 1431.6 597.5 1426.6 598.5 1427.3 599.5 1417.9 600.5 1418.9 601.5 1418.7 602.5 1423.8 603.5 1423.8 604.5 1436.2 605.5 1418.1 606.5 1420.8 607.5 1421.6 608.5 1418.9 609.5 1422.1 610.5 1420.8 611.5 1426.9 612.5 1415.5 613.5 1437.5 614.5 1423.3 615.5 1433.9 616.5 1428.6 617.5 1440.2 618.5 1419.4 619.5 1433.2 620.5 1423.9 621.5 1433.7 622.5 1435.3 623.5 1421.4 624.5 1422.6 625.5 1418.5 626.5 1423.9 627.5 1420.4 628.5 1428.7 629.5 1443.3 630.5 1428.4 631.5 1422.1 632.5 1433.5 633.5 1433.3 634.5 1419.6 635.5 1421.7 636.5 1432.7 637.5 1439.6 638.5 1432.4 639.5 1427.1 640.5 1440.9 641.5 1416.8 642.5 1418.3 643.5 1436.4 644.5 1431.4 645.5 1442.6 646.5 1430.9 647.5 1426.8 648.5 1420.5 649.5 1420.1 650.5 1445.4 651.5 1423.8 652.5 1429.1 653.5 1424.9 654.5 1434.2 655.5 1426.4 656.5 1432 657.5 1436.4 658.5 1434.4 659.5 1428.2 660.5 1428 661.5 1451.3 662.5 1431.3 663.5 1437.1 664.5 1425.6 665.5 1431 666.5 1425.5 667.5 1436 668.5 1445.1 669.5 1436.6 670.5 1442.6 671.5 1426 672.5 1420.6 673.5 1433.2 674.5 1431.3 675.5 1434.7 676.5 1436.7 677.5 1440.9 678.5 1425.2 679.5 1428.2 680.5 1437.2 681.5 1421.6 682.5 1418.5 683.5 1423 684.5 1417.5 685.5 1434.7 686.5 1420.5 687.5 1419.5 688.5 1423.8 689.5 1420 690.5 1428.9 691.5 1432.9 692.5 1424.9 693.5 1420.6 694.5 1436.9 695.5 1420.9 696.5 1425 697.5 1418.5 698.5 1426.9 699.5 1424.6 700.5 1435.9 701.5 1431.3 702.5 1440.2 703.5 1434.5 704.5 1437.5 705.5 1433.3 706.5 1437.3 707.5 1445.2 708.5 1439.9 709.5 1439.6 710.5 1429.1 711.5 1443 712.5 1432.6 713.5 1426.6 714.5 1425.4 715.5 1428.2 716.5 1430.8 717.5 1441.4 718.5 1431.8 719.5 1426.5 720.5 1444.2 721.5 1439.2 722.5 1426.1 723.5 1426.8 724.5 1445 725.5 1447.3 726.5 1439 727.5 1429.6 728.5 1434.6 729.5 1433 730.5 1432.2 731.5 1424.3 732.5 1438.7 733.5 1444.8 734.5 1442.4 735.5 1428.3 736.5 1441.9 737.5 1435.4 738.5 1447.9 739.5 1444.4 740.5 1427.3 741.5 1432.1 742.5 1447 743.5 1435.5 744.5 1434.8 745.5 1434.9 746.5 1443 747.5 1447.2 748.5 1441.8 749.5 1429.5 750.5 1447.3 751.5 1437.4 752.5 1428.3 753.5 1451.5 754.5 1428 755.5 1441.7 756.5 1439.4 757.5 1449.4 758.5 1437.3 759.5 1432.9 760.5 1434.6 761.5 1432.7 762.5 1441.8 763.5 1436.8 764.5 1446.9 765.5 1434.3 766.5 1437.3 767.5 1434.9 768.5 1453.2 769.5 1447.5 770.5 1442.2 771.5 1435.9 772.5 1453.2 773.5 1444.7 774.5 1433.5 775.5 1436.9 776.5 1435.3 777.5 1450.9 778.5 1455.6 779.5 1438.2 780.5 1453.3 781.5 1441.6 782.5 1450.7 783.5 1455.4 784.5 1449.5 785.5 1454.1 786.5 1442.8 787.5 1444.6 788.5 1434.5 789.5 1439.6 790.5 1437.7 791.5 1430.4 792.5 1441.2 793.5 1446.8 794.5 1439.1 795.5 1453.6 796.5 1449.4 797.5 1452 798.5 1446.1 799.5 1445.5 800.5 1442 801.5 1448.5 802.5 1437.4 803.5 1443.1 804.5 1436.8 805.5 1431.2 806.5 1431.1 807.5 1437.3 808.5 1442.5 809.5 1446.5 810.5 1444.9 811.5 1434.2 812.5 1449.4 813.5 1432.6 814.5 1443.5 815.5 1427.7 816.5 1445.2 817.5 1443.6 818.5 1451.2 819.5 1450.8 820.5 1448.6 821.5 1445.8 822.5 1436.1 823.5 1444.1 824.5 1453.9 825.5 1437.8 826.5 1456.5 827.5 1446.1 828.5 1442.7 829.5 1433.4 830.5 1443.6 831.5 1438.8 832.5 1451.2 833.5 1458 834.5 1458.9 835.5 1437.5 836.5 1452.6 837.5 1449.9 838.5 1454.5 839.5 1446.6 840.5 1459.9 841.5 1443.6 842.5 1446.4 843.5 1445.5 844.5 1454.2 845.5 1460.9 846.5 1454.3 847.5 1440.6 848.5 1436.3 849.5 1448.7 850.5 1455 851.5 1456 852.5 1452 853.5 1444 854.5 1443.9 855.5 1446.3 856.5 1455.5 857.5 1440.2 858.5 1439.4 859.5 1447.4 860.5 1456.2 861.5 1434.9 862.5 1446 863.5 1446.9 864.5 1436.3 865.5 1436.4 866.5 1446.5 867.5 1453 868.5 1436.3 869.5 1446.9 870.5 1455.7 871.5 1459 872.5 1443.2 873.5 1456.8 874.5 1451.9 875.5 1459.2 876.5 1442 877.5 1454 878.5 1457.8 879.5 1449 880.5 1439.8 881.5 1442.3 882.5 1441.6 883.5 1449.4 884.5 1436.8 885.5 1453.2 886.5 1452.8 887.5 1454.9 888.5 1454.8 889.5 1452.7 890.5 1458.3 891.5 1465.7 892.5 1444.5 893.5 1444.9 894.5 1444.3 895.5 1448.3 896.5 1452.9 897.5 1455.4 898.5 1461.4 899.5 1463.2 900.5 1447 901.5 1455.2 902.5 1458.9 903.5 1454.8 904.5 1448.4 905.5 1460.3 906.5 1453.7 907.5 1465.3 908.5 1464.7 909.5 1442.7 910.5 1459.7 911.5 1458.6 912.5 1447.7 913.5 1443.1 914.5 1451.9 915.5 1448.6 916.5 1458 917.5 1462.4 918.5 1448.8 919.5 1446.4 920.5 1451.6 921.5 1456.5 922.5 1449.4 923.5 1450.5 924.5 1463.3 925.5 1455.2 926.5 1443.6 927.5 1453.1 928.5 1448.7 929.5 1459.6 930.5 1445 931.5 1450.2 932.5 1446.1 933.5 1455.9 934.5 1468.8 935.5 1458 936.5 1444.1 937.5 1450.9 938.5 1462.5 939.5 1442.5 940.5 1461.6 941.5 1451.6 942.5 1443 943.5 1449 944.5 1454.3 945.5 1452.6 946.5 1456.2 947.5 1444.9 948.5 1449.3 949.5 1468.5 950.5 1455.5 951.5 1456.4 952.5 1446.9 953.5 1451.9 954.5 1468.8 955.5 1462.1 956.5 1455.7 957.5 1465.3 958.5 1456.7 959.5 1460.6 960.5 1468.3 961.5 1461.9 962.5 1447.3 963.5 1466.1 964.5 1457.4 965.5 1469.1 966.5 1468 967.5 1470.4 968.5 1464.6 969.5 1468.1 970.5 1449.5 971.5 1465.3 972.5 1456.3 973.5 1470 974.5 1470.7 975.5 1451.4 976.5 1456.6 977.5 1452.9 978.5 1458 979.5 1453.6 980.5 1463.2 981.5 1449.7 982.5 1451 983.5 1458.4 984.5 1449 985.5 1456.9 986.5 1470.1 987.5 1470.1 988.5 1467.7 989.5 1471.3 990.5 1462.7 991.5 1451.5 992.5 1454.4 993.5 1472 994.5 1459.2 995.5 1465.8 996.5 1462.3 997.5 1475 998.5 1466 999.5 1476.5 1000.5 1476.6 1001.5 1470.3 1002.5 1455.4 1003.5 1455.9 1004.5 1469.2 1005.5 1462.5 1006.5 1462.3 1007.5 1465 1008.5 1467.5 1009.5 1477.1 1010.5 1458.9 1011.5 1467 1012.5 1459.4 1013.5 1458.9 1014.5 1467.5 1015.5 1473.1 1016.5 1455.5 1017.5 1474.5 1018.5 1465.6 1019.5 1467.5 1020.5 1470 1021.5 1474.4 1022.5 1455.7 1023.5 1466.6 1024.5 1454.8 1025.5 1463.2 1026.5 1461.9 1027.5 1453.5 1028.5 1460.2 1029.5 1474.9 1030.5 1460.8 1031.5 1464.5 1032.5 1468.8 1033.5 1474.2 1034.5 1474.3 1035.5 1475.1 1036.5 1457.8 1037.5 1454.2 1038.5 1473.3 1039.5 1452.1 1040.5 1461.9 1041.5 1469.7 1042.5 1465.2 1043.5 1462.4 1044.5 1470.4 1045.5 1478.1 1046.5 1461.4 1047.5 1467.3 1048.5 1471.5 1049.5 1473.1 1050.5 1464 1051.5 1470 1052.5 1459.9 1053.5 1460.5 1054.5 1478.2 1055.5 1460.4 1056.5 1460.6 1057.5 1473.1 1058.5 1471.8 1059.5 1459.7 1060.5 1473.7 1061.5 1468.4 1062.5 1459.1 1063.5 1459.4 1064.5 1474.5 1065.5 1463.4 1066.5 1474.7 1067.5 1456.5 1068.5 1455.4 1069.5 1453.1 1070.5 1470.1 1071.5 1465.4 1072.5 1451.5 1073.5 1452.2 1074.5 1471.5 1075.5 1463.1 1076.5 1472.3 1077.5 1450.9 1078.5 1465.8 1079.5 1462.9 1080.5 1462.8 1081.5 1453 1082.5 1471.5 1083.5 1451.3 1084.5 1450.9 1085.5 1467.2 1086.5 1453.2 1087.5 1453.4 1088.5 1464 1089.5 1469.6 1090.5 1476.6 1091.5 1476 1092.5 1481.8 1093.5 1464.6 1094.5 1481.3 1095.5 1469.7 1096.5 1471.5 1097.5 1464.9 1098.5 1488.4 1099.5 1478.2 1100.5 1471.1 1101.5 1473.3 1102.5 1475.1 1103.5 1492.7 1104.5 1474.7 1105.5 1471.9 1106.5 1478.6 1107.5 1471.7 1108.5 1480.3 1109.5 1485.2 1110.5 1485.8 1111.5 1477.7 1112.5 1482.4 1113.5 1476.3 1114.5 1479.3 1115.5 1487.7 1116.5 1468.3 1117.5 1471.3 1118.5 1476.8 1119.5 1480.7 1120.5 1483.2 1121.5 1477 1122.5 1486 1123.5 1487.1 1124.5 1473 1125.5 1467.8 1126.5 1471.1 1127.5 1473.1 1128.5 1485.9 1129.5 1469.8 1130.5 1478.5 1131.5 1478.4 1132.5 1485.9 1133.5 1464.6 1134.5 1480.6 1135.5 1469.4 1136.5 1463.3 1137.5 1476.3 1138.5 1463.6 1139.5 1487.1 1140.5 1473 1141.5 1479.9 1142.5 1482.6 1143.5 1471.6 1144.5 1475.9 1145.5 1474.5 1146.5 1469.2 1147.5 1468.9 1148.5 1485.8 1149.5 1478.6 1150.5 1490.5 1151.5 1470.8 1152.5 1489.4 1153.5 1486 1154.5 1489 1155.5 1479.7 1156.5 1469.9 1157.5 1478.1 1158.5 1473.6 1159.5 1469 1160.5 1473.1 1161.5 1483.5 1162.5 1493.8 1163.5 1493.7 1164.5 1481.3 1165.5 1471.9 1166.5 1488.2 1167.5 1471.5 1168.5 1481.7 1169.5 1470 1170.5 1481.5 1171.5 1477.1 1172.5 1483.8 1173.5 1494.1 1174.5 1480.2 1175.5 1474.6 1176.5 1482 1177.5 1492 1178.5 1478.5 1179.5 1484.8 1180.5 1491.8 1181.5 1477 1182.5 1489.2 1183.5 1482.2 1184.5 1486.6 1185.5 1474.8 1186.5 1474.4 1187.5 1486.3 1188.5 1477.8 1189.5 1476.1 1190.5 1471.1 1191.5 1476.5 1192.5 1483.8 1193.5 1479.9 1194.5 1468.2 1195.5 1470 1196.5 1482.6 1197.5 1483.7 1198.5 1468.2 1199.5 1490.8 1200.5 1469.3 1201.5 1470.2 1202.5 1468.3 1203.5 1477.3 1204.5 1481.6 1205.5 1487.5 1206.5 1470.1 1207.5 1483.3 1208.5 1475 1209.5 1477.4 1210.5 1469.7 1211.5 1486.2 1212.5 1471.1 1213.5 1486.9 1214.5 1481.1 1215.5 1477.2 1216.5 1486.6 1217.5 1487.6 1218.5 1471.5 1219.5 1472.7 1220.5 1486.2 1221.5 1467.5 1222.5 1474.6 1223.5 1474.5 1224.5 1488.5 1225.5 1467.4 1226.5 1480.6 1227.5 1483.3 1228.5 1490.8 1229.5 1475.2 1230.5 1488.8 1231.5 1484.2 1232.5 1478.3 1233.5 1488.9 1234.5 1486 1235.5 1480.5 1236.5 1485.8 1237.5 1483.5 1238.5 1488.2 1239.5 1472.4 1240.5 1480.9 1241.5 1468.7 1242.5 1488.3 1243.5 1487.8 1244.5 1489.3 1245.5 1475.8 1246.5 1466.7 1247.5 1468.7 1248.5 1487.9 1249.5 1484.7 1250.5 1469.3 1251.5 1483.9 1252.5 1479.4 1253.5 1472.6 1254.5 1479 1255.5 1468.5 1256.5 1469.5 1257.5 1462.8 1258.5 1479 1259.5 1479 1260.5 1477.4 1261.5 1474.3 1262.5 1485.2 1263.5 1476.4 1264.5 1482.2 1265.5 1486.4 1266.5 1478.8 1267.5 1485 1268.5 1469.6 1269.5 1474.7 1270.5 1489.4 1271.5 1472.3 1272.5 1470.2 1273.5 1469.2 1274.5 1488.1 1275.5 1471.7 1276.5 1488.4 1277.5 1480.3 1278.5 1481.5 1279.5 1469.1 1280.5 1488.4 1281.5 1487.7 1282.5 1484.2 1283.5 1489.5 1284.5 1484 1285.5 1486.5 1286.5 1489.9 1287.5 1484.1 1288.5 1490.3 1289.5 1470.6 1290.5 1467.3 1291.5 1474.1 1292.5 1468.2 1293.5 1474.9 1294.5 1468 1295.5 1471.3 1296.5 1465.9 1297.5 1476.7 1298.5 1473.5 1299.5 1484.3 1300.5 1475.9 1301.5 1470.5 1302.5 1490.3 1303.5 1488.9 1304.5 1484 1305.5 1472.3 1306.5 1477.1 1307.5 1470.9 1308.5 1481.8 1309.5 1489.7 1310.5 1488.1 1311.5 1492.4 1312.5 1488.2 1313.5 1490.4 1314.5 1493.3 1315.5 1494.6 1316.5 1491.7 1317.5 1482.5 1318.5 1488.8 1319.5 1491.8 1320.5 1485.2 1321.5 1479 1322.5 1482.5 1323.5 1480.7 1324.5 1491.5 1325.5 1493.8 1326.5 1479.4 1327.5 1488 1328.5 1495.7 1329.5 1483.9 1330.5 1477.1 1331.5 1489.9 1332.5 1483.8 1333.5 1478.2 1334.5 1481.7 1335.5 1474.6 1336.5 1478 1337.5 1484.8 1338.5 1483.9 1339.5 1494 1340.5 1490.8 1341.5 1478 1342.5 1492.9 1343.5 1471.7 1344.5 1471.5 1345.5 1485.1 1346.5 1489 1347.5 1482.1 1348.5 1490.2 1349.5 1481.4 1350.5 1488.8 1351.5 1479.6 1352.5 1485.9 1353.5 1486.1 1354.5 1495.6 1355.5 1480.7 1356.5 1482.2 1357.5 1495.3 1358.5 1476.6 1359.5 1488.4 1360.5 1480.6 1361.5 1492 1362.5 1490.6 1363.5 1478.6 1364.5 1495 1365.5 1495.2 1366.5 1493.8 1367.5 1482.7 1368.5 1492.4 1369.5 1479 1370.5 1489.3 1371.5 1478.7 1372.5 1492.8 1373.5 1499.7 1374.5 1492.8 1375.5 1486.1 1376.5 1485.4 1377.5 1478.1 1378.5 1481.3 1379.5 1485.5 1380.5 1476 1381.5 1491 1382.5 1480.2 1383.5 1481.3 1384.5 1476.3 1385.5 1481.5 1386.5 1497.2 1387.5 1481.1 1388.5 1497.8 1389.5 1476.3 1390.5 1482.6 1391.5 1479.2 1392.5 1491 1393.5 1485.4 1394.5 1476.3 1395.5 1495.4 1396.5 1482.1 1397.5 1491.1 1398.5 1485.3 1399.5 1485.2 1400.5 1486.7 1401.5 1486.2 1402.5 1500.2 1403.5 1492.4 1404.5 1489 1405.5 1492.6 1406.5 1490.5 1407.5 1496.5 1408.5 1496.3 1409.5 1491.9 1410.5 1493.2 1411.5 1486.4 1412.5 1494.5 1413.5 1505.7 1414.5 1491.4 1415.5 1492.9 1416.5 1498.8 1417.5 1498.4 1418.5 1487.9 1419.5 1494.5 1420.5 1501.5 1421.5 1484 1422.5 1485.4 1423.5 1485.9 1424.5 1486 1425.5 1499.4 1426.5 1490.6 1427.5 1499.8 1428.5 1484 1429.5 1494.4 1430.5 1487 1431.5 1491.2 1432.5 1500.2 1433.5 1495.6 1434.5 1504.3 1435.5 1504.1 1436.5 1498.7 1437.5 1504.5 1438.5 1487.9 1439.5 1495.6 1440.5 1492 1441.5 1499.9 1442.5 1489.3 1443.5 1499.9 1444.5 1504.1 1445.5 1504.2 1446.5 1490.7 1447.5 1502.5 1448.5 1506.2 1449.5 1484.6 1450.5 1500.2 1451.5 1499.8 1452.5 1493.1 1453.5 1488.7 1454.5 1486.2 1455.5 1492.2 1456.5 1505.3 1457.5 1492.2 1458.5 1488.6 1459.5 1497.7 1460.5 1493.2 1461.5 1493.1 1462.5 1486.8 1463.5 1506.5 1464.5 1502.6 1465.5 1492.2 1466.5 1498.7 1467.5 1500.8 1468.5 1499 1469.5 1509 1470.5 1506 1471.5 1494.3 1472.5 1495.2 1473.5 1510.2 1474.5 1488.1 1475.5 1499.6 1476.5 1494 1477.5 1500.4 1478.5 1488.4 1479.5 1492.8 1480.5 1511.9 1481.5 1499.7 1482.5 1488.9 1483.5 1491 1484.5 1492.5 1485.5 1512.2 1486.5 1495.2 1487.5 1493.4 1488.5 1488.7 1489.5 1489.7 1490.5 1511.3 1491.5 1509.2 1492.5 1507.8 1493.5 1494.6 1494.5 1492.6 1495.5 1495.1 1496.5 1490.1 1497.5 1492.9 1498.5 1506.5 1499.5 1500.9 1500.5 1488.9 1501.5 1496.3 1502.5 1510 1503.5 1510 1504.5 1507.1 1505.5 1507.2 1506.5 1511.7 1507.5 1500.2 1508.5 1493 1509.5 1486.9 1510.5 1492.5 1511.5 1497.5 1512.5 1489.1 1513.5 1488.2 1514.5 1492.3 1515.5 1495.3 1516.5 1510 1517.5 1498.3 1518.5 1502.8 1519.5 1496.1 1520.5 1497.8 1521.5 1495.9 1522.5 1503.9 1523.5 1509.4 1524.5 1507.9 1525.5 1495.7 1526.5 1492.3 1527.5 1489.1 1528.5 1503.9 1529.5 1495.3 1530.5 1490.2 1531.5 1498 1532.5 1496.6 1533.5 1496.5 1534.5 1508.4 1535.5 1508.6 1536.5 1495.9 1537.5 1514.1 1538.5 1494.3 1539.5 1506.3 1540.5 1509.2 1541.5 1510 1542.5 1503.8 1543.5 1513.4 1544.5 1507.3 1545.5 1496.9 1546.5 1503.8 1547.5 1505.7 1548.5 1494.3 1549.5 1510.4 1550.5 1500.4 1551.5 1503.5 1552.5 1498 1553.5 1504.4 1554.5 1505.5 1555.5 1506.7 1556.5 1498.1 1557.5 1497.3 1558.5 1502 1559.5 1505.3 1560.5 1506.4 1561.5 1493.8 1562.5 1501.8 1563.5 1504.8 1564.5 1495.9 1565.5 1493.7 1566.5 1514.6 1567.5 1492 1568.5 1504.1 1569.5 1499.2 1570.5 1492.6 1571.5 1498.7 1572.5 1511.7 1573.5 1491.1 1574.5 1498.1 1575.5 1506.8 1576.5 1505.2 1577.5 1490.3 1578.5 1495.7 1579.5 1497.2 1580.5 1502.9 1581.5 1508.6 1582.5 1509 1583.5 1500.8 1584.5 1513.9 1585.5 1515.4 1586.5 1509.5 1587.5 1511.1 1588.5 1517 1589.5 1521.7 1590.5 1513.2 1591.5 1499 1592.5 1503.5 1593.5 1512.3 1594.5 1504.4 1595.5 1510.4 1596.5 1510.2 1597.5 1511.5 1598.5 1517.8 1599.5 1512.2 1600.5 1512.1 1601.5 1511.9 1602.5 1499.9 1603.5 1509.5 1604.5 1509.6 1605.5 1495.6 1606.5 1512.9 1607.5 1505.2 1608.5 1510.2 1609.5 1511.4 1610.5 1504 1611.5 1515.9 1612.5 1503.6 1613.5 1506.8 1614.5 1517.5 1615.5 1500.9 1616.5 1510.8 1617.5 1516.9 1618.5 1495.3 1619.5 1512.7 1620.5 1516.1 1621.5 1518 1622.5 1500.2 1623.5 1508.8 1624.5 1512.2 1625.5 1514.3 1626.5 1520.9 1627.5 1517.1 1628.5 1517.8 1629.5 1498.8 1630.5 1508 1631.5 1520.3 1632.5 1521.2 1633.5 1516.6 1634.5 1508.9 1635.5 1512.4 1636.5 1511.8 1637.5 1517.6 1638.5 1514 1639.5 1520.5 1640.5 1508.6 1641.5 1508.6 1642.5 1512.7 1643.5 1510.2 1644.5 1497.4 1645.5 1520.1 1646.5 1504.1 1647.5 1508.5 1648.5 1497.1 1649.5 1500.7 1650.5 1519.1 1651.5 1515.7 1652.5 1501.4 1653.5 1512 1654.5 1509.4 1655.5 1517.5 1656.5 1507 1657.5 1503.4 1658.5 1501.7 1659.5 1504.5 1660.5 1495.6 1661.5 1502.7 1662.5 1514.3 1663.5 1518.9 1664.5 1504.5 1665.5 1502.3 1666.5 1503.6 1667.5 1512.3 1668.5 1508.8 1669.5 1503.8 1670.5 1500.8 1671.5 1516.9 1672.5 1500 1673.5 1508.3 1674.5 1516.4 1675.5 1510.7 1676.5 1518.9 1677.5 1504.9 1678.5 1520.5 1679.5 1497.9 1680.5 1519 1681.5 1507.2 1682.5 1520.4 1683.5 1513.5 1684.5 1513.9 1685.5 1515.7 1686.5 1495.4 1687.5 1502.9 1688.5 1506.7 1689.5 1517.8 1690.5 1517.7 1691.5 1509.8 1692.5 1503.5 1693.5 1497.9 1694.5 1506.4 1695.5 1508.7 1696.5 1507 1697.5 1503.3 1698.5 1519.2 1699.5 1507.3 1700.5 1503.1 1701.5 1514.8 1702.5 1501.4 1703.5 1505.7 1704.5 1497.5 1705.5 1500.6 1706.5 1519.4 1707.5 1509.7 1708.5 1506.9 1709.5 1510.3 1710.5 1510 1711.5 1499.1 1712.5 1495.9 1713.5 1497.8 1714.5 1504.6 1715.5 1494.5 1716.5 1510.9 1717.5 1502.3 1718.5 1499.5 1719.5 1501.4 1720.5 1506 1721.5 1499 1722.5 1497.9 1723.5 1498.5 1724.5 1518.7 1725.5 1511 1726.5 1504 1727.5 1514.6 1728.5 1498.1 1729.5 1519.3 1730.5 1520.6 1731.5 1513.9 1732.5 1498.6 1733.5 1508.1 1734.5 1518.5 1735.5 1501.8 1736.5 1497.6 1737.5 1509.2 1738.5 1500.8 1739.5 1507.5 1740.5 1518.9 1741.5 1519.1 1742.5 1509 1743.5 1516.4 1744.5 1515.4 1745.5 1505.9 1746.5 1516.1 1747.5 1501.5 1748.5 1518.6 1749.5 1502.3 1750.5 1517.4 1751.5 1515.3 1752.5 1517.8 1753.5 1512.6 1754.5 1496.5 1755.5 1501.8 1756.5 1511.4 1757.5 1517.9 1758.5 1512.4 1759.5 1496.5 1760.5 1504.5 1761.5 1504.6 1762.5 1500.5 1763.5 1502 1764.5 1506 1765.5 1509.8 1766.5 1523.4 1767.5 1514.8 1768.5 1518.9 1769.5 1523.6 1770.5 1501.2 1771.5 1522.7 1772.5 1503.3 1773.5 1506 1774.5 1519.8 1775.5 1515.1 1776.5 1521.6 1777.5 1514.5 1778.5 1509 1779.5 1510 1780.5 1507.6 1781.5 1506.1 1782.5 1529.4 1783.5 1529.7 1784.5 1515.1 1785.5 1517.1 1786.5 1514.2 1787.5 1527.2 1788.5 1520.4 1789.5 1512.8 1790.5 1511.1 1791.5 1521.8 1792.5 1516.3 1793.5 1527.1 1794.5 1520.5 1795.5 1519.4 1796.5 1519.8 1797.5 1527.8 1798.5 1525.5 1799.5 1525.4 1800.5 1530.3 1801.5 1525.1 1802.5 1536.9 1803.5 1524.2 1804.5 1533 1805.5 1536.3 1806.5 1528.5 1807.5 1527.5 1808.5 1532.3 1809.5 1521.6 1810.5 1514.9 1811.5 1511.3 1812.5 1527.7 1813.5 1518.4 1814.5 1516.3 1815.5 1510.3 1816.5 1510 1817.5 1519.8 1818.5 1525.5 1819.5 1531.1 1820.5 1525.7 1821.5 1513.5 1822.5 1532.6 1823.5 1512.4 1824.5 1522.2 1825.5 1523.7 1826.5 1514.7 1827.5 1529.7 1828.5 1510.3 1829.5 1527.5 1830.5 1513.6 1831.5 1521.6 1832.5 1524.3 1833.5 1513.6 1834.5 1511.9 1835.5 1513.2 1836.5 1529.1 1837.5 1520.8 1838.5 1515.9 1839.5 1518 1840.5 1520.2 1841.5 1510.2 1842.5 1505.5 1843.5 1506.3 1844.5 1528 1845.5 1519.2 1846.5 1525.3 1847.5 1529.1 1848.5 1517.6 1849.5 1516.5 1850.5 1518.5 1851.5 1516.8 1852.5 1527.2 1853.5 1523.3 1854.5 1512.6 1855.5 1534 1856.5 1523.7 1857.5 1529.7 1858.5 1525.4 1859.5 1514.1 1860.5 1514.8 1861.5 1530 1862.5 1520.7 1863.5 1515.3 1864.5 1532.7 1865.5 1531.1 1866.5 1531.7 1867.5 1522.4 1868.5 1516.2 1869.5 1532 1870.5 1518.5 1871.5 1529.9 1872.5 1514.4 1873.5 1529.2 1874.5 1534.4 1875.5 1529.4 1876.5 1539.5 1877.5 1520.7 1878.5 1533.4 1879.5 1526.1 1880.5 1529.5 1881.5 1522.3 1882.5 1526.5 1883.5 1533.9 1884.5 1526.1 1885.5 1523.3 1886.5 1527 1887.5 1526.4 1888.5 1520.8 1889.5 1517.2 1890.5 1527.6 1891.5 1520.2 1892.5 1511.4 1893.5 1514.8 1894.5 1519.5 1895.5 1527.8 1896.5 1534 1897.5 1521.8 1898.5 1522.5 1899.5 1532.6 1900.5 1530.8 1901.5 1524.5 1902.5 1536.1 1903.5 1514.6 1904.5 1527.6 1905.5 1535.9 1906.5 1536.6 1907.5 1519.7 1908.5 1535.2 1909.5 1522.5 1910.5 1531 1911.5 1530.6 1912.5 1539.4 1913.5 1523.2 1914.5 1524.6 1915.5 1518 1916.5 1532.1 1917.5 1516.8 1918.5 1536.3 1919.5 1518.8 1920.5 1520 1921.5 1539.1 1922.5 1527.8 1923.5 1534.3 1924.5 1524.1 1925.5 1521.6 1926.5 1524.8 1927.5 1540.2 1928.5 1520.5 1929.5 1535.4 1930.5 1525.1 1931.5 1536.8 1932.5 1541.3 1933.5 1533.6 1934.5 1524.4 1935.5 1534.2 1936.5 1543 1937.5 1533.9 1938.5 1522.9 1939.5 1524.3 1940.5 1535 1941.5 1520.5 1942.5 1519.3 1943.5 1528.6 1944.5 1525.7 1945.5 1531.6 1946.5 1521.1 1947.5 1533.2 1948.5 1532.1 1949.5 1530.7 1950.5 1537.3 1951.5 1531.9 1952.5 1533.5 1953.5 1531.6 1954.5 1538.1 1955.5 1520 1956.5 1520.5 1957.5 1539.3 1958.5 1541.2 1959.5 1534.1 1960.5 1540.2 1961.5 1536.3 1962.5 1528.1 1963.5 1521.5 1964.5 1529.9 1965.5 1524.8 1966.5 1527.1 1967.5 1541.3 1968.5 1529.4 1969.5 1523 1970.5 1542.4 1971.5 1542.1 1972.5 1522 1973.5 1522.4 1974.5 1535.7 1975.5 1527 1976.5 1529.1 1977.5 1534.3 1978.5 1524 1979.5 1531.9 1980.5 1526.7 1981.5 1523.7 1982.5 1535.3 1983.5 1516.5 1984.5 1535.8 1985.5 1519.4 1986.5 1521.5 1987.5 1515.7 1988.5 1521 1989.5 1539.6 1990.5 1543.3 1991.5 1536.5 1992.5 1523.9 1993.5 1530.3 1994.5 1524 1995.5 1526.2 1996.5 1528.6 1997.5 1524.6 1998.5 1537.6 1999.5 1533.8 2000.5 1519.6 2001.5 1519 2002.5 1527.2 2003.5 1518.2 2004.5 1529.4 2005.5 1522.8 2006.5 1535.7 2007.5 1523 2008.5 1537.7 2009.5 1526.5 2010.5 1544 2011.5 1532.4 2012.5 1542.6 2013.5 1532 2014.5 1533.7 2015.5 1526.5 2016.5 1538.8 2017.5 1528.9 2018.5 1541.7 2019.5 1537.1 2020.5 1530.1 2021.5 1520 2022.5 1525.8 2023.5 1529.5 2024.5 1528.3 2025.5 1533.6 2026.5 1519.2 2027.5 1530.8 2028.5 1536 2029.5 1536 2030.5 1534 2031.5 1544 2032.5 1538.9 2033.5 1530.8 2034.5 1531.9 2035.5 1543.1 2036.5 1533.6 2037.5 1534.9 2038.5 1527.9 2039.5 1537 2040.5 1532.8 2041.5 1544.3 2042.5 1545.9 2043.5 1546 2044.5 1545.1 2045.5 1522.6 2046.5 1523.5 2047.5 1530.4 2048.5 1528 2049.5 1524.3 2050.5 1528.2 2051.5 1525.2 2052.5 1525.8 2053.5 1540.9 2054.5 1527.2 2055.5 1526.6 2056.5 1538 2057.5 1525.9 2058.5 1543.4 2059.5 1538.8 2060.5 1544.4 2061.5 1540.5 2062.5 1532 2063.5 1530.8 2064.5 1530.9 2065.5 1543.6 2066.5 1531.5 2067.5 1540.3 2068.5 1535.8 2069.5 1521.9 2070.5 1524.8 2071.5 1533.8 2072.5 1525.8 2073.5 1528.8 2074.5 1530.7 2075.5 1529.7 2076.5 1542.2 2077.5 1534.3 2078.5 1526.1 2079.5 1527.8 2080.5 1531.9 2081.5 1516.5 2082.5 1531.4 2083.5 1536.8 2084.5 1537.7 2085.5 1530.3 2086.5 1525.1 2087.5 1529.6 2088.5 1529.7 2089.5 1520.3 2090.5 1529.6 2091.5 1528.7 2092.5 1537.5 2093.5 1532.8 2094.5 1525.1 2095.5 1522.9 2096.5 1532.8 2097.5 1530.9 2098.5 1524.6 2099.5 1529 2100.5 1527.4 2101.5 1532.9 2102.5 1539.3 2103.5 1526.7 2104.5 1536.5 2105.5 1526 2106.5 1526.2 2107.5 1543.2 2108.5 1523.9 2109.5 1537.4 2110.5 1527 2111.5 1532.9 2112.5 1532.1 2113.5 1526.9 2114.5 1525.4 2115.5 1545.1 2116.5 1522.2 2117.5 1524.9 2118.5 1527.7 2119.5 1542.4 2120.5 1547.7 2121.5 1528.5 2122.5 1541.1 2123.5 1533.4 2124.5 1548.6 2125.5 1538.7 2126.5 1546.3 2127.5 1540.6 2128.5 1527.5 2129.5 1526.1 2130.5 1524.6 2131.5 1547.4 2132.5 1545.9 2133.5 1539.2 2134.5 1524.7 2135.5 1540.9 2136.5 1548.2 2137.5 1543.3 2138.5 1541.8 2139.5 1535.1 2140.5 1540 2141.5 1547.6 2142.5 1537.1 2143.5 1526.6 2144.5 1528.5 2145.5 1552 2146.5 1532.4 2147.5 1531.5 2148.5 1546.1 2149.5 1539.8 2150.5 1540.8 2151.5 1535.1 2152.5 1548.4 2153.5 1548.8 2154.5 1547.3 2155.5 1539.8 2156.5 1541.2 2157.5 1538.7 2158.5 1540.3 2159.5 1536.7 2160.5 1540.1 2161.5 1531.7 2162.5 1545 2163.5 1548.5 2164.5 1536.5 2165.5 1550 2166.5 1551.2 2167.5 1529.3 2168.5 1543.1 2169.5 1536.8 2170.5 1538.9 2171.5 1540.9 2172.5 1548.6 2173.5 1542.8 2174.5 1549.2 2175.5 1533.2 2176.5 1547 2177.5 1536.9 2178.5 1531.7 2179.5 1531.7 2180.5 1548.5 2181.5 1538.6 2182.5 1543.3 2183.5 1551.3 2184.5 1535 2185.5 1540.5 2186.5 1540.8 2187.5 1534.4 2188.5 1540.8 2189.5 1551.8 2190.5 1545.2 2191.5 1534.5 2192.5 1545.1 2193.5 1543.6 2194.5 1536.3 2195.5 1546.5 2196.5 1536.7 2197.5 1547.6 2198.5 1534.5 2199.5 1531.5 2200.5 1535.5 2201.5 1530.5 2202.5 1549.3 2203.5 1552.3 2204.5 1548.1 2205.5 1547.3 2206.5 1532.2 2207.5 1533.7 2208.5 1538.5 2209.5 1529.3 2210.5 1531.3 2211.5 1535.9 2212.5 1528.9 2213.5 1531.5 2214.5 1546.9 2215.5 1548 2216.5 1540.7 2217.5 1530.9 2218.5 1543 2219.5 1532.5 2220.5 1545.9 2221.5 1534.8 2222.5 1541.6 2223.5 1543.1 2224.5 1542.1 2225.5 1543.5 2226.5 1533.4 2227.5 1528.8 2228.5 1527.6 2229.5 1533.9 2230.5 1534.7 2231.5 1538.2 2232.5 1549.1 2233.5 1531.9 2234.5 1530.4 2235.5 1528.5 2236.5 1536.7 2237.5 1546.7 2238.5 1540.1 2239.5 1545.1 2240.5 1542 2241.5 1538.5 2242.5 1539.8 2243.5 1530.9 2244.5 1553.9 2245.5 1548.5 2246.5 1532.8 2247.5 1535.6 2248.5 1552.2 2249.5 1552.4 2250.5 1537.3 2251.5 1554.3 2252.5 1538.8 2253.5 1537.2 2254.5 1552.5 2255.5 1554.3 2256.5 1541.5 2257.5 1543.6 2258.5 1552.4 2259.5 1541.5 2260.5 1545.3 2261.5 1559.3 2262.5 1558 2263.5 1560.8 2264.5 1542.1 2265.5 1541 2266.5 1547.1 2267.5 1540.5 2268.5 1556.9 2269.5 1548.2 2270.5 1548.4 2271.5 1559.9 2272.5 1539.2 2273.5 1541.7 2274.5 1557.5 2275.5 1550.9 2276.5 1555.7 2277.5 1561 2277.6 1542.4"/>
<path fill="#008000" d="M364.5 1299.8L389.5 1342.8L339.5 1342.8ZM444.2 1363.0L469.2 1406.0L419.2 1406.0ZM523.9 1382.9L548.9 1425.9L498.9 1425.9ZM603.6 1396.9L628.6 1439.9L578.6 1439.9ZM683.4 1396.0L708.4 1439.0L658.4 1439.0ZM763.1 1410.7L788.1 1453.7L738.1 1453.7ZM842.8 1429.3L867.8 1472.3L817.8 1472.3ZM922.5 1425.1L947.5 1468.1L897.5 1468.1ZM1002.2 1441.8L1027.2 1484.8L977.2 1484.8ZM1081.9 1431.5L1106.9 1474.5L1056.9 1474.5ZM1161.6 1459.8L1186.6 1502.8L1136.6 1502.8ZM1241.4 1456.9L1266.4 1499.9L1216.4 1499.9ZM1321.1 1456.9L1346.1 1499.9L1296.1 1499.9ZM1400.8 1463.1L1425.8 1506.1L1375.8 1506.1ZM1480.5 1471.0L1505.5 1514.0L1455.5 1514.0ZM1560.2 1468.7L1585.2 1511.7L1535.2 1511.7ZM1639.9 1485.8L1664.9 1528.8L1614.9 1528.8ZM1719.6 1475.7L1744.6 1518.7L1694.6 1518.7ZM1799.4 1494.0L1824.4 1537.0L1774.4 1537.0ZM1879.1 1501.3L1904.1 1544.3L1854.1 1544.3ZM1958.8 1501.8L1983.8 1544.8L1933.8 1544.8ZM2038.5 1501.9L2063.5 1544.9L2013.5 1544.9ZM2118.2 1503.8L2143.2 1546.8L2093.2 1546.8ZM2197.9 1507.0L2222.9 1550.0L2172.9 1550.0Z"/>
<path fill="none" stroke="#000080" stroke-width="9" stroke-linejoin="round" stroke-linecap="round" d="M364.5 1142.2 365.5 1283 366.5 1289.9 367.5 1285.6 368.5 1294.4 369.5 1294.4 370.5 1298.8 371.5 1295.1 372.5 1295.3 373.5 1297.2 374.5 1287 375.5 1290 376.5 1285.8 377.5 1297.9 378.5 1283.8 379.5 1296.9 380.5 1297 381.5 1282.7 382.5 1283.8 383.5 1281.7 384.5 1282.5 385.5 1281.3 386.5 1293.3 387.5 1281.6 388.5 1288.4 389.5 1282.7 390.5 1279.8 391.5 1283.2 392.5 1278.5 393.5 1288.9 394.5 1278.7 395.5 1280.8 396.5 1279.4 397.5 1279.6 398.5 1276.7 399.5 1281.5 400.5 1270.9 401.5 1275.1 402.5 1280.9 403.5 1277.8 404.5 1283.7 405.5 1282 406.5 1277.9 407.5 1277 408.5 1283 409.5 1278.1 410.5 1280.6 411.5 1282.2 412.5 1276.9 413.5 1282.3 414.5 1282.9 415.5 1271.5 416.5 1282.8 417.5 1281.8 418.5 1281.3 419.5 1273.2 420.5 1271.7 421.5 1280.5 422.5 1272.8 423.5 1267.1 424.5 1271.2 425.5 1267.5 426.5 1275.2 427.5 1277.1 428.5 1279.2 429.5 1266.3 430.5 1270.3 431.5 1266.2 432.5 1274.8 433.5 1280.9 434.5 1274 435.5 1277.5 436.5 1272.7 437.5 1270.5 438.5 1279.5 439.5 1276.8 440.5 1272.7 441.5 1276.4 442.5 1272.8 443.5 1274.6 444.5 1263.4 445.5 1264.3 446.5 1263.9 447.5 1271.3 448.5 1273.2 449.5 1264.9 450.5 1271.5 451.5 1273.2 452.5 1263.2 453.5 1277 454.5 1272.7 455.5 1265 456.5 1268.8 457.5 1276.3 458.5 1265.5 459.5 1265.9 460.5 1272.8 461.5 1276.3 462.5 1274.6 463.5 1270.3 464.5 1265 465.5 1272.4 466.5 1269.8 467.5 1274.9 468.5 1271.8 469.5 1274.7 470.5 1278.7 471.5 1273.9 472.5 1278.7 473.5 1279.2 474.5 1267 475.5 1282 476.5 1274.6 477.5 1269.4 478.5 1273.1 479.5 1280.7 480.5 1273.3 481.5 1284.7 482.5 1277.9 483.5 1283.9 484.5 1272.8 485.5 1279.8 486.5 1276 487.5 1274.2 488.5 1267.7 489.5 1274.7 490.5 1273.2 491.5 1266.2 492.5 1280.4 493.5 1279.7 494.5 1275.1 495.5 1272.1 496.5 1266 497.5 1274.2 498.5 1277.4 499.5 1275.8 500.5 1269.8 501.5 1267.4 502.5 1272 503.5 1269.2 504.5 1272.3 505.5 1277.7 506.5 1271.4 507.5 1279.4 508.5 1275.4 509.5 1265.3 510.5 1275.8 511.5 1274.6 512.5 1274 513.5 1271.6 514.5 1272.2 515.5 1266.7 516.5 1264.7 517.5 1264.4 518.5 1267.3 519.5 1268.7 520.5 1266.5 521.5 1265.1 522.5 1275.1 523.5 1274.8 524.5 1277.6 525.5 1267.8 526.5 1275.6 527.5 1273.8 528.5 1266.4 529.5 1278.3 530.5 1270.7 531.5 1268.2 532.5 1269.6 533.5 1272.2 534.5 1274.8 535.5 1272 536.5 1276.1 537.5 1267 538.5 1271.4 539.5 1272.7 540.5 1272.2 541.5 1271 542.5 1264.9 543.5 1269.6 544.5 1274 545.5 1266.2 546.5 1268.6 547.5 1271.6 548.5 1263.1 549.5 1263.8 550.5 1274.9 551.5 1267 552.5 1277.1 553.5 1271.1 554.5 1277.2 555.5 1267.1 556.5 1269.7 557.5 1276.1 558.5 1272 559.5 1277.9 560.5 1276.2 561.5 1270.3 562.5 1271.2 563.5 1273 564.5 1274.4 565.5 1270.5 566.5 1274.2 567.5 1274.5 568.5 1275 569.5 1277.4 570.5 1280.5 571.5 1277.6 572.5 1277.1 573.5 1269.5 574.5 1272.1 575.5 1275.2 576.5 1277.5 577.5 1264.1 578.5 1271.3 579.5 1277.2 580.5 1267.3 581.5 1277.7 582.5 1276.7 583.5 1272.3 584.5 1283.7 585.5 1274.8 586.5 1275.2 587.5 1279.8 588.5 1281.3 589.5 1275.2 590.5 1278.6 591.5 1277.5 592.5 1277.4 593.5 1277.4 594.5 1276.8 595.5 1280.3 596.5 1282.4 597.5 1284.1 598.5 1288.5 599.5 1287.4 600.5 1285.5 601.5 1282.7 602.5 1279.1 603.5 1277.6 604.5 1285.3 605.5 1276.7 606.5 1277.3 607.5 1278.4 608.5 1280.9 609.5 1281.5 610.5 1274 611.5 1284.4 612.5 1281.4 613.5 1276.4 614.5 1276.3 615.5 1279.2 616.5 1272.6 617.5 1280.8 618.5 1285 619.5 1277.1 620.5 1279.3 621.5 1275.7 622.5 1285.8 623.5 1278 624.5 1277.2 625.5 1285.3 626.5 1278.1 627.5 1280.8 628.5 1276.7 629.5 1281 630.5 1279.3 631.5 1273.8 632.5 1285.7 633.5 1275 634.5 1281.5 635.5 1283.4 636.5 1280.7 637.5 1279.1 638.5 1281.5 639.5 1290.2 640.5 1283.4 641.5 1282.1 642.5 1284.9 643.5 1285.4 644.5 1288.7 645.5 1291.3 646.5 1284.7 647.5 1282.8 648.5 1283.6 649.5 1292.4 650.5 1286.4 651.5 1280.6 652.5 1288.7 653.5 1281.9 654.5 1285.6 655.5 1290.3 656.5 1289.7 657.5 1288.3 658.5 1292.4 659.5 1294.3 660.5 1285.9 661.5 1293.5 662.5 1287.2 663.5 1295.9 664.5 1291.1 665.5 1288.2 666.5 1284.7 667.5 1295 668.5 1287.7 669.5 1282.9 670.5 1295 671.5 1283.3 672.5 1284.1 673.5 1284.1 674.5 1293.6 675.5 1292.5 676.5 1291.6 677.5 1298.5 678.5 1291.7 679.5 1284.8 680.5 1283.9 681.5 1286.5 682.5 1297.7 683.5 1289 684.5 1287.6 685.5 1287.2 686.5 1286.6 687.5 1291.7 688.5 1289.2 689.5 1283 690.5 1280.9 691.5 1289.5 692.5 1284.9 693.5 1283.3 694.5 1278.2 695.5 1289.3 696.5 1282.1 697.5 1287.5 698.5 1283.6 699.5 1288.8 700.5 1287.9 701.5 1276.4 702.5 1276.9 703.5 1286.4 704.5 1287 705.5 1277.5 706.5 1285.4 707.5 1284.9 708.5 1283.3 709.5 1289 710.5 1286 711.5 1291.1 712.5 1291.2 713.5 1280 714.5 1285 715.5 1288.5 716.5 1285.1 717.5 1289.9 718.5 1281.6 719.5 1283 720.5 1289.4 721.5 1285.2 722.5 1285.3 723.5 1288.7 724.5 1291.7 725.5 1292.6 726.5 1292.3 727.5 1299.7 728.5 1300.4 729.5 1301.8 730.5 1303.3 731.5 1299.7 732.5 1292.8 733.5 1300.3 734.5 1293.8 735.5 1293.6 736.5 1294.4 737.5 1288.1 738.5 1293.3 739.5 1290.3 740.5 1294.1 741.5 1291.6 742.5 1285.6 743.5 1290.9 744.5 1285.4 745.5 1284.2 746.5 1284.7 747.5 1282.8 748.5 1287.3 749.5 1288.2 750.5 1287.6 751.5 1286.1 752.5 1288.2 753.5 1279.1 754.5 1280.1 755.5 1287.4 756.5 1286.5 757.5 1279.9 758.5 1283.1 759.5 1284.6 760.5 1294.7 761.5 1292.8 762.5 1280.9 763.5 1286.2 764.5 1285.8 765.5 1282.9 766.5 1285.6 767.5 1296.5 768.5 1296.9 769.5 1287.6 770.5 1295.6 771.5 1287.8 772.5 1296.4 773.5 1295.9 774.5 1301.9 775.5 1295.6 776.5 1300.4 777.5 1290 778.5 1285.9 779.5 1299.2 780.5 1284.6 781.5 1289.3 782.5 1288.6 783.5 1287 784.5 1297.1 785.5 1295.9 786.5 1290.7 787.5 1286 788.5 1295.5 789.5 1299 790.5 1295.9 791.5 1295.3 792.5 1291.8 793.5 1291.3 794.5 1292 795.5 1295.4 796.5 1294.8 797.5 1302.7 798.5 1293.7 799.5 1293.4 800.5 1303.6 801.5 1298.5 802.5 1293.5 803.5 1304.1 804.5 1292.7 805.5 1299.3 806.5 1295.3 807.5 1305.8 808.5 1300.7 809.5 1297 810.5 1301.6 811.5 1297.3 812.5 1299.2 813.5 1298.8 814.5 1292.6 815.5 1301 816.5 1288.9 817.5 1297.2 818.5 1291.3 819.5 1297.7 820.5 1295.3 821.5 1299.8 822.5 1301.3 823.5 1292.9 824.5 1293 825.5 1305.8 826.5 1295.9 827.5 1303.5 828.5 1304.8 829.5 1303.2 830.5 1306.8 831.5 1295.1 832.5 1295.1 833.5 1308.6 834.5 1306.1 835.5 1304.8 836.5 1298.9 837.5 1298.5 838.5 1296.4 839.5 1306 840.5 1306 841.5 1310.8 842.5 1299.4 843.5 1297.6 844.5 1300.7 845.5 1308.8 846.5 1298.1 847.5 1307.6 848.5 1303.9 849.5 1305.8 850.5 1295.9 851.5 1306.1 852.5 1293.2 853.5 1296.6 854.5 1300.3 855.5 1295.6 856.5 1299.2 857.5 1292.4 858.5 1294.4 859.5 1299.9 860.5 1295.3 861.5 1305 862.5 1295.8 863.5 1294.9 864.5 1296.3 865.5 1299.8 866.5 1295 867.5 1304.9 868.5 1293.2 869.5 1294.9 870.5 1294.3 871.5 1298.4 872.5 1303.4 873.5 1303.4 874.5 1303.5 875.5 1301.3 876.5 1291.7 877.5 1304.3 878.5 1292.8 879.5 1290.7 880.5 1298.1 881.5 1290.9 882.5 1291.6 883.5 1294.5 884.5 1307.1 885.5 1297.5 886.5 1307.3 887.5 1309.8 888.5 1298.6 889.5 1306.1 890.5 1307.9 891.5 1303.3 892.5 1310.8 893.5 1300.6 894.5 1300.2 895.5 1313.3 896.5 1315.1 897.5 1314.9 898.5 1316.3 899.5 1311.5 900.5 1309.3 901.5 1304.1 902.5 1312.4 903.5 1318 904.5 1316.5 905.5 1312.1 906.5 1314.9 907.5 1317.1 908.5 1320.6 909.5 1316.6 910.5 1321.5 911.5 1307.1 912.5 1321.8 913.5 1311.9 914.5 1307.7 915.5 1312.3 916.5 1310 917.5 1308.3 918.5 1320.4 919.5 1314.1 920.5 1310.3 921.5 1319.4 922.5 1311.6 923.5 1313.6 924.5 1314.3 925.5 1312.8 926.5 1318.7 927.5 1310.4 928.5 1319.4 929.5 1313.9 930.5 1319.9 931.5 1309.5 932.5 1312 933.5 1309.6 934.5 1307.4 935.5 1305.9 936.5 1315.8 937.5 1317.8 938.5 1310.4 939.5 1312.2 940.5 1311.2 941.5 1318 942.5 1310.6 943.5 1310.4 944.5 1314.5 945.5 1310.5 946.5 1318.3 947.5 1315.6 948.5 1306.9 949.5 1304.9 950.5 1310.8 951.5 1311 952.5 1307.9 953.5 1318.6 954.5 1308.2 955.5 1309.6 956.5 1309.4 957.5 1319.3 958.5 1320.9 959.5 1312.4 960.5 1316.5 961.5 1317.9 962.5 1314.6 963.5 1318.7 964.5 1310.5 965.5 1310.6 966.5 1311.2 967.5 1311.9 968.5 1324 969.5 1313.6 970.5 1319.9 971.5 1310.5 972.5 1323.5 973.5 1325.1 974.5 1310.7 975.5 1321.5 976.5 1311.7 977.5 1323.8 978.5 1309.4 979.5 1313.7 980.5 1316.8 981.5 1315.3 982.5 1319.8 983.5 1308.5 984.5 1320.8 985.5 1307.9 986.5 1322.2 987.5 1320 988.5 1308.9 989.5 1307.6 990.5 1309.1 991.5 1310.2 992.5 1315.2 993.5 1315.1 994.5 1311.7 995.5 1323.1 996.5 1323.3 997.5 1320.4 998.5 1324.6 999.5 1324.3 1000.5 1317.6 1001.5 1325.7 1002.5 1322.1 1003.5 1313.1 1004.5 1317.8 1005.5 1323.4 1006.5 1324.1 1007.5 1324.7 1008.5 1326.5 1009.5 1320 1010.5 1330.3 1011.5 1330.6 1012.5 1329.6 1013.5 1320.9 1014.5 1326.4 1015.5 1330 1016.5 1329.6 1017.5 1319.7 1018.5 1316.7 1019.5 1323.7 1020.5 1316.2 1021.5 1322.3 1022.5 1315.9 1023.5 1315.6 1024.5 1326.8 1025.5 1322.7 1026.5 1314.1 1027.5 1320.9 1028.5 1322 1029.5 1323.7 1030.5 1310.2 1031.5 1309.6 1032.5 1322.7 1033.5 1310.5 1034.5 1320.4 1035.5 1317 1036.5 1315.8 1037.5 1316.1 1038.5 1312.8 1039.5 1319.4 1040.5 1313.2 1041.5 1316.2 1042.5 1315.6 1043.5 1318.5 1044.5 1324.5 1045.5 1315.4 1046.5 1324.6 1047.5 1314.9 1048.5 1316.5 1049.5 1322.4 1050.5 1319.5 1051.5 1315.1 1052.5 1323.1 1053.5 1315.2 1054.5 1312.2 1055.5 1317.4 1056.5 1327.5 1057.5 1313.7 1058.5 1327 1059.5 1325.1 1060.5 1325.1 1061.5 1324.8 1062.5 1319.1 1063.5 1323.7 1064.5 1331.8 1065.5 1329.6 1066.5 1323.8 1067.5 1324.5 1068.5 1324.5 1069.5 1320.4 1070.5 1331.5 1071.5 1318.6 1072.5 1320.8 1073.5 1328.1 1074.5 1332 1075.5 1329.9 1076.5 1322 1077.5 1327.5 1078.5 1335.1 1079.5 1333.6 1080.5 1335.1 1081.5 1322.6 1082.5 1332.9 1083.5 1322.7 1084.5 1320 1085.5 1325.1 1086.5 1333.3 1087.5 1329 1088.5 1320.6 1089.5 1330.2 1090.5 1321.7 1091.5 1328.6 1092.5 1324.7 1093.5 1326.1 1094.5 1323.5 1095.5 1325.5 1096.5 1324.9 1097.5 1329.9 1098.5 1323.9 1099.5 1329.7 1100.5 1328 1101.5 1332.6 1102.5 1326.6 1103.5 1327.6 1104.5 1331.9 1105.5 1327.5 1106.5 1328 1107.5 1332.3 1108.5 1332.6 1109.5 1333.4 1110.5 1333.4 1111.5 1335.1 1112.5 1338.4 1113.5 1339.8 1114.5 1330.5 1115.5 1329.1 1116.5 1333 1117.5 1329.9 1118.5 1330.2 1119.5 1335.4 1120.5 1333.8 1121.5 1328.3 1122.5 1334.2 1123.5 1339.8 1124.5 1328.2 1125.5 1334.9 1126.5 1328.8 1127.5 1334.3 1128.5 1337.3 1129.5 1337.9 1130.5 1337.5 1131.5 1326.4 1132.5 1336.6 1133.5 1334.2 1134.5 1338.5 1135.5 1329.4 1136.5 1336.6 1137.5 1330 1138.5 1323.5 1139.5 1335.6 1140.5 1328.6 1141.5 1328.6 1142.5 1328.6 1143.5 1333.3 1144.5 1329.6 1145.5 1320.5 1146.5 1328.6 1147.5 1334.8 1148.5 1333.3 1149.5 1328.7 1150.5 1331.1 1151.5 1335.3 1152.5 1337 1153.5 1327 1154.5 1331.6 1155.5 1339 1156.5 1339.4 1157.5 1335 1158.5 1340.3 1159.5 1346.4 1160.5 1339.1 1161.5 1341.8 1162.5 1333.8 1163.5 1340.6 1164.5 1339.7 1165.5 1330.1 1166.5 1337 1167.5 1329.5 1168.5 1337.2 1169.5 1332 1170.5 1330 1171.5 1334.3 1172.5 1337.6 1173.5 1333 1174.5 1335.5 1175.5 1335.4 1176.5 1334.4 1177.5 1328.6 1178.5 1328.1 1179.5 1331.9 1180.5 1343.1 1181.5 1337.9 1182.5 1330.3 1183.5 1338.4 1184.5 1337.6 1185.5 1333.7 1186.5 1340.9 1187.5 1344.7 1188.5 1345.8 1189.5 1339.5 1190.5 1339.5 1191.5 1342.5 1192.5 1337.9 1193.5 1346.5 1194.5 1348.3 1195.5 1345.1 1196.5 1339.3 1197.5 1345.6 1198.5 1339.9 1199.5 1336.7 1200.5 1340.5 1201.5 1338 1202.5 1348.9 1203.5 1335.2 1204.5 1347.8 1205.5 1341.8 1206.5 1335.8 1207.5 1348.2 1208.5 1341.2 1209.5 1339.9 1210.5 1338.9 1211.5 1336.3 1212.5 1332.9 1213.5 1342.9 1214.5 1330.5 1215.5 1329.5 1216.5 1334.9 1217.5 1337.9 1218.5 1332.7 1219.5 1341.3 1220.5 1339.9 1221.5 1335.3 1222.5 1340 1223.5 1340.7 1224.5 1340.7 1225.5 1332.5 1226.5 1342.8 1227.5 1341.1 1228.5 1340.5 1229.5 1341.5 1230.5 1342.9 1231.5 1345.7 1232.5 1343.1 1233.5 1336 1234.5 1345.9 1235.5 1337.4 1236.5 1335.7 1237.5 1340.5 1238.5 1340.4 1239.5 1339.7 1240.5 1345.8 1241.5 1349.8 1242.5 1344.3 1243.5 1353.4 1244.5 1350.9 1245.5 1338.9 1246.5 1341.9 1247.5 1350.9 1248.5 1351.4 1249.5 1338.6 1250.5 1339.6 1251.5 1347.3 1252.5 1342.5 1253.5 1339.4 1254.5 1346.3 1255.5 1345.9 1256.5 1340.3 1257.5 1335.8 1258.5 1334 1259.5 1342.3 1260.5 1328.6 1261.5 1327.3 1262.5 1332.3 1263.5 1326.8 1264.5 1329 1265.5 1333.2 1266.5 1335.8 1267.5 1342.3 1268.5 1339 1269.5 1337.9 1270.5 1333.7 1271.5 1334.4 1272.5 1344 1273.5 1344.9 1274.5 1337.3 1275.5 1336.2 1276.5 1334.5 1277.5 1343.7 1278.5 1344.6 1279.5 1342.8 1280.5 1337.6 1281.5 1330.4 1282.5 1331.2 1283.5 1329.6 1284.5 1342.3 1285.5 1334 1286.5 1339.5 1287.5 1331.5 1288.5 1328.6 1289.5 1335.3 1290.5 1328.2 1291.5 1339.4 1292.5 1334.6 1293.5 1333.2 1294.5 1333.3 1295.5 1338.9 1296.5 1341.7 1297.5 1338.4 1298.5 1331.2 1299.5 1341.9 1300.5 1337.3 1301.5 1334.7 1302.5 1335.6 1303.5 1344.4 1304.5 1336.4 1305.5 1343.9 1306.5 1343.3 1307.5 1338.5 1308.5 1336.6 1309.5 1343.4 1310.5 1347.3 1311.5 1339.5 1312.5 1346.1 1313.5 1344.8 1314.5 1351.2 1315.5 1342.3 1316.5 1343.4 1317.5 1351.2 1318.5 1353.1 1319.5 1350.9 1320.5 1355 1321.5 1343.7 1322.5 1337.6 1323.5 1345.9 1324.5 1337.8 1325.5 1336.7 1326.5 1335.2 1327.5 1343.9 1328.5 1346.3 1329.5 1336 1330.5 1338.7 1331.5 1347.6 1332.5 1345 1333.5 1349 1334.5 1337.9 1335.5 1342.9 1336.5 1343.9 1337.5 1340.7 1338.5 1342.6 1339.5 1338 1340.5 1350.6 1341.5 1338.6 1342.5 1343.2 1343.5 1340.9 1344.5 1348 1345.5 1345.6 1346.5 1348.5 1347.5 1343.9 1348.5 1336.2 1349.5 1348.4 1350.5 1340.3 1351.5 1349.3 1352.5 1347.9 1353.5 1349.1 1354.5 1346.4 1355.5 1343.5 1356.5 1342.8 1357.5 1341.3 1358.5 1340.9 1359.5 1344.6 1360.5 1344.3 1361.5 1354.5 1362.5 1345.8 1363.5 1355.8 1364.5 1348.5 1365.5 1343.5 1366.5 1342.1 1367.5 1356.1 1368.5 1343.2 1369.5 1349.7 1370.5 1351 1371.5 1346.3 1372.5 1343.7 1373.5 1349.5 1374.5 1345.2 1375.5 1345.2 1376.5 1349.5 1377.5 1347.2 1378.5 1354.3 1379.5 1352 1380.5 1349.5 1381.5 1351 1382.5 1353.7 1383.5 1355.3 1384.5 1356.8 1385.5 1350 1386.5 1349.6 1387.5 1346.4 1388.5 1356.8 1389.5 1351.6 1390.5 1349.8 1391.5 1353.5 1392.5 1354.5 1393.5 1347.8 1394.5 1354.2 1395.5 1355.5 1396.5 1354.3 1397.5 1345.1 1398.5 1355.7 1399.5 1350.7 1400.5 1350.8 1401.5 1357.2 1402.5 1348.3 1403.5 1345.1 1404.5 1353 1405.5 1348.8 1406.5 1359.1 1407.5 1349.6 1408.5 1358.2 1409.5 1351.9 1410.5 1360.3 1411.5 1359.7 1412.5 1362.8 1413.5 1363 1414.5 1358.9 1415.5 1363.1 1416.5 1352.9 1417.5 1350.8 1418.5 1361.4 1419.5 1357 1420.5 1358.3 1421.5 1348.7 1422.5 1351.2 1423.5 1359.8 1424.5 1350.4 1425.5 1360.6 1426.5 1361.6 1427.5 1357.3 1428.5 1360.5 1429.5 1346.6 1430.5 1351.1 1431.5 1344.9 1432.5 1356.1 1433.5 1343.6 1434.5 1352.4 1435.5 1354 1436.5 1351.8 1437.5 1340.6 1438.5 1351 1439.5 1344.6 1440.5 1354.4 1441.5 1345.3 1442.5 1344.7 1443.5 1348.8 1444.5 1347.7 1445.5 1351.6 1446.5 1349.1 1447.5 1349.3 1448.5 1351.8 1449.5 1358.4 1450.5 1350.5 1451.5 1348.8 1452.5 1346.5 1453.5 1352.3 1454.5 1351.1 1455.5 1348.8 1456.5 1351.8 1457.5 1350.6 1458.5 1351.2 1459.5 1352.3 1460.5 1358.8 1461.5 1355.3 1462.5 1358.9 1463.5 1356.7 1464.5 1352.9 1465.5 1349.8 1466.5 1356.6 1467.5 1347.4 1468.5 1360.2 1469.5 1350.2 1470.5 1346.1 1471.5 1359.1 1472.5 1360.6 1473.5 1350.6 1474.5 1351.1 1475.5 1353.8 1476.5 1346.4 1477.5 1349.1 1478.5 1353.3 1479.5 1349.1 1480.5 1352.6 1481.5 1357.2 1482.5 1357.6 1483.5 1357.3 1484.5 1348 1485.5 1351.3 1486.5 1348.7 1487.5 1345.9 1488.5 1344.1 1489.5 1349.9 1490.5 1351.8 1491.5 1347.4 1492.5 1349.7 1493.5 1359.7 1494.5 1358.9 1495.5 1361.5 1496.5 1355.3 1497.5 1351 1498.5 1356.9 1499.5 1352.1 1500.5 1357.9 1501.5 1358.5 1502.5 1351.9 1503.5 1360.7 1504.5 1360.8 1505.5 1350.6 1506.5 1349.4 1507.5 1356.6 1508.5 1352.1 1509.5 1365.1 1510.5 1351.8 1511.5 1360.8 1512.5 1357.2 1513.5 1357.4 1514.5 1361.9 1515.5 1359.7 1516.5 1367.1 1517.5 1370.7 1518.5 1362.4 1519.5 1364.5 1520.5 1366.5 1521.5 1372.6 1522.5 1360.8 1523.5 1362.8 1524.5 1362.2 1525.5 1374.6 1526.5 1375.6 1527.5 1376 1528.5 1369.4 1529.5 1368.1 1530.5 1367.5 1531.5 1370.1 1532.5 1376.1 1533.5 1367.5 1534.5 1377.6 1535.5 1367 1536.5 1373.4 1537.5 1366.3 1538.5 1364.3 1539.5 1369.2 1540.5 1370.5 1541.5 1368.7 1542.5 1373 1543.5 1373.3 1544.5 1375.1 1545.5 1364.1 1546.5 1373.1 1547.5 1370.2 1548.5 1366.4 1549.5 1363 1550.5 1377 1551.5 1364.9 1552.5 1364.7 1553.5 1366.8 1554.5 1365.7 1555.5 1371.8 1556.5 1370 1557.5 1366.1 1558.5 1369.5 1559.5 1374.1 1560.5 1368.9 1561.5 1375.2 1562.5 1368.3 1563.5 1363.3 1564.5 1361.6 1565.5 1360.6 1566.5 1370 1567.5 1361.5 1568.5 1372 1569.5 1359.1 1570.5 1368.1 1571.5 1365 1572.5 1366.7 1573.5 1361.5 1574.5 1361.7 1575.5 1359.7 1576.5 1367.7 1577.5 1365 1578.5 1373.6 1579.5 1374.5 1580.5 1377.1 1581.5 1370.9 1582.5 1372.5 1583.5 1366.9 1584.5 1373.2 1585.5 1371.3 1586.5 1367.1 1587.5 1381.9 1588.5 1368 1589.5 1370.6 1590.5 1371.8 1591.5 1380.9 1592.5 1371.8 1593.5 1382.1 1594.5 1372.7 1595.5 1374.5 1596.5 1377.9 1597.5 1377.5 1598.5 1368.8 1599.5 1373.8 1600.5 1367.6 1601.5 1368.2 1602.5 1376.7 1603.5 1369.9 1604.5 1371.3 1605.5 1381.2 1606.5 1369.6 1607.5 1372.8 1608.5 1375 1609.5 1368 1610.5 1366.9 1611.5 1374.8 1612.5 1370.5 1613.5 1370.2 1614.5 1375.4 1615.5 1364.3 1616.5 1366.7 1617.5 1362.5 1618.5 1366.5 1619.5 1367.3 1620.5 1372.1 1621.5 1375.9 1622.5 1367.7 1623.5 1367.4 1624.5 1369.3 1625.5 1374.5 1626.5 1372.3 1627.5 1362.4 1628.5 1372.3 1629.5 1368 1630.5 1360.1 1631.5 1363.7 1632.5 1364.2 1633.5 1369.3 1634.5 1362.5 1635.5 1369.1 1636.5 1369.2 1637.5 1375 1638.5 1370.9 1639.5 1372.9 1640.5 1365.1 1641.5 1372 1642.5 1376.8 1643.5 1368.4 1644.5 1371.3 1645.5 1371.8 1646.5 1383.5 1647.5 1373 1648.5 1377 1649.5 1387.4 1650.5 1387.3 1651.5 1382.6 1652.5 1381.5 1653.5 1374.4 1654.5 1387.3 1655.5 1383.9 1656.5 1383.3 1657.5 1388.7 1658.5 1383.3 1659.5 1385.6 1660.5 1378.8 1661.5 1384.1 1662.5 1384.8 1663.5 1387.6 1664.5 1389.9 1665.5 1379 1666.5 1376.5 1667.5 1385.6 1668.5 1382.5 1669.5 1387.9 1670.5 1392 1671.5 1381.4 1672.5 1382.1 1673.5 1382.2 1674.5 1389.4 1675.5 1383.5 1676.5 1382.4 1677.5 1383.5 1678.5 1384.2 1679.5 1380.3 1680.5 1381.8 1681.5 1383.7 1682.5 1391.2 1683.5 1383.4 1684.5 1394.6 1685.5 1381.2 1686.5 1380.4 1687.5 1382.9 1688.5 1391.9 1689.5 1392.4 1690.5 1383.1 1691.5 1390.2 1692.5 1384.6 1693.5 1393.2 1694.5 1386.4 1695.5 1392.8 1696.5 1388.7 1697.5 1382 1698.5 1388.1 1699.5 1393.2 1700.5 1377.2 1701.5 1376.6 1702.5 1382.3 1703.5 1377.1 1704.5 1377.6 1705.5 1380.5 1706.5 1376.9 1707.5 1387.7 1708.5 1388.2 1709.5 1391.5 1710.5 1381 1711.5 1390.2 1712.5 1386.4 1713.5 1388.2 1714.5 1394.3 1715.5 1389.7 1716.5 1394.2 1717.5 1389.2 1718.5 1386.4 1719.5 1388.5 1720.5 1390 1721.5 1392.5 1722.5 1389.1 1723.5 1395.4 1724.5 1392.9 1725.5 1395.7 1726.5 1388.3 1727.5 1396.1 1728.5 1387 1729.5 1382.6 1730.5 1390.4 1731.5 1387.3 1732.5 1379.3 1733.5 1389.5 1734.5 1379.2 1735.5 1385.2 1736.5 1376.3 1737.5 1382.2 1738.5 1378.5 1739.5 1375.2 1740.5 1383.9 1741.5 1388.1 1742.5 1390.6 1743.5 1382.3 1744.5 1377.5 1745.5 1387 1746.5 1388.2 1747.5 1390.6 1748.5 1382.7 1749.5 1384 1750.5 1391.9 1751.5 1384.4 1752.5 1386.7 1753.5 1386.7 1754.5 1399.5 1755.5 1393.3 1756.5 1390.6 1757.5 1396.2 1758.5 1393.1 1759.5 1392.9 1760.5 1398.3 1761.5 1396.4 1762.5 1390.3 1763.5 1391.1 1764.5 1393.4 1765.5 1392 1766.5 1393.2 1767.5 1398.3 1768.5 1394.4 1769.5 1402.7 1770.5 1393.3 1771.5 1391.9 1772.5 1405.1 1773.5 1398.6 1774.5 1403.5 1775.5 1398.9 1776.5 1403.8 1777.5 1390.7 1778.5 1389 1779.5 1395.1 1780.5 1392.8 1781.5 1394.6 1782.5 1385.8 1783.5 1385.4 1784.5 1391.9 1785.5 1388 1786.5 1389.5 1787.5 1384.1 1788.5 1395.1 1789.5 1386.9 1790.5 1386.7 1791.5 1387 1792.5 1382 1793.5 1396.3 1794.5 1388.2 1795.5 1394.8 1796.5 1392.4 1797.5 1391 1798.5 1397.4 1799.5 1388.6 1800.5 1391.7 1801.5 1394.6 1802.5 1393.7 1803.5 1391.9 1804.5 1388.1 1805.5 1387.3 1806.5 1393.8 1807.5 1388.1 1808.5 1385.7 1809.5 1390.9 1810.5 1393 1811.5 1393 1812.5 1390 1813.5 1386.1 1814.5 1391.1 1815.5 1398.6 1816.5 1398.2 1817.5 1397.8 1818.5 1395.1 1819.5 1390.6 1820.5 1391 1821.5 1397.9 1822.5 1397.2 1823.5 1383.6 1824.5 1388.8 1825.5 1387.5 1826.5 1394.5 1827.5 1381.1 1828.5 1383.8 1829.5 1392.7 1830.5 1386 1831.5 1391.4 1832.5 1390.7 1833.5 1385.6 1834.5 1384.7 1835.5 1395.6 1836.5 1395.6 1837.5 1393.5 1838.5 1394 1839.5 1396.1 1840.5 1391.8 1841.5 1398.9 1842.5 1398.4 1843.5 1397.2 1844.5 1386.9 1845.5 1386.3 1846.5 1388.1 1847.5 1396.3 1848.5 1395.8 1849.5 1387.6 1850.5 1389.2 1851.5 1400.5 1852.5 1396.8 1853.5 1389.8 1854.5 1399.6 1855.5 1388.2 1856.5 1397.4 1857.5 1394.9 1858.5 1391.6 1859.5 1395.7 1860.5 1392.8 1861.5 1384.9 1862.5 1389.2 1863.5 1395.4 1864.5 1385.8 1865.5 1391.2 1866.5 1394 1867.5 1389.8 1868.5 1391.1 1869.5 1394.2 1870.5 1396.5 1871.5 1392.5 1872.5 1387.4 1873.5 1386.4 1874.5 1391.9 1875.5 1393.2 1876.5 1393.1 1877.5 1399.8 1878.5 1390.3 1879.5 1388.2 1880.5 1391.1 1881.5 1388.5 1882.5 1396.4 1883.5 1389.8 1884.5 1388.7 1885.5 1391.1 1886.5 1398 1887.5 1394.4 1888.5 1398.4 1889.5 1401.4 1890.5 1399.3 1891.5 1399.8 1892.5 1400.9 1893.5 1397.8 1894.5 1398.8 1895.5 1399.8 1896.5 1393.3 1897.5 1395.6 1898.5 1399.2 1899.5 1388.7 1900.5 1392.3 1901.5 1399.7 1902.5 1396.1 1903.5 1392.8 1904.5 1402.9 1905.5 1402.9 1906.5 1399.2 1907.5 1397.4 1908.5 1407.3 1909.5 1409.2 1910.5 1399.1 1911.5 1405.3 1912.5 1397.9 1913.5 1394.6 1914.5 1399.1 1915.5 1404.1 1916.5 1402.5 1917.5 1392.4 1918.5 1402.3 1919.5 1388.8 1920.5 1392.9 1921.5 1397.2 1922.5 1401 1923.5 1393.5 1924.5 1389 1925.5 1394.5 1926.5 1396 1927.5 1389.3 1928.5 1393.8 1929.5 1388.5 1930.5 1391.6 1931.5 1393.2 1932.5 1389.5 1933.5 1396.3 1934.5 1397.7 1935.5 1397.2 1936.5 1401.1 1937.5 1401.5 1938.5 1397 1939.5 1393.9 1940.5 1402.8 1941.5 1399.6 1942.5 1395.4 1943.5 1398.6 1944.5 1391.8 1945.5 1394.4 1946.5 1396 1947.5 1387.8 1948.5 1393.4 1949.5 1384.3 1950.5 1396.8 1951.5 1392.6 1952.5 1395.4 1953.5 1391.5 1954.5 1392.1 1955.5 1386.6 1956.5 1389.8 1957.5 1377.1 1958.5 1387 1959.5 1380.1 1960.5 1380.7 1961.5 1377.3 1962.5 1374.2 1963.5 1374.8 1964.5 1371 1965.5 1372.9 1966.5 1379.8 1967.5 1374.4 1968.5 1369.2 1969.5 1373.3 1970.5 1368.6 1971.5 1367.6 1972.5 1372.9 1973.5 1371.5 1974.5 1372.2 1975.5 1369.4 1976.5 1374.3 1977.5 1369.4 1978.5 1366.9 1979.5 1370.1 1980.5 1375.1 1981.5 1369 1982.5 1362.4 1983.5 1374.8 1984.5 1361.8 1985.5 1363.6 1986.5 1367.7 1987.5 1367.1 1988.5 1366 1989.5 1374.5 1990.5 1365.7 1991.5 1370.9 1992.5 1359.7 1993.5 1371.2 1994.5 1371 1995.5 1364.6 1996.5 1367.7 1997.5 1367.1 1998.5 1371.1 1999.5 1371 2000.5 1359.4 2001.5 1360.5 2002.5 1370 2003.5 1366.8 2004.5 1358.8 2005.5 1365.1 2006.5 1359.2 2007.5 1363.2 2008.5 1370.1 2009.5 1369.6 2010.5 1359.7 2011.5 1359.3 2012.5 1354.8 2013.5 1368.8 2014.5 1365.5 2015.5 1367.1 2016.5 1358 2017.5 1364.2 2018.5 1363.8 2019.5 1363.6 2020.5 1358.4 2021.5 1362 2022.5 1357.5 2023.5 1365.2 2024.5 1360.9 2025.5 1366.3 2026.5 1364 2027.5 1369.3 2028.5 1358.7 2029.5 1369 2030.5 1362.3 2031.5 1367.1 2032.5 1366.2 2033.5 1368.4 2034.5 1359.1 2035.5 1367.6 2036.5 1364.7 2037.5 1355.2 2038.5 1360.2 2039.5 1357.1 2040.5 1363.4 2041.5 1362.7 2042.5 1366.8 2043.5 1366.7 2044.5 1362.3 2045.5 1359.3 2046.5 1358.9 2047.5 1360 2048.5 1353.5 2049.5 1358.3 2050.5 1353.9 2051.5 1365 2052.5 1362.1 2053.5 1357.3 2054.5 1351.4 2055.5 1359.2 2056.5 1362.9 2057.5 1355.9 2058.5 1352.2 2059.5 1356.9 2060.5 1352.4 2061.5 1359.7 2062.5 1352.6 2063.5 1358.1 2064.5 1348.2 2065.5 1355.2 2066.5 1345.2 2067.5 1357.3 2068.5 1354.7 2069.5 1352.7 2070.5 1344.5 2071.5 1349.8 2072.5 1352.8 2073.5 1340.5 2074.5 1350.4 2075.5 1346.1 2076.5 1355.1 2077.5 1347.4 2078.5 1348 2079.5 1349.3 2080.5 1345 2081.5 1356.4 2082.5 1348.9 2083.5 1345.7 2084.5 1356.5 2085.5 1345.5 2086.5 1344.3 2087.5 1354 2088.5 1353.8 2089.5 1353.7 2090.5 1349.7 2091.5 1349.7 2092.5 1348.3 2093.5 1354.8 2094.5 1348.6 2095.5 1353.5 2096.5 1351.7 2097.5 1347.9 2098.5 1346.5 2099.5 1341.2 2100.5 1339.8 2101.5 1352.2 2102.5 1350.1 2103.5 1354.3 2104.5 1341.5 2105.5 1351.4 2106.5 1347 2107.5 1350.9 2108.5 1343.5 2109.5 1350.6 2110.5 1353.6 2111.5 1356 2112.5 1352.8 2113.5 1353.9 2114.5 1353 2115.5 1343.9 2116.5 1353.8 2117.5 1350.2 2118.5 1345 2119.5 1355.7 2120.5 1350.9 2121.5 1346.2 2122.5 1351.1 2123.5 1344.3 2124.5 1345.6 2125.5 1343.6 2126.5 1349.1 2127.5 1351.5 2128.5 1350.4 2129.5 1349.7 2130.5 1342.8 2131.5 1346.1 2132.5 1343.6 2133.5 1354.9 2134.5 1342.6 2135.5 1352.6 2136.5 1348.5 2137.5 1342.2 2138.5 1340.5 2139.5 1354 2140.5 1351.3 2141.5 1344.2 2142.5 1353.2 2143.5 1341 2144.5 1343.7 2145.5 1351.7 2146.5 1352.9 2147.5 1345.6 2148.5 1355.1 2149.5 1353.8 2150.5 1357.2 2151.5 1345.8 2152.5 1353.2 2153.5 1346.1 2154.5 1349.5 2155.5 1350.3 2156.5 1348.5 2157.5 1356.6 2158.5 1346.8 2159.5 1350.1 2160.5 1352.8 2161.5 1353.9 2162.5 1352.1 2163.5 1359.7 2164.5 1354.4 2165.5 1344.8 2166.5 1347 2167.5 1349.4 2168.5 1347.9 2169.5 1356.4 2170.5 1350.8 2171.5 1357.2 2172.5 1352.8 2173.5 1350.2 2174.5 1347.8 2175.5 1357.1 2176.5 1344.3 2177.5 1354.8 2178.5 1351.1 2179.5 1354.5 2180.5 1346.5 2181.5 1343 2182.5 1345 2183.5 1341.9 2184.5 1350.7 2185.5 1345.5 2186.5 1354.6 2187.5 1351.4 2188.5 1349.8 2189.5 1347.2 2190.5 1340.8 2191.5 1341.4 2192.5 1348.7 2193.5 1354.6 2194.5 1356.8 2195.5 1354.8 2196.5 1351.8 2197.5 1348.7 2198.5 1347.1 2199.5 1357.4 2200.5 1354.3 2201.5 1358.4 2202.5 1352.3 2203.5 1355.7 2204.5 1355.3 2205.5 1354.8 2206.5 1353.6 2207.5 1355.8 2208.5 1357.5 2209.5 1349 2210.5 1351.4 2211.5 1353.9 2212.5 1351.4 2213.5 1356.6 2214.5 1345.3 2215.5 1344.4 2216.5 1348.7 2217.5 1343.5 2218.5 1344.9 2219.5 1349.7 2220.5 1347.5 2221.5 1355.5 2222.5 1350 2223.5 1357.3 2224.5 1346.2 2225.5 1347.1 2226.5 1343.1 2227.5 1343.6 2228.5 1355.4 2229.5 1349.6 2230.5 1350.6 2231.5 1351.2 2232.5 1352.3 2233.5 1352.2 2234.5 1343.5 2235.5 1345.7 2236.5 1349.3 2237.5 1347.4 2238.5 1356.5 2239.5 1356.6 2240.5 1359.1 2241.5 1358 2242.5 1362.4 2243.5 1354.3 2244.5 1365.8 2245.5 1354.6 2246.5 1354.7 2247.5 1353 2248.5 1362.6 2249.5 1355.2 2250.5 1355.9 2251.5 1356.4 2252.5 1356 2253.5 1359.8 2254.5 1352.3 2255.5 1360.7 2256.5 1356.8 2257.5 1350.8 2258.5 1351.1 2259.5 1363.7 2260.5 1360.4 2261.5 1359.8 2262.5 1361.9 2263.5 1359.1 2264.5 1362.5 2265.5 1354.9 2266.5 1360.6 2267.5 1357.8 2268.5 1351.4 2269.5 1350.2 2270.5 1357.2 2271.5 1362.6 2272.5 1363.4 2273.5 1354.3 2274.5 1356.9 2275.5 1361.8 2276.5 1355.9 2277.5 1353.5 2277.6 1356.5"/>
<path fill="#000080" d="M364.5 1113.5L389.5 1156.5L339.5 1156.5ZM444.2 1241.1L469.2 1284.1L419.2 1284.1ZM523.9 1240.7L548.9 1283.7L498.9 1283.7ZM603.6 1250.0L628.6 1293.0L578.6 1293.0ZM683.4 1259.7L708.4 1302.7L658.4 1302.7ZM763.1 1262.7L788.1 1305.7L738.1 1305.7ZM842.8 1273.7L867.8 1316.7L817.8 1316.7ZM922.5 1281.8L947.5 1324.8L897.5 1324.8ZM1002.2 1293.3L1027.2 1336.3L977.2 1336.3ZM1081.9 1304.6L1106.9 1347.6L1056.9 1347.6ZM1161.6 1309.1L1186.6 1352.1L1136.6 1352.1ZM1241.4 1323.7L1266.4 1366.7L1216.4 1366.7ZM1321.1 1321.5L1346.1 1364.5L1296.1 1364.5ZM1400.8 1331.3L1425.8 1374.3L1375.8 1374.3ZM1480.5 1323.1L1505.5 1366.1L1455.5 1366.1ZM1560.2 1339.5L1585.2 1382.5L1535.2 1382.5ZM1639.9 1345.4L1664.9 1388.4L1614.9 1388.4ZM1719.6 1365.9L1744.6 1408.9L1694.6 1408.9ZM1799.4 1359.5L1824.4 1402.5L1774.4 1402.5ZM1879.1 1368.7L1904.1 1411.7L1854.1 1411.7ZM1958.8 1355.6L1983.8 1398.6L1933.8 1398.6ZM2038.5 1328.8L2063.5 1371.8L2013.5 1371.8ZM2118.2 1325.8L2143.2 1368.8L2093.2 1368.8ZM2197.9 1321.4L2222.9 1364.4L2172.9 1364.4Z"/>
</g>
<g class="tl" id="ylab" transform="scale(0.95 1)"><text x="283.8" y="1550.0">2</text><text x="283.8" y="1260.5">4</text><text x="283.3" y="971.0">6</text><text x="283.8" y="681.5">8</text><text x="243.9 283.8" y="392.0">10</text><text x="243.9 283.8" y="102.5">12</text></g>
<g class="tl" id="xlab" transform="scale(0.95 1)"><text x="365.3" y="1760.0">0</text><text x="608.8 645.0 681.2" y="1760.0">500</text><text x="866.7 906.6 942.8 979.0" y="1760.0">1000</text><text x="1146.4 1186.3 1222.5 1258.7" y="1760.0">1500</text><text x="1429.7 1466.0 1502.2 1538.4" y="1760.0">2000</text><text x="1709.4 1745.7 1781.9 1818.1" y="1760.0">2500</text><text x="1989.1 2025.4 2061.6 2097.8" y="1760.0">3000</text><text x="2268.8 2305.1 2341.3 2377.5" y="1760.0">3500</text></g>
<g id="legend"><path stroke="#000000" stroke-width="9" d="M1112.0 146.5H1290.0"/><path fill="#000000" d="M1201.0 117.8L1226.0 160.8L1176.0 160.8Z"/><path stroke="#ff0000" stroke-width="9" d="M1672.0 146.5H1850.0"/><path fill="#ff0000" d="M1761.0 117.8L1786.0 160.8L1736.0 160.8Z"/><path stroke="#0000ff" stroke-width="9" d="M1112.0 240.5H1290.0"/><path fill="#0000ff" d="M1201.0 211.8L1226.0 254.8L1176.0 254.8Z"/><path stroke="#ff00ff" stroke-width="9" d="M1700.0 240.5H1878.0"/><path fill="#ff00ff" d="M1789.0 211.8L1814.0 254.8L1764.0 254.8Z"/><path stroke="#008000" stroke-width="9" d="M1112.0 335.5H1290.0"/><path fill="#008000" d="M1201.0 306.8L1226.0 349.8L1176.0 349.8Z"/><path stroke="#000080" stroke-width="9" d="M1700.0 335.5H1878.0"/><path fill="#000080" d="M1789.0 306.8L1814.0 349.8L1764.0 349.8Z"/></g>
<g class="lg"><text x="1304.3 1340.3 1352.9 1399.9 1420.0 1481.0 1488.4 1537.4 1554.9 1575.9 1620.3" y="171.0">5 wt% Ni-CS</text><text x="1860.2 1893.0 1929.0 1941.1 1988.1 2008.2 2069.2 2076.6 2125.6 2143.1 2164.1 2208.5" y="171.0">10 wt% Ni-CS</text><text x="1300.1 1332.4 1368.4 1381.0 1428.0 1448.1 1509.1 1516.5 1565.5 1583.0 1604.0 1648.4" y="266.0">15 wt% Ni-CS</text><text x="1890.7 1921.5 1957.5 1969.6 2016.6 2036.7 2097.7 2105.1 2154.1 2171.6 2192.6 2237.0" y="266.0">20 wt% Ni-CS</text><text x="1302.1 1332.4 1368.4 1381.0 1428.0 1448.1 1509.1 1516.5 1565.5 1583.0 1604.0 1648.4" y="360.0">25 wt% Ni-CS</text><text x="1890.7 1921.5 1957.5 1969.6 2016.6 2036.7 2097.7 2105.1 2154.1 2171.6 2192.6 2235.4" y="360.0">20 wt% Ni-CB</text></g>
<g class="ti"><text x="1203.4 1249.2 1266.2 1321.3 1354.3 1367.9 1389.9 1415.8" y="1879.0">Time (s)</text></g>
<g class="ti"><g transform="translate(122 1314) rotate(-90)"><text y="0"><tspan x="-4.6" letter-spacing="-3.35">Current density </tspan><tspan x="484.6" letter-spacing="-4.46">(mA/cm</tspan><tspan x="721.5" y="-38" font-size="46">2</tspan><tspan x="742.2" y="0">)</tspan></text></g></g>
</svg>
</body></html>
